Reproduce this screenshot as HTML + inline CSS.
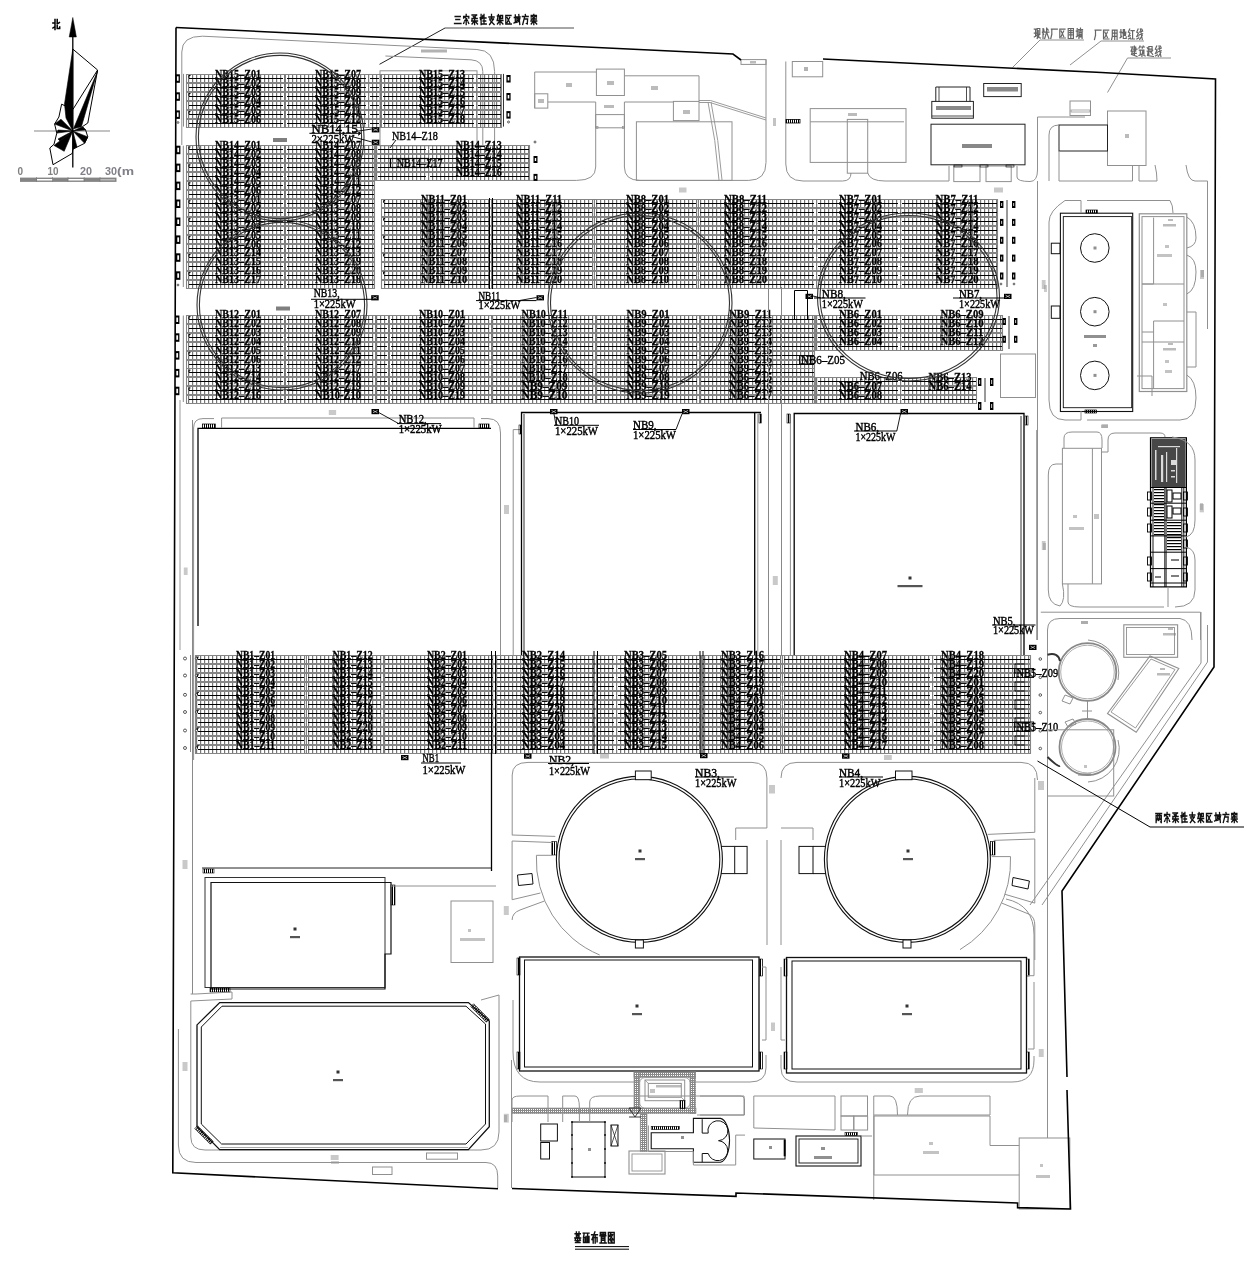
<!DOCTYPE html>
<html><head><meta charset="utf-8"><style>
html,body{margin:0;padding:0;background:#fff;}
svg{display:block;will-change:transform;}
</style></head><body>
<svg width="1254" height="1262" viewBox="0 0 1254 1262">
<defs>
<pattern id="pv" patternUnits="userSpaceOnUse" width="4" height="20" x="0" y="0">
<rect x="0" y="0" width="1.2" height="20" fill="#767676"/>
</pattern>
<pattern id="hatch" patternUnits="userSpaceOnUse" width="2" height="2">
<rect x="0" y="0" width="1" height="2" fill="#000"/>
</pattern>
<pattern id="dense" patternUnits="userSpaceOnUse" width="3" height="3">
<rect x="0" y="0" width="1.6" height="3" fill="#000"/><rect x="0" y="0" width="3" height="0.8" fill="#000"/>
</pattern>
<pattern id="dense2" patternUnits="userSpaceOnUse" width="2.5" height="3">
<rect x="0" y="0" width="2.5" height="1.2" fill="#000"/>
</pattern>
<pattern id="grav" patternUnits="userSpaceOnUse" width="2" height="2">
<rect x="0" y="0" width="1" height="2" fill="#888"/><rect x="0" y="0" width="2" height="1" fill="#888"/>
</pattern>
</defs>
<line x1="72.8" y1="30.0" x2="72.8" y2="167.5" stroke="#000" stroke-width="1.3" />
<polygon points="72.8,17.5 69.2,37.0 76.4,37.0" stroke="#000" stroke-width="0.5" fill="#000" />
<line x1="34.0" y1="131.0" x2="110.0" y2="131.0" stroke="#888" stroke-width="1.2" />
<polyline points="72.8,49.1 97.6,70.0 87.8,123.0 82.4,126.7 85.6,130.0 87.8,136.9 84.6,143.3 72.8,149.2 72.3,153.4 53.0,164.7 49.8,148.0 54.0,144.3 56.8,133.1 54.6,124.0 58.9,117.0 61.6,104.2 66.4,106.4 72.8,109.6 97.6,70.0" stroke="#000" stroke-width="1" fill="none" />
<polygon points="72.8,49.0 64.5,104.0 66.0,118.0 72.8,131.0" stroke="#000" stroke-width="0.6" fill="#000" />
<polygon points="97.6,71.0 73.5,128.8 81.4,126.7" stroke="#000" stroke-width="0.6" fill="#000" />
<polygon points="54.6,124.0 61.0,119.2 72.8,131.0" stroke="#000" stroke-width="0.6" fill="#000" />
<polygon points="56.8,133.1 58.0,130.0 72.8,131.0" stroke="#000" stroke-width="0.6" fill="#000" />
<polygon points="54.0,145.4 64.2,151.3 72.8,131.0" stroke="#000" stroke-width="0.6" fill="#000" />
<polygon points="72.8,149.2 77.0,147.0 72.8,131.0" stroke="#000" stroke-width="0.6" fill="#000" />
<polygon points="84.6,143.3 87.8,136.9 72.8,131.0" stroke="#000" stroke-width="0.6" fill="#000" />
<polygon points="82.4,126.7 85.6,130.0 72.8,131.0" stroke="#000" stroke-width="0.6" fill="#000" />
<polygon points="58.0,139.0 60.0,141.0 72.8,131.0" stroke="#000" stroke-width="0.6" fill="#000" />
<path d="M55.0,19.5L55.0,29.5M52.9,23.0L55.0,23.0M52.9,28.0L55.0,26.5M57.2,19.5L57.2,28.5M57.2,28.5L59.7,28.5M59.7,28.5L59.7,27.0M57.2,24.0L59.4,22.5" stroke="#000" stroke-width="1.5" fill="none" stroke-linecap="square"/>
<rect x="20.0" y="177.6" width="96.5" height="4.3" rx="0" stroke="none" stroke-width="0" fill="#858585" />
<rect x="37.0" y="179.0" width="15.5" height="1.5" rx="0" stroke="none" stroke-width="0" fill="#fff" />
<rect x="68.2" y="179.0" width="15.5" height="1.5" rx="0" stroke="none" stroke-width="0" fill="#fff" />
<rect x="100.0" y="179.0" width="15.0" height="1.5" rx="0" stroke="none" stroke-width="0" fill="#bbb" />
<line x1="36.5" y1="177.0" x2="36.5" y2="182.0" stroke="#777" stroke-width="0.6" />
<line x1="52.5" y1="177.0" x2="52.5" y2="182.0" stroke="#777" stroke-width="0.6" />
<line x1="68.0" y1="177.0" x2="68.0" y2="182.0" stroke="#777" stroke-width="0.6" />
<line x1="84.2" y1="177.0" x2="84.2" y2="182.0" stroke="#777" stroke-width="0.6" />
<line x1="100.0" y1="177.0" x2="100.0" y2="182.0" stroke="#777" stroke-width="0.6" />
<text x="17.5" y="174.5" font-family="Liberation Sans" font-size="10" fill="#808080" font-weight="bold">0</text>
<text x="47.5" y="174.5" font-family="Liberation Sans" font-size="10" fill="#808080" textLength="11.0" lengthAdjust="spacingAndGlyphs" font-weight="bold">10</text>
<text x="80.0" y="174.5" font-family="Liberation Sans" font-size="10" fill="#80808a" textLength="12.0" lengthAdjust="spacingAndGlyphs" font-weight="bold">20</text>
<text x="105.0" y="174.5" font-family="Liberation Sans" font-size="10" fill="#80808a" textLength="12.0" lengthAdjust="spacingAndGlyphs" font-weight="bold">30</text>
<text x="117.0" y="174.5" font-family="Liberation Sans" font-size="10" fill="#80808a" textLength="17.0" lengthAdjust="spacingAndGlyphs" font-weight="bold">(m</text>
<path d="M455.1,16.5L460.3,16.5M455.8,19.5L459.7,19.5M454.5,23.5L461.0,23.5M466.2,14.5L466.2,16.5M463.6,16.5L468.8,16.5M463.6,16.5L463.6,18.0M468.8,16.5L468.8,18.0M464.9,17.5L466.8,19.0M466.8,19.0L464.9,20.5M464.9,20.5L467.5,20.5M466.2,20.5L466.2,24.5M464.2,22.0L463.6,23.5M468.1,22.0L468.8,23.5M472.0,15.0L476.6,15.0M476.6,15.0L474.0,17.5M473.3,16.5L475.3,17.5M472.0,18.5L477.2,18.5M472.0,18.5L472.0,19.5M474.6,17.5L474.6,19.5M471.7,21.0L477.5,21.0M474.6,19.5L474.6,24.5M474.0,21.5L472.0,24.0M475.3,21.5L477.5,24.0M481.1,14.5L481.1,24.5M480.2,17.5L480.5,19.5M481.8,17.0L482.1,18.5M484.0,14.5L484.0,24.0M482.8,15.5L482.4,18.5M482.8,18.0L486.0,18.0M483.1,21.0L485.7,21.0M482.4,24.0L486.3,24.0M491.5,14.5L491.5,18.5M488.9,17.0L494.1,17.0M489.6,19.0L493.5,19.0M493.5,19.0L489.6,24.5M490.2,20.5L494.1,24.5M497.4,16.0L500.0,16.0M499.7,16.0L499.3,19.0M498.4,14.5L497.4,19.5M500.6,15.5L502.6,15.5M500.6,15.5L500.6,18.5M502.6,15.5L502.6,18.5M500.6,18.5L502.6,18.5M497.1,20.5L502.9,20.5M500.0,19.0L500.0,24.5M499.3,21.5L497.4,24.0M500.6,21.5L502.9,24.0M505.8,15.5L511.0,15.5M505.8,15.5L505.8,24.0M505.8,24.0L511.3,24.0M507.1,17.5L509.7,22.5M509.7,17.5L507.1,22.5M514.3,17.5L516.2,17.5M515.3,15.0L515.3,22.5M514.0,23.0L516.2,21.5M516.6,17.0L520.1,17.0M516.9,18.5L518.5,18.5M516.9,18.5L516.9,20.5M518.5,18.5L518.5,20.5M516.9,20.5L518.5,20.5M516.6,22.5L518.8,21.5M518.8,14.5L519.8,24.5M519.8,18.5L519.1,21.5M525.3,14.5L525.7,16.0M522.4,16.5L528.2,16.5M524.7,16.5L522.7,24.5M524.4,19.0L527.6,19.0M527.6,19.0L527.3,24.0M527.3,24.0L526.3,23.5M533.8,14.5L533.8,15.5M531.2,15.5L536.4,15.5M531.2,15.5L531.2,17.0M536.4,15.5L536.4,17.0M532.5,16.5L534.4,18.5M535.1,16.5L531.8,19.5M531.2,19.0L536.4,19.0M530.9,21.0L536.7,21.0M533.8,19.5L533.8,24.5M533.1,21.5L531.2,24.0M534.4,21.5L536.7,24.0" stroke="#111" stroke-width="1.3" fill="none" stroke-linecap="square"/>
<line x1="445.0" y1="28.0" x2="574.0" y2="28.0" stroke="#888" stroke-width="1.4" />
<line x1="445.0" y1="28.0" x2="379.5" y2="64.3" stroke="#222" stroke-width="1.0" />
<path d="M181.8,145 V52 Q181.8,36 202.5,36.2 L476.9,49.5 Q494.6,50 494.6,71.6 V145" stroke="#909090" stroke-width="1" fill="none" />
<path d="M385.4,56 L471,59.8 Q482.8,60.5 482.8,71.6 V145" stroke="#909090" stroke-width="1" fill="none" />
<rect x="421.0" y="49.5" width="26.0" height="3.0" rx="0" stroke="none" stroke-width="0" fill="#666" opacity="0.5"/>
<rect x="380.0" y="70.8" width="97.0" height="75.0" rx="0" stroke="#909090" stroke-width="1" fill="none" />
<polyline points="534.7,108.1 534.7,72.0 596.4,72.0" stroke="#909090" stroke-width="1" fill="none" />
<rect x="534.7" y="93.8" width="13.1" height="14.3" rx="0" stroke="#909090" stroke-width="1" fill="none" />
<polyline points="547.8,102.0 595.7,102.0" stroke="#909090" stroke-width="1" fill="none" />
<rect x="596.4" y="69.1" width="28.0" height="26.4" rx="0" stroke="#909090" stroke-width="1" fill="none" />
<polyline points="624.4,75.8 699.0,75.8 699.0,101.4" stroke="#909090" stroke-width="1" fill="none" />
<rect x="673.4" y="101.4" width="25.6" height="19.2" rx="0" stroke="#909090" stroke-width="1" fill="none" />
<rect x="595.7" y="114.6" width="28.7" height="13.2" rx="0" stroke="#909090" stroke-width="1" fill="none" />
<rect x="566.0" y="83.0" width="6.0" height="4.0" rx="0" stroke="none" stroke-width="0" fill="#777" opacity="0.5"/>
<rect x="607.0" y="81.0" width="7.0" height="4.0" rx="0" stroke="none" stroke-width="0" fill="#777" opacity="0.5"/>
<rect x="651.0" y="86.0" width="7.0" height="4.0" rx="0" stroke="none" stroke-width="0" fill="#777" opacity="0.5"/>
<rect x="683.0" y="110.0" width="7.0" height="4.0" rx="0" stroke="none" stroke-width="0" fill="#777" opacity="0.5"/>
<rect x="538.0" y="99.0" width="6.0" height="4.0" rx="0" stroke="none" stroke-width="0" fill="#777" opacity="0.5"/>
<rect x="604.0" y="105.0" width="10.0" height="3.0" rx="0" stroke="none" stroke-width="0" fill="#777" opacity="0.5"/>
<path d="M595.7,102 V167 Q595.7,180.4 576.6,180.4 H505" stroke="#909090" stroke-width="1" fill="none" />
<path d="M624.4,102 H673.4 M624.4,102 V167 Q624.4,180.4 640,180.4 H748.8 Q766,180.4 766,162.4 V59.6" stroke="#909090" stroke-width="1" fill="none" />
<rect x="596.0" y="126.5" width="2.0" height="2.0" rx="0" stroke="#888" stroke-width="0.6" fill="none" />
<rect x="622.5" y="126.5" width="2.0" height="2.0" rx="0" stroke="#888" stroke-width="0.6" fill="none" />
<rect x="636.4" y="121.8" width="95.6" height="58.6" rx="0" stroke="#909090" stroke-width="1" fill="none" />
<path d="M699,100.5 H710.5 L766,118 M699,102.5 H710 L766,120" stroke="#909090" stroke-width="0.9" fill="none" />
<path d="M708,102 Q716,140 719,180 M711,102 Q719,140 722,180" stroke="#909090" stroke-width="0.9" fill="none" />
<rect x="741.0" y="59.6" width="25.0" height="4.8" rx="0" stroke="#909090" stroke-width="1" fill="none" />
<rect x="750.0" y="61.0" width="6.0" height="2.5" rx="0" stroke="none" stroke-width="0" fill="#777" opacity="0.5"/>
<rect x="773.0" y="118.0" width="3.0" height="8.0" rx="0" stroke="none" stroke-width="0" fill="#888" opacity="0.5"/>
<path d="M785.8,61.5 V164 Q785.8,181 803,181 H842.5 Q851,181 851,173" stroke="#909090" stroke-width="1" fill="none" />
<rect x="792.3" y="61.5" width="30.4" height="15.3" rx="0" stroke="#909090" stroke-width="1" fill="none" />
<rect x="804.0" y="67.0" width="4.0" height="4.0" rx="0" stroke="none" stroke-width="0" fill="#666" opacity="0.5"/>
<rect x="786.0" y="119.4" width="14.0" height="3.6" rx="0" stroke="#000" stroke-width="0.8" fill="url(#hatch)" />
<rect x="810.2" y="108.6" width="95.8" height="53.8" rx="0" stroke="#909090" stroke-width="1" fill="none" />
<line x1="810.2" y1="121.8" x2="904.0" y2="121.8" stroke="#909090" stroke-width="1" />
<rect x="847.3" y="119.4" width="20.4" height="53.8" rx="0" stroke="#909090" stroke-width="1" fill="none" />
<rect x="848.0" y="113.0" width="9.0" height="3.0" rx="0" stroke="none" stroke-width="0" fill="#777" opacity="0.5"/>
<path d="M867.7,173 Q870,181 885,181 H949 V166" stroke="#909090" stroke-width="1" fill="none" />
<rect x="953.8" y="166.0" width="26.2" height="15.6" rx="0" stroke="#909090" stroke-width="1" fill="none" />
<rect x="986.0" y="166.0" width="25.2" height="15.6" rx="0" stroke="#909090" stroke-width="1" fill="none" />
<path d="M1017,166 V177 Q1017,181.5 1030,181.5 Q1037.5,181.5 1037.5,170 V117 H1085" stroke="#909090" stroke-width="1" fill="none" />
<rect x="931.0" y="124.2" width="94.0" height="40.6" rx="0" stroke="#222" stroke-width="1" fill="none" />
<rect x="962.0" y="144.0" width="30.0" height="4.0" rx="0" stroke="none" stroke-width="0" fill="#111" opacity="0.5"/>
<rect x="931.8" y="101.4" width="41.6" height="16.8" rx="0" stroke="#222" stroke-width="1" fill="none" />
<line x1="931.8" y1="116.0" x2="973.4" y2="116.0" stroke="#222" stroke-width="0.8" />
<polyline points="935.8,101.4 935.8,87.0 970.0,87.0 970.0,101.4" stroke="#222" stroke-width="1" fill="none" />
<line x1="939.0" y1="87.0" x2="939.0" y2="101.4" stroke="#222" stroke-width="0.8" />
<line x1="966.5" y1="87.0" x2="966.5" y2="101.4" stroke="#222" stroke-width="0.8" />
<rect x="936.0" y="106.0" width="35.0" height="4.0" rx="0" stroke="none" stroke-width="0" fill="#111" opacity="0.5"/>
<rect x="983.7" y="83.5" width="37.5" height="13.1" rx="0" stroke="#222" stroke-width="1" fill="none" />
<rect x="987.0" y="87.0" width="31.0" height="4.5" rx="0" stroke="none" stroke-width="0" fill="#111" opacity="0.5"/>
<rect x="954.0" y="165.0" width="8.0" height="2.0" rx="0" stroke="#000" stroke-width="0.6" fill="none" />
<rect x="980.0" y="165.0" width="8.0" height="2.0" rx="0" stroke="#000" stroke-width="0.6" fill="none" />
<rect x="1006.0" y="165.0" width="8.0" height="2.0" rx="0" stroke="#000" stroke-width="0.6" fill="none" />
<path d="M1034.3,29.1L1036.6,29.1M1034.3,33.2L1036.6,33.2M1035.6,29.1L1035.6,36.4M1034.3,36.9L1036.6,35.4M1037.2,28.5L1039.8,28.5M1037.2,28.5L1037.2,34.3M1039.8,28.5L1039.8,34.3M1037.2,34.3L1039.8,34.3M1038.2,30.6L1038.2,34.3M1038.2,34.3L1037.2,38.5M1038.8,34.3L1038.8,37.5M1038.8,37.5L1040.5,38.0M1043.0,28.5L1043.0,38.5M1042.4,32.2L1043.7,34.3M1043.7,29.1L1044.0,31.1M1044.3,32.2L1048.9,32.2M1046.6,28.0L1046.6,32.2M1046.6,32.2L1044.7,38.5M1046.6,32.2L1048.9,38.5M1047.6,29.1L1048.2,30.1M1051.4,29.1L1057.3,29.1M1051.8,29.1L1051.8,34.3M1051.8,34.3L1050.8,38.5M1059.8,29.1L1065.0,29.1M1059.8,29.1L1059.8,38.0M1059.8,38.0L1065.3,38.0M1061.1,31.1L1063.7,36.4M1063.7,31.1L1061.1,36.4M1068.2,28.5L1073.4,28.5M1068.2,28.5L1068.2,38.5M1073.4,28.5L1073.4,38.5M1068.2,38.5L1073.4,38.5M1069.5,30.6L1072.1,30.6M1069.5,32.7L1072.1,32.7M1069.5,34.8L1072.1,34.8M1070.8,29.6L1070.8,37.5M1076.3,31.1L1077.9,31.1M1077.2,28.5L1077.2,36.4M1076.3,36.9L1077.9,35.4M1078.6,29.6L1082.5,29.6M1080.5,28.0L1080.5,31.1M1078.6,31.1L1082.5,31.1M1078.9,32.7L1082.1,32.7M1078.9,32.7L1078.9,38.5M1082.1,32.7L1082.1,38.5M1079.9,34.3L1081.2,34.3M1079.9,34.3L1079.9,36.9M1081.2,34.3L1081.2,36.9M1079.9,36.9L1081.2,36.9" stroke="#666" stroke-width="1.2" fill="none" stroke-linecap="square"/>
<line x1="1040.0" y1="40.0" x2="1084.0" y2="40.0" stroke="#909090" stroke-width="1" />
<line x1="1040.0" y1="40.0" x2="1012.5" y2="67.5" stroke="#909090" stroke-width="1" />
<path d="M1095.1,30.1L1101.0,30.1M1095.5,30.1L1095.5,35.3M1095.5,35.3L1094.5,39.5M1103.5,30.1L1108.7,30.1M1103.5,30.1L1103.5,39.0M1103.5,39.0L1109.0,39.0M1104.8,32.1L1107.4,37.4M1107.4,32.1L1104.8,37.4M1112.3,30.1L1112.3,36.4M1112.3,36.4L1111.6,39.5M1112.3,30.1L1117.1,30.1M1117.1,30.1L1117.1,39.5M1112.3,33.2L1117.1,33.2M1112.3,36.4L1117.1,36.4M1114.7,30.1L1114.7,39.5M1120.0,32.1L1121.6,32.1M1120.9,29.5L1120.9,37.4M1120.0,37.9L1121.6,36.4M1122.3,32.7L1125.8,32.1M1125.8,32.1L1125.5,35.3M1123.3,29.5L1123.3,38.5M1124.5,29.5L1124.5,35.3M1123.3,38.5L1126.2,38.5M1126.2,38.5L1126.2,36.9M1129.7,29.0L1128.4,32.1M1128.4,32.1L1130.0,33.2M1130.0,33.2L1128.4,36.4M1128.4,36.4L1130.4,35.8M1128.4,39.0L1130.4,37.9M1131.0,30.6L1134.2,30.6M1132.6,30.6L1132.6,38.5M1130.7,39.0L1134.6,39.0M1138.1,29.0L1136.8,32.1M1136.8,32.1L1138.4,33.2M1138.4,33.2L1136.8,36.4M1136.8,36.4L1138.8,35.8M1136.8,39.0L1138.8,37.9M1139.4,32.1L1142.6,31.1M1139.4,34.8L1142.6,33.7M1140.4,29.0L1142.3,39.5M1142.3,35.3L1139.7,39.5M1141.7,29.0L1142.3,30.1" stroke="#666" stroke-width="1.2" fill="none" stroke-linecap="square"/>
<line x1="1101.0" y1="41.0" x2="1144.0" y2="41.0" stroke="#909090" stroke-width="1" />
<line x1="1101.0" y1="41.0" x2="1070.0" y2="65.0" stroke="#909090" stroke-width="1" />
<path d="M1133.1,47.0L1135.7,47.0M1135.7,47.0L1135.7,51.2M1133.1,49.1L1137.0,49.1M1133.1,51.2L1135.7,51.2M1134.4,46.0L1134.4,54.9M1133.1,53.4L1136.3,53.4M1130.8,47.0L1132.4,47.0M1132.4,47.0L1131.1,51.2M1131.1,51.2L1132.4,51.2M1132.4,51.2L1131.5,54.4M1131.5,54.4L1137.0,56.5M1140.0,46.0L1139.0,48.1M1139.7,47.0L1141.3,47.0M1143.2,46.0L1142.3,48.1M1142.9,47.0L1144.5,47.0M1139.3,50.2L1141.3,50.2M1140.3,50.2L1140.3,54.4M1139.0,55.5L1141.3,54.4M1141.9,50.2L1143.9,50.2M1143.9,50.2L1143.9,55.5M1143.9,55.5L1145.2,56.0M1142.9,50.2L1141.9,56.5M1142.6,52.3L1143.5,53.4M1148.8,46.5L1152.1,46.5M1148.8,46.5L1148.8,55.5M1152.1,46.5L1152.1,51.2M1148.8,49.1L1152.1,49.1M1148.8,51.2L1152.1,51.2M1150.1,51.2L1152.7,54.4M1152.7,50.2L1150.8,52.3M1147.2,47.6L1148.2,49.1M1147.2,51.2L1148.2,51.2M1148.2,51.2L1147.5,55.5M1147.5,55.5L1153.4,56.5M1156.7,46.0L1155.4,49.1M1155.4,49.1L1157.0,50.2M1157.0,50.2L1155.4,53.4M1155.4,53.4L1157.4,52.8M1155.4,56.0L1157.4,54.9M1158.0,49.1L1161.2,48.1M1158.0,51.8L1161.2,50.7M1159.0,46.0L1160.9,56.5M1160.9,52.3L1158.3,56.5M1160.3,46.0L1160.9,47.0" stroke="#666" stroke-width="1.2" fill="none" stroke-linecap="square"/>
<line x1="1127.5" y1="58.0" x2="1171.0" y2="58.0" stroke="#909090" stroke-width="1" />
<line x1="1127.5" y1="58.0" x2="1107.5" y2="92.5" stroke="#909090" stroke-width="1" />
<rect x="1070.0" y="101.0" width="20.5" height="14.5" rx="0" stroke="#909090" stroke-width="1" fill="none" />
<rect x="1071.0" y="110.0" width="19.0" height="2.0" rx="0" stroke="#777" stroke-width="0.6" fill="none" />
<rect x="1107.5" y="111.0" width="38.5" height="54.5" rx="0" stroke="#909090" stroke-width="1" fill="none" />
<rect x="1125.0" y="134.0" width="4.0" height="4.0" rx="0" stroke="none" stroke-width="0" fill="#777" opacity="0.5"/>
<rect x="1059.0" y="125.0" width="48.5" height="26.0" rx="0" stroke="#222" stroke-width="1" fill="none" />
<path d="M1049,181 V135 Q1049,125 1059,125" stroke="#909090" stroke-width="1" fill="none" />
<path d="M1059,151 V181 H1132.5 V165.5 M1139,165.5 V181 H1157 Q1157,173 1155,165 M1186,165 Q1188,181 1195,181 H1207.5 V329" stroke="#909090" stroke-width="1" fill="none" />
<path d="M1037.5,117 V170" stroke="#909090" stroke-width="1" fill="none" />
<rect x="186" y="74" width="316" height="9" fill="url(#pv)"/><rect x="186" y="83" width="316" height="9" fill="url(#pv)"/><rect x="186" y="92" width="316" height="9" fill="url(#pv)"/><rect x="186" y="101" width="316" height="9" fill="url(#pv)"/><rect x="186" y="110" width="316" height="9" fill="url(#pv)"/><rect x="186" y="119" width="316" height="9" fill="url(#pv)"/>
<path d="M186,74.5H502M186,82.5H502M186.5,74V83M501.5,74V83M186,83.5H502M186,91.5H502M186.5,83V92M501.5,83V92M186,92.5H502M186,100.5H502M186.5,92V101M501.5,92V101M186,101.5H502M186,109.5H502M186.5,101V110M501.5,101V110M186,110.5H502M186,118.5H502M186.5,110V119M501.5,110V119M186,119.5H502M186,127.5H502M186.5,119V128M501.5,119V128" stroke="#858585" stroke-width="1.1" fill="none" />
<path d="M189,78.5H283M287,78.5H366M370,78.5H379M383,78.5H474M478,78.5H501M189,87.5H283M287,87.5H366M370,87.5H379M383,87.5H474M478,87.5H501M189,96.5H283M287,96.5H366M370,96.5H379M383,96.5H474M478,96.5H501M189,105.5H283M287,105.5H366M370,105.5H379M383,105.5H474M478,105.5H501M189,114.5H283M287,114.5H366M370,114.5H379M383,114.5H474M478,114.5H501M189,123.5H283M287,123.5H366M370,123.5H379M383,123.5H474M478,123.5H501" stroke="#000" stroke-width="1.0" fill="none" />
<path d="M285.5,74V83M285.5,83V92M285.5,92V101M285.5,101V110M285.5,110V119M285.5,119V128" stroke="#808080" stroke-width="1.0" fill="none" />
<path d="M368.5,74V83M368.5,83V92M368.5,92V101M368.5,101V110M368.5,110V119M368.5,119V128" stroke="#808080" stroke-width="1.0" fill="none" />
<path d="M381.5,74V83M381.5,83V92M381.5,92V101M381.5,101V110M381.5,110V119M381.5,119V128" stroke="#808080" stroke-width="1.0" fill="none" />
<path d="M476.5,74V83M476.5,83V92M476.5,92V101M476.5,101V110M476.5,110V119M476.5,119V128" stroke="#808080" stroke-width="1.0" fill="none" />
<text x="215.0" y="77.7" font-family="Liberation Serif" font-size="13.5" fill="#000" textLength="46.0" lengthAdjust="spacingAndGlyphs" stroke="#000" stroke-width="0.3" font-weight="bold">NB15–Z01</text>
<text x="215.0" y="86.7" font-family="Liberation Serif" font-size="13.5" fill="#000" textLength="46.0" lengthAdjust="spacingAndGlyphs" stroke="#000" stroke-width="0.3" font-weight="bold">NB15–Z02</text>
<text x="215.0" y="95.7" font-family="Liberation Serif" font-size="13.5" fill="#000" textLength="46.0" lengthAdjust="spacingAndGlyphs" stroke="#000" stroke-width="0.3" font-weight="bold">NB15–Z03</text>
<text x="215.0" y="104.8" font-family="Liberation Serif" font-size="13.5" fill="#000" textLength="46.0" lengthAdjust="spacingAndGlyphs" stroke="#000" stroke-width="0.3" font-weight="bold">NB15–Z04</text>
<text x="215.0" y="113.8" font-family="Liberation Serif" font-size="13.5" fill="#000" textLength="46.0" lengthAdjust="spacingAndGlyphs" stroke="#000" stroke-width="0.3" font-weight="bold">NB15–Z05</text>
<text x="215.0" y="122.8" font-family="Liberation Serif" font-size="13.5" fill="#000" textLength="46.0" lengthAdjust="spacingAndGlyphs" stroke="#000" stroke-width="0.3" font-weight="bold">NB15–Z06</text>
<text x="315.0" y="77.7" font-family="Liberation Serif" font-size="13.5" fill="#000" textLength="46.0" lengthAdjust="spacingAndGlyphs" stroke="#000" stroke-width="0.3" font-weight="bold">NB15–Z07</text>
<text x="315.0" y="86.7" font-family="Liberation Serif" font-size="13.5" fill="#000" textLength="46.0" lengthAdjust="spacingAndGlyphs" stroke="#000" stroke-width="0.3" font-weight="bold">NB15–Z08</text>
<text x="315.0" y="95.7" font-family="Liberation Serif" font-size="13.5" fill="#000" textLength="46.0" lengthAdjust="spacingAndGlyphs" stroke="#000" stroke-width="0.3" font-weight="bold">NB15–Z09</text>
<text x="315.0" y="104.8" font-family="Liberation Serif" font-size="13.5" fill="#000" textLength="46.0" lengthAdjust="spacingAndGlyphs" stroke="#000" stroke-width="0.3" font-weight="bold">NB15–Z10</text>
<text x="315.0" y="113.8" font-family="Liberation Serif" font-size="13.5" fill="#000" textLength="46.0" lengthAdjust="spacingAndGlyphs" stroke="#000" stroke-width="0.3" font-weight="bold">NB15–Z11</text>
<text x="315.0" y="122.8" font-family="Liberation Serif" font-size="13.5" fill="#000" textLength="46.0" lengthAdjust="spacingAndGlyphs" stroke="#000" stroke-width="0.3" font-weight="bold">NB15–Z12</text>
<text x="419.0" y="77.7" font-family="Liberation Serif" font-size="13.5" fill="#000" textLength="46.0" lengthAdjust="spacingAndGlyphs" stroke="#000" stroke-width="0.3" font-weight="bold">NB15–Z13</text>
<text x="419.0" y="86.7" font-family="Liberation Serif" font-size="13.5" fill="#000" textLength="46.0" lengthAdjust="spacingAndGlyphs" stroke="#000" stroke-width="0.3" font-weight="bold">NB15–Z14</text>
<text x="419.0" y="95.7" font-family="Liberation Serif" font-size="13.5" fill="#000" textLength="46.0" lengthAdjust="spacingAndGlyphs" stroke="#000" stroke-width="0.3" font-weight="bold">NB15–Z15</text>
<text x="419.0" y="104.8" font-family="Liberation Serif" font-size="13.5" fill="#000" textLength="46.0" lengthAdjust="spacingAndGlyphs" stroke="#000" stroke-width="0.3" font-weight="bold">NB15–Z16</text>
<text x="419.0" y="113.8" font-family="Liberation Serif" font-size="13.5" fill="#000" textLength="46.0" lengthAdjust="spacingAndGlyphs" stroke="#000" stroke-width="0.3" font-weight="bold">NB15–Z17</text>
<text x="419.0" y="122.8" font-family="Liberation Serif" font-size="13.5" fill="#000" textLength="46.0" lengthAdjust="spacingAndGlyphs" stroke="#000" stroke-width="0.3" font-weight="bold">NB15–Z18</text>
<rect x="186" y="145" width="189" height="9" fill="url(#pv)"/><rect x="186" y="154" width="189" height="9" fill="url(#pv)"/><rect x="186" y="163" width="189" height="9" fill="url(#pv)"/><rect x="186" y="172" width="189" height="9" fill="url(#pv)"/><rect x="186" y="181" width="189" height="9" fill="url(#pv)"/><rect x="186" y="190" width="189" height="9" fill="url(#pv)"/><rect x="186" y="199" width="189" height="9" fill="url(#pv)"/><rect x="186" y="208" width="189" height="9" fill="url(#pv)"/><rect x="186" y="217" width="189" height="9" fill="url(#pv)"/><rect x="186" y="226" width="189" height="9" fill="url(#pv)"/><rect x="186" y="235" width="189" height="9" fill="url(#pv)"/><rect x="186" y="244" width="189" height="9" fill="url(#pv)"/><rect x="186" y="253" width="189" height="9" fill="url(#pv)"/><rect x="186" y="262" width="189" height="9" fill="url(#pv)"/><rect x="186" y="271" width="189" height="9" fill="url(#pv)"/><rect x="186" y="280" width="189" height="9" fill="url(#pv)"/>
<path d="M186,145.5H375M186,153.5H375M186.5,145V154M374.5,145V154M186,154.5H375M186,162.5H375M186.5,154V163M374.5,154V163M186,163.5H375M186,171.5H375M186.5,163V172M374.5,163V172M186,172.5H375M186,180.5H375M186.5,172V181M374.5,172V181M186,181.5H375M186,189.5H375M186.5,181V190M374.5,181V190M186,190.5H375M186,198.5H375M186.5,190V199M374.5,190V199M186,199.5H375M186,207.5H375M186.5,199V208M374.5,199V208M186,208.5H375M186,216.5H375M186.5,208V217M374.5,208V217M186,217.5H375M186,225.5H375M186.5,217V226M374.5,217V226M186,226.5H375M186,234.5H375M186.5,226V235M374.5,226V235M186,235.5H375M186,243.5H375M186.5,235V244M374.5,235V244M186,244.5H375M186,252.5H375M186.5,244V253M374.5,244V253M186,253.5H375M186,261.5H375M186.5,253V262M374.5,253V262M186,262.5H375M186,270.5H375M186.5,262V271M374.5,262V271M186,271.5H375M186,279.5H375M186.5,271V280M374.5,271V280M186,280.5H375M186,288.5H375M186.5,280V289M374.5,280V289" stroke="#858585" stroke-width="1.1" fill="none" />
<path d="M189,149.5H283M287,149.5H374M189,158.5H283M287,158.5H374M189,167.5H283M287,167.5H374M189,176.5H283M287,176.5H374M189,185.5H283M287,185.5H374M189,194.5H283M287,194.5H374M189,203.5H283M287,203.5H374M189,212.5H283M287,212.5H374M189,221.5H283M287,221.5H374M189,230.5H283M287,230.5H374M189,239.5H283M287,239.5H374M189,248.5H283M287,248.5H374M189,257.5H283M287,257.5H374M189,266.5H283M287,266.5H374M189,275.5H283M287,275.5H374M189,284.5H283M287,284.5H374" stroke="#000" stroke-width="1.0" fill="none" />
<path d="M285.5,145V154M285.5,154V163M285.5,163V172M285.5,172V181M285.5,181V190M285.5,190V199M285.5,199V208M285.5,208V217M285.5,217V226M285.5,226V235M285.5,235V244M285.5,244V253M285.5,253V262M285.5,262V271M285.5,271V280M285.5,280V289" stroke="#808080" stroke-width="1.0" fill="none" />
<text x="215.0" y="148.8" font-family="Liberation Serif" font-size="13.5" fill="#000" textLength="46.0" lengthAdjust="spacingAndGlyphs" stroke="#000" stroke-width="0.3" font-weight="bold">NB14–Z01</text>
<text x="215.0" y="157.8" font-family="Liberation Serif" font-size="13.5" fill="#000" textLength="46.0" lengthAdjust="spacingAndGlyphs" stroke="#000" stroke-width="0.3" font-weight="bold">NB14–Z02</text>
<text x="215.0" y="166.7" font-family="Liberation Serif" font-size="13.5" fill="#000" textLength="46.0" lengthAdjust="spacingAndGlyphs" stroke="#000" stroke-width="0.3" font-weight="bold">NB14–Z03</text>
<text x="215.0" y="175.7" font-family="Liberation Serif" font-size="13.5" fill="#000" textLength="46.0" lengthAdjust="spacingAndGlyphs" stroke="#000" stroke-width="0.3" font-weight="bold">NB14–Z04</text>
<text x="215.0" y="184.7" font-family="Liberation Serif" font-size="13.5" fill="#000" textLength="46.0" lengthAdjust="spacingAndGlyphs" stroke="#000" stroke-width="0.3" font-weight="bold">NB14–Z05</text>
<text x="215.0" y="193.7" font-family="Liberation Serif" font-size="13.5" fill="#000" textLength="46.0" lengthAdjust="spacingAndGlyphs" stroke="#000" stroke-width="0.3" font-weight="bold">NB14–Z06</text>
<text x="215.0" y="202.6" font-family="Liberation Serif" font-size="13.5" fill="#000" textLength="46.0" lengthAdjust="spacingAndGlyphs" stroke="#000" stroke-width="0.3" font-weight="bold">NB13–Z01</text>
<text x="215.0" y="211.6" font-family="Liberation Serif" font-size="13.5" fill="#000" textLength="46.0" lengthAdjust="spacingAndGlyphs" stroke="#000" stroke-width="0.3" font-weight="bold">NB13–Z02</text>
<text x="215.0" y="220.6" font-family="Liberation Serif" font-size="13.5" fill="#000" textLength="46.0" lengthAdjust="spacingAndGlyphs" stroke="#000" stroke-width="0.3" font-weight="bold">NB13–Z03</text>
<text x="215.0" y="229.5" font-family="Liberation Serif" font-size="13.5" fill="#000" textLength="46.0" lengthAdjust="spacingAndGlyphs" stroke="#000" stroke-width="0.3" font-weight="bold">NB13–Z04</text>
<text x="215.0" y="238.5" font-family="Liberation Serif" font-size="13.5" fill="#000" textLength="46.0" lengthAdjust="spacingAndGlyphs" stroke="#000" stroke-width="0.3" font-weight="bold">NB13–Z05</text>
<text x="215.0" y="247.5" font-family="Liberation Serif" font-size="13.5" fill="#000" textLength="46.0" lengthAdjust="spacingAndGlyphs" stroke="#000" stroke-width="0.3" font-weight="bold">NB13–Z06</text>
<text x="215.0" y="256.4" font-family="Liberation Serif" font-size="13.5" fill="#000" textLength="46.0" lengthAdjust="spacingAndGlyphs" stroke="#000" stroke-width="0.3" font-weight="bold">NB13–Z14</text>
<text x="215.0" y="265.4" font-family="Liberation Serif" font-size="13.5" fill="#000" textLength="46.0" lengthAdjust="spacingAndGlyphs" stroke="#000" stroke-width="0.3" font-weight="bold">NB13–Z15</text>
<text x="215.0" y="274.4" font-family="Liberation Serif" font-size="13.5" fill="#000" textLength="46.0" lengthAdjust="spacingAndGlyphs" stroke="#000" stroke-width="0.3" font-weight="bold">NB13–Z16</text>
<text x="215.0" y="283.4" font-family="Liberation Serif" font-size="13.5" fill="#000" textLength="46.0" lengthAdjust="spacingAndGlyphs" stroke="#000" stroke-width="0.3" font-weight="bold">NB13–Z17</text>
<text x="315.0" y="148.8" font-family="Liberation Serif" font-size="13.5" fill="#000" textLength="46.0" lengthAdjust="spacingAndGlyphs" stroke="#000" stroke-width="0.3" font-weight="bold">NB14–Z07</text>
<text x="315.0" y="157.8" font-family="Liberation Serif" font-size="13.5" fill="#000" textLength="46.0" lengthAdjust="spacingAndGlyphs" stroke="#000" stroke-width="0.3" font-weight="bold">NB14–Z08</text>
<text x="315.0" y="166.7" font-family="Liberation Serif" font-size="13.5" fill="#000" textLength="46.0" lengthAdjust="spacingAndGlyphs" stroke="#000" stroke-width="0.3" font-weight="bold">NB14–Z09</text>
<text x="315.0" y="175.7" font-family="Liberation Serif" font-size="13.5" fill="#000" textLength="46.0" lengthAdjust="spacingAndGlyphs" stroke="#000" stroke-width="0.3" font-weight="bold">NB14–Z10</text>
<text x="315.0" y="184.7" font-family="Liberation Serif" font-size="13.5" fill="#000" textLength="46.0" lengthAdjust="spacingAndGlyphs" stroke="#000" stroke-width="0.3" font-weight="bold">NB14–Z11</text>
<text x="315.0" y="193.7" font-family="Liberation Serif" font-size="13.5" fill="#000" textLength="46.0" lengthAdjust="spacingAndGlyphs" stroke="#000" stroke-width="0.3" font-weight="bold">NB14–Z12</text>
<text x="315.0" y="202.6" font-family="Liberation Serif" font-size="13.5" fill="#000" textLength="46.0" lengthAdjust="spacingAndGlyphs" stroke="#000" stroke-width="0.3" font-weight="bold">NB13–Z07</text>
<text x="315.0" y="211.6" font-family="Liberation Serif" font-size="13.5" fill="#000" textLength="46.0" lengthAdjust="spacingAndGlyphs" stroke="#000" stroke-width="0.3" font-weight="bold">NB13–Z08</text>
<text x="315.0" y="220.6" font-family="Liberation Serif" font-size="13.5" fill="#000" textLength="46.0" lengthAdjust="spacingAndGlyphs" stroke="#000" stroke-width="0.3" font-weight="bold">NB13–Z09</text>
<text x="315.0" y="229.5" font-family="Liberation Serif" font-size="13.5" fill="#000" textLength="46.0" lengthAdjust="spacingAndGlyphs" stroke="#000" stroke-width="0.3" font-weight="bold">NB13–Z10</text>
<text x="315.0" y="238.5" font-family="Liberation Serif" font-size="13.5" fill="#000" textLength="46.0" lengthAdjust="spacingAndGlyphs" stroke="#000" stroke-width="0.3" font-weight="bold">NB13–Z11</text>
<text x="315.0" y="247.5" font-family="Liberation Serif" font-size="13.5" fill="#000" textLength="46.0" lengthAdjust="spacingAndGlyphs" stroke="#000" stroke-width="0.3" font-weight="bold">NB13–Z12</text>
<text x="315.0" y="256.4" font-family="Liberation Serif" font-size="13.5" fill="#000" textLength="46.0" lengthAdjust="spacingAndGlyphs" stroke="#000" stroke-width="0.3" font-weight="bold">NB13–Z13</text>
<text x="315.0" y="265.4" font-family="Liberation Serif" font-size="13.5" fill="#000" textLength="46.0" lengthAdjust="spacingAndGlyphs" stroke="#000" stroke-width="0.3" font-weight="bold">NB13–Z19</text>
<text x="315.0" y="274.4" font-family="Liberation Serif" font-size="13.5" fill="#000" textLength="46.0" lengthAdjust="spacingAndGlyphs" stroke="#000" stroke-width="0.3" font-weight="bold">NB13–Z20</text>
<text x="315.0" y="283.4" font-family="Liberation Serif" font-size="13.5" fill="#000" textLength="46.0" lengthAdjust="spacingAndGlyphs" stroke="#000" stroke-width="0.3" font-weight="bold">NB13–Z18</text>
<rect x="375" y="145" width="155" height="9" fill="url(#pv)"/><rect x="375" y="154" width="155" height="9" fill="url(#pv)"/><rect x="375" y="163" width="155" height="9" fill="url(#pv)"/><rect x="375" y="172" width="155" height="9" fill="url(#pv)"/>
<path d="M375,145.5H530M375,153.5H530M375.5,145V154M529.5,145V154M375,154.5H530M375,162.5H530M375.5,154V163M529.5,154V163M375,163.5H530M375,171.5H530M375.5,163V172M529.5,163V172M375,172.5H530M375,180.5H530M375.5,172V181M529.5,172V181" stroke="#858585" stroke-width="1.1" fill="none" />
<path d="M378,149.5H426M430,149.5H529M378,158.5H426M430,158.5H529M378,167.5H426M430,167.5H529M378,176.5H426M430,176.5H529" stroke="#000" stroke-width="1.0" fill="none" />
<path d="M428.5,145V154M428.5,154V163M428.5,163V172M428.5,172V181" stroke="#808080" stroke-width="1.0" fill="none" />
<text x="455.7" y="148.8" font-family="Liberation Serif" font-size="13.5" fill="#000" textLength="46.0" lengthAdjust="spacingAndGlyphs" stroke="#000" stroke-width="0.3" font-weight="bold">NB14–Z13</text>
<text x="455.7" y="157.8" font-family="Liberation Serif" font-size="13.5" fill="#000" textLength="46.0" lengthAdjust="spacingAndGlyphs" stroke="#000" stroke-width="0.3" font-weight="bold">NB14–Z14</text>
<text x="455.7" y="166.7" font-family="Liberation Serif" font-size="13.5" fill="#000" textLength="46.0" lengthAdjust="spacingAndGlyphs" stroke="#000" stroke-width="0.3" font-weight="bold">NB14–Z15</text>
<text x="455.7" y="175.7" font-family="Liberation Serif" font-size="13.5" fill="#000" textLength="46.0" lengthAdjust="spacingAndGlyphs" stroke="#000" stroke-width="0.3" font-weight="bold">NB14–Z16</text>
<rect x="381" y="199" width="617" height="9" fill="url(#pv)"/><rect x="381" y="208" width="617" height="9" fill="url(#pv)"/><rect x="381" y="217" width="617" height="9" fill="url(#pv)"/><rect x="381" y="226" width="617" height="9" fill="url(#pv)"/><rect x="381" y="235" width="617" height="9" fill="url(#pv)"/><rect x="381" y="244" width="617" height="9" fill="url(#pv)"/><rect x="381" y="253" width="617" height="9" fill="url(#pv)"/><rect x="381" y="262" width="617" height="9" fill="url(#pv)"/><rect x="381" y="271" width="617" height="9" fill="url(#pv)"/><rect x="381" y="280" width="617" height="9" fill="url(#pv)"/>
<path d="M381,199.5H998M381,207.5H998M381.5,199V208M997.5,199V208M381,208.5H998M381,216.5H998M381.5,208V217M997.5,208V217M381,217.5H998M381,225.5H998M381.5,217V226M997.5,217V226M381,226.5H998M381,234.5H998M381.5,226V235M997.5,226V235M381,235.5H998M381,243.5H998M381.5,235V244M997.5,235V244M381,244.5H998M381,252.5H998M381.5,244V253M997.5,244V253M381,253.5H998M381,261.5H998M381.5,253V262M997.5,253V262M381,262.5H998M381,270.5H998M381.5,262V271M997.5,262V271M381,271.5H998M381,279.5H998M381.5,271V280M997.5,271V280M381,280.5H998M381,288.5H998M381.5,280V289M997.5,280V289" stroke="#858585" stroke-width="1.1" fill="none" />
<path d="M384,203.5H489M493,203.5H592M596,203.5H696M700,203.5H814M818,203.5H898M902,203.5H997M384,212.5H489M493,212.5H592M596,212.5H696M700,212.5H814M818,212.5H898M902,212.5H997M384,221.5H489M493,221.5H592M596,221.5H696M700,221.5H814M818,221.5H898M902,221.5H997M384,230.5H489M493,230.5H592M596,230.5H696M700,230.5H814M818,230.5H898M902,230.5H997M384,239.5H489M493,239.5H592M596,239.5H696M700,239.5H814M818,239.5H898M902,239.5H997M384,248.5H489M493,248.5H592M596,248.5H696M700,248.5H814M818,248.5H898M902,248.5H997M384,257.5H489M493,257.5H592M596,257.5H696M700,257.5H814M818,257.5H898M902,257.5H997M384,266.5H489M493,266.5H592M596,266.5H696M700,266.5H814M818,266.5H898M902,266.5H997M384,275.5H489M493,275.5H592M596,275.5H696M700,275.5H814M818,275.5H898M902,275.5H997M384,284.5H489M493,284.5H592M596,284.5H696M700,284.5H814M818,284.5H898M902,284.5H997" stroke="#000" stroke-width="1.0" fill="none" />
<path d="M491.5,199V208M491.5,208V217M491.5,217V226M491.5,226V235M491.5,235V244M491.5,244V253M491.5,253V262M491.5,262V271M491.5,271V280M491.5,280V289" stroke="#808080" stroke-width="1.0" fill="none" />
<path d="M594.5,199V208M594.5,208V217M594.5,217V226M594.5,226V235M594.5,235V244M594.5,244V253M594.5,253V262M594.5,262V271M594.5,271V280M594.5,280V289" stroke="#808080" stroke-width="1.0" fill="none" />
<path d="M698.5,199V208M698.5,208V217M698.5,217V226M698.5,226V235M698.5,235V244M698.5,244V253M698.5,253V262M698.5,262V271M698.5,271V280M698.5,280V289" stroke="#808080" stroke-width="1.0" fill="none" />
<path d="M816.5,199V208M816.5,208V217M816.5,217V226M816.5,226V235M816.5,235V244M816.5,244V253M816.5,253V262M816.5,262V271M816.5,271V280M816.5,280V289" stroke="#808080" stroke-width="1.0" fill="none" />
<path d="M900.5,199V208M900.5,208V217M900.5,217V226M900.5,226V235M900.5,235V244M900.5,244V253M900.5,253V262M900.5,262V271M900.5,271V280M900.5,280V289" stroke="#808080" stroke-width="1.0" fill="none" />
<line x1="489.5" y1="198.0" x2="489.5" y2="289.0" stroke="#000" stroke-width="1.0" />
<line x1="492.5" y1="198.0" x2="492.5" y2="289.0" stroke="#000" stroke-width="1.0" />
<text x="421.0" y="202.7" font-family="Liberation Serif" font-size="13.5" fill="#000" textLength="46.0" lengthAdjust="spacingAndGlyphs" stroke="#000" stroke-width="0.3" font-weight="bold">NB11–Z01</text>
<text x="421.0" y="211.6" font-family="Liberation Serif" font-size="13.5" fill="#000" textLength="46.0" lengthAdjust="spacingAndGlyphs" stroke="#000" stroke-width="0.3" font-weight="bold">NB11–Z02</text>
<text x="421.0" y="220.6" font-family="Liberation Serif" font-size="13.5" fill="#000" textLength="46.0" lengthAdjust="spacingAndGlyphs" stroke="#000" stroke-width="0.3" font-weight="bold">NB11–Z03</text>
<text x="421.0" y="229.5" font-family="Liberation Serif" font-size="13.5" fill="#000" textLength="46.0" lengthAdjust="spacingAndGlyphs" stroke="#000" stroke-width="0.3" font-weight="bold">NB11–Z04</text>
<text x="421.0" y="238.5" font-family="Liberation Serif" font-size="13.5" fill="#000" textLength="46.0" lengthAdjust="spacingAndGlyphs" stroke="#000" stroke-width="0.3" font-weight="bold">NB11–Z05</text>
<text x="421.0" y="247.4" font-family="Liberation Serif" font-size="13.5" fill="#000" textLength="46.0" lengthAdjust="spacingAndGlyphs" stroke="#000" stroke-width="0.3" font-weight="bold">NB11–Z06</text>
<text x="421.0" y="256.3" font-family="Liberation Serif" font-size="13.5" fill="#000" textLength="46.0" lengthAdjust="spacingAndGlyphs" stroke="#000" stroke-width="0.3" font-weight="bold">NB11–Z07</text>
<text x="421.0" y="265.3" font-family="Liberation Serif" font-size="13.5" fill="#000" textLength="46.0" lengthAdjust="spacingAndGlyphs" stroke="#000" stroke-width="0.3" font-weight="bold">NB11–Z08</text>
<text x="421.0" y="274.2" font-family="Liberation Serif" font-size="13.5" fill="#000" textLength="46.0" lengthAdjust="spacingAndGlyphs" stroke="#000" stroke-width="0.3" font-weight="bold">NB11–Z09</text>
<text x="421.0" y="283.2" font-family="Liberation Serif" font-size="13.5" fill="#000" textLength="46.0" lengthAdjust="spacingAndGlyphs" stroke="#000" stroke-width="0.3" font-weight="bold">NB11–Z10</text>
<text x="516.0" y="202.7" font-family="Liberation Serif" font-size="13.5" fill="#000" textLength="46.0" lengthAdjust="spacingAndGlyphs" stroke="#000" stroke-width="0.3" font-weight="bold">NB11–Z11</text>
<text x="516.0" y="211.6" font-family="Liberation Serif" font-size="13.5" fill="#000" textLength="46.0" lengthAdjust="spacingAndGlyphs" stroke="#000" stroke-width="0.3" font-weight="bold">NB11–Z12</text>
<text x="516.0" y="220.6" font-family="Liberation Serif" font-size="13.5" fill="#000" textLength="46.0" lengthAdjust="spacingAndGlyphs" stroke="#000" stroke-width="0.3" font-weight="bold">NB11–Z13</text>
<text x="516.0" y="229.5" font-family="Liberation Serif" font-size="13.5" fill="#000" textLength="46.0" lengthAdjust="spacingAndGlyphs" stroke="#000" stroke-width="0.3" font-weight="bold">NB11–Z14</text>
<text x="516.0" y="238.5" font-family="Liberation Serif" font-size="13.5" fill="#000" textLength="46.0" lengthAdjust="spacingAndGlyphs" stroke="#000" stroke-width="0.3" font-weight="bold">NB11–Z15</text>
<text x="516.0" y="247.4" font-family="Liberation Serif" font-size="13.5" fill="#000" textLength="46.0" lengthAdjust="spacingAndGlyphs" stroke="#000" stroke-width="0.3" font-weight="bold">NB11–Z16</text>
<text x="516.0" y="256.3" font-family="Liberation Serif" font-size="13.5" fill="#000" textLength="46.0" lengthAdjust="spacingAndGlyphs" stroke="#000" stroke-width="0.3" font-weight="bold">NB11–Z17</text>
<text x="516.0" y="265.3" font-family="Liberation Serif" font-size="13.5" fill="#000" textLength="46.0" lengthAdjust="spacingAndGlyphs" stroke="#000" stroke-width="0.3" font-weight="bold">NB11–Z18</text>
<text x="516.0" y="274.2" font-family="Liberation Serif" font-size="13.5" fill="#000" textLength="46.0" lengthAdjust="spacingAndGlyphs" stroke="#000" stroke-width="0.3" font-weight="bold">NB11–Z19</text>
<text x="516.0" y="283.2" font-family="Liberation Serif" font-size="13.5" fill="#000" textLength="46.0" lengthAdjust="spacingAndGlyphs" stroke="#000" stroke-width="0.3" font-weight="bold">NB11–Z20</text>
<text x="626.0" y="202.7" font-family="Liberation Serif" font-size="13.5" fill="#000" textLength="43.0" lengthAdjust="spacingAndGlyphs" stroke="#000" stroke-width="0.3" font-weight="bold">NB8–Z01</text>
<text x="626.0" y="211.6" font-family="Liberation Serif" font-size="13.5" fill="#000" textLength="43.0" lengthAdjust="spacingAndGlyphs" stroke="#000" stroke-width="0.3" font-weight="bold">NB8–Z02</text>
<text x="626.0" y="220.6" font-family="Liberation Serif" font-size="13.5" fill="#000" textLength="43.0" lengthAdjust="spacingAndGlyphs" stroke="#000" stroke-width="0.3" font-weight="bold">NB8–Z03</text>
<text x="626.0" y="229.5" font-family="Liberation Serif" font-size="13.5" fill="#000" textLength="43.0" lengthAdjust="spacingAndGlyphs" stroke="#000" stroke-width="0.3" font-weight="bold">NB8–Z04</text>
<text x="626.0" y="238.5" font-family="Liberation Serif" font-size="13.5" fill="#000" textLength="43.0" lengthAdjust="spacingAndGlyphs" stroke="#000" stroke-width="0.3" font-weight="bold">NB8–Z05</text>
<text x="626.0" y="247.4" font-family="Liberation Serif" font-size="13.5" fill="#000" textLength="43.0" lengthAdjust="spacingAndGlyphs" stroke="#000" stroke-width="0.3" font-weight="bold">NB8–Z06</text>
<text x="626.0" y="256.3" font-family="Liberation Serif" font-size="13.5" fill="#000" textLength="43.0" lengthAdjust="spacingAndGlyphs" stroke="#000" stroke-width="0.3" font-weight="bold">NB8–Z07</text>
<text x="626.0" y="265.3" font-family="Liberation Serif" font-size="13.5" fill="#000" textLength="43.0" lengthAdjust="spacingAndGlyphs" stroke="#000" stroke-width="0.3" font-weight="bold">NB8–Z08</text>
<text x="626.0" y="274.2" font-family="Liberation Serif" font-size="13.5" fill="#000" textLength="43.0" lengthAdjust="spacingAndGlyphs" stroke="#000" stroke-width="0.3" font-weight="bold">NB8–Z09</text>
<text x="626.0" y="283.2" font-family="Liberation Serif" font-size="13.5" fill="#000" textLength="43.0" lengthAdjust="spacingAndGlyphs" stroke="#000" stroke-width="0.3" font-weight="bold">NB8–Z10</text>
<text x="724.0" y="202.7" font-family="Liberation Serif" font-size="13.5" fill="#000" textLength="43.0" lengthAdjust="spacingAndGlyphs" stroke="#000" stroke-width="0.3" font-weight="bold">NB8–Z11</text>
<text x="724.0" y="211.6" font-family="Liberation Serif" font-size="13.5" fill="#000" textLength="43.0" lengthAdjust="spacingAndGlyphs" stroke="#000" stroke-width="0.3" font-weight="bold">NB8–Z12</text>
<text x="724.0" y="220.6" font-family="Liberation Serif" font-size="13.5" fill="#000" textLength="43.0" lengthAdjust="spacingAndGlyphs" stroke="#000" stroke-width="0.3" font-weight="bold">NB8–Z13</text>
<text x="724.0" y="229.5" font-family="Liberation Serif" font-size="13.5" fill="#000" textLength="43.0" lengthAdjust="spacingAndGlyphs" stroke="#000" stroke-width="0.3" font-weight="bold">NB8–Z14</text>
<text x="724.0" y="238.5" font-family="Liberation Serif" font-size="13.5" fill="#000" textLength="43.0" lengthAdjust="spacingAndGlyphs" stroke="#000" stroke-width="0.3" font-weight="bold">NB8–Z15</text>
<text x="724.0" y="247.4" font-family="Liberation Serif" font-size="13.5" fill="#000" textLength="43.0" lengthAdjust="spacingAndGlyphs" stroke="#000" stroke-width="0.3" font-weight="bold">NB8–Z16</text>
<text x="724.0" y="256.3" font-family="Liberation Serif" font-size="13.5" fill="#000" textLength="43.0" lengthAdjust="spacingAndGlyphs" stroke="#000" stroke-width="0.3" font-weight="bold">NB8–Z17</text>
<text x="724.0" y="265.3" font-family="Liberation Serif" font-size="13.5" fill="#000" textLength="43.0" lengthAdjust="spacingAndGlyphs" stroke="#000" stroke-width="0.3" font-weight="bold">NB8–Z18</text>
<text x="724.0" y="274.2" font-family="Liberation Serif" font-size="13.5" fill="#000" textLength="43.0" lengthAdjust="spacingAndGlyphs" stroke="#000" stroke-width="0.3" font-weight="bold">NB8–Z19</text>
<text x="724.0" y="283.2" font-family="Liberation Serif" font-size="13.5" fill="#000" textLength="43.0" lengthAdjust="spacingAndGlyphs" stroke="#000" stroke-width="0.3" font-weight="bold">NB8–Z20</text>
<text x="839.0" y="202.7" font-family="Liberation Serif" font-size="13.5" fill="#000" textLength="43.0" lengthAdjust="spacingAndGlyphs" stroke="#000" stroke-width="0.3" font-weight="bold">NB7–Z01</text>
<text x="839.0" y="211.6" font-family="Liberation Serif" font-size="13.5" fill="#000" textLength="43.0" lengthAdjust="spacingAndGlyphs" stroke="#000" stroke-width="0.3" font-weight="bold">NB7–Z02</text>
<text x="839.0" y="220.6" font-family="Liberation Serif" font-size="13.5" fill="#000" textLength="43.0" lengthAdjust="spacingAndGlyphs" stroke="#000" stroke-width="0.3" font-weight="bold">NB7–Z03</text>
<text x="839.0" y="229.5" font-family="Liberation Serif" font-size="13.5" fill="#000" textLength="43.0" lengthAdjust="spacingAndGlyphs" stroke="#000" stroke-width="0.3" font-weight="bold">NB7–Z04</text>
<text x="839.0" y="238.5" font-family="Liberation Serif" font-size="13.5" fill="#000" textLength="43.0" lengthAdjust="spacingAndGlyphs" stroke="#000" stroke-width="0.3" font-weight="bold">NB7–Z05</text>
<text x="839.0" y="247.4" font-family="Liberation Serif" font-size="13.5" fill="#000" textLength="43.0" lengthAdjust="spacingAndGlyphs" stroke="#000" stroke-width="0.3" font-weight="bold">NB7–Z06</text>
<text x="839.0" y="256.3" font-family="Liberation Serif" font-size="13.5" fill="#000" textLength="43.0" lengthAdjust="spacingAndGlyphs" stroke="#000" stroke-width="0.3" font-weight="bold">NB7–Z07</text>
<text x="839.0" y="265.3" font-family="Liberation Serif" font-size="13.5" fill="#000" textLength="43.0" lengthAdjust="spacingAndGlyphs" stroke="#000" stroke-width="0.3" font-weight="bold">NB7–Z08</text>
<text x="839.0" y="274.2" font-family="Liberation Serif" font-size="13.5" fill="#000" textLength="43.0" lengthAdjust="spacingAndGlyphs" stroke="#000" stroke-width="0.3" font-weight="bold">NB7–Z09</text>
<text x="839.0" y="283.2" font-family="Liberation Serif" font-size="13.5" fill="#000" textLength="43.0" lengthAdjust="spacingAndGlyphs" stroke="#000" stroke-width="0.3" font-weight="bold">NB7–Z10</text>
<text x="935.5" y="202.7" font-family="Liberation Serif" font-size="13.5" fill="#000" textLength="43.0" lengthAdjust="spacingAndGlyphs" stroke="#000" stroke-width="0.3" font-weight="bold">NB7–Z11</text>
<text x="935.5" y="211.6" font-family="Liberation Serif" font-size="13.5" fill="#000" textLength="43.0" lengthAdjust="spacingAndGlyphs" stroke="#000" stroke-width="0.3" font-weight="bold">NB7–Z12</text>
<text x="935.5" y="220.6" font-family="Liberation Serif" font-size="13.5" fill="#000" textLength="43.0" lengthAdjust="spacingAndGlyphs" stroke="#000" stroke-width="0.3" font-weight="bold">NB7–Z13</text>
<text x="935.5" y="229.5" font-family="Liberation Serif" font-size="13.5" fill="#000" textLength="43.0" lengthAdjust="spacingAndGlyphs" stroke="#000" stroke-width="0.3" font-weight="bold">NB7–Z14</text>
<text x="935.5" y="238.5" font-family="Liberation Serif" font-size="13.5" fill="#000" textLength="43.0" lengthAdjust="spacingAndGlyphs" stroke="#000" stroke-width="0.3" font-weight="bold">NB7–Z15</text>
<text x="935.5" y="247.4" font-family="Liberation Serif" font-size="13.5" fill="#000" textLength="43.0" lengthAdjust="spacingAndGlyphs" stroke="#000" stroke-width="0.3" font-weight="bold">NB7–Z16</text>
<text x="935.5" y="256.3" font-family="Liberation Serif" font-size="13.5" fill="#000" textLength="43.0" lengthAdjust="spacingAndGlyphs" stroke="#000" stroke-width="0.3" font-weight="bold">NB7–Z17</text>
<text x="935.5" y="265.3" font-family="Liberation Serif" font-size="13.5" fill="#000" textLength="43.0" lengthAdjust="spacingAndGlyphs" stroke="#000" stroke-width="0.3" font-weight="bold">NB7–Z18</text>
<text x="935.5" y="274.2" font-family="Liberation Serif" font-size="13.5" fill="#000" textLength="43.0" lengthAdjust="spacingAndGlyphs" stroke="#000" stroke-width="0.3" font-weight="bold">NB7–Z19</text>
<text x="935.5" y="283.2" font-family="Liberation Serif" font-size="13.5" fill="#000" textLength="43.0" lengthAdjust="spacingAndGlyphs" stroke="#000" stroke-width="0.3" font-weight="bold">NB7–Z20</text>
<rect x="186" y="315" width="629" height="9" fill="url(#pv)"/><rect x="186" y="324" width="629" height="9" fill="url(#pv)"/><rect x="186" y="333" width="629" height="9" fill="url(#pv)"/><rect x="186" y="342" width="629" height="9" fill="url(#pv)"/><rect x="186" y="351" width="629" height="9" fill="url(#pv)"/><rect x="186" y="360" width="629" height="9" fill="url(#pv)"/><rect x="186" y="368" width="629" height="9" fill="url(#pv)"/><rect x="186" y="377" width="629" height="9" fill="url(#pv)"/><rect x="186" y="386" width="629" height="9" fill="url(#pv)"/><rect x="186" y="395" width="629" height="9" fill="url(#pv)"/>
<path d="M186,315.5H815M186,323.5H815M186.5,315V324M814.5,315V324M186,324.5H815M186,332.5H815M186.5,324V333M814.5,324V333M186,333.5H815M186,341.5H815M186.5,333V342M814.5,333V342M186,342.5H815M186,350.5H815M186.5,342V351M814.5,342V351M186,351.5H815M186,359.5H815M186.5,351V360M814.5,351V360M186,360.5H815M186,368.5H815M186.5,360V369M814.5,360V369M186,368.5H815M186,376.5H815M186.5,368V377M814.5,368V377M186,377.5H815M186,385.5H815M186.5,377V386M814.5,377V386M186,386.5H815M186,394.5H815M186.5,386V395M814.5,386V395M186,395.5H815M186,403.5H815M186.5,395V404M814.5,395V404" stroke="#858585" stroke-width="1.1" fill="none" />
<path d="M189,319.5H283M287,319.5H373M377,319.5H387M391,319.5H489M493,319.5H593M597,319.5H697M701,319.5H814M189,328.5H283M287,328.5H373M377,328.5H387M391,328.5H489M493,328.5H593M597,328.5H697M701,328.5H814M189,337.5H283M287,337.5H373M377,337.5H387M391,337.5H489M493,337.5H593M597,337.5H697M701,337.5H814M189,346.5H283M287,346.5H373M377,346.5H387M391,346.5H489M493,346.5H593M597,346.5H697M701,346.5H814M189,355.5H283M287,355.5H373M377,355.5H387M391,355.5H489M493,355.5H593M597,355.5H697M701,355.5H814M189,364.5H283M287,364.5H373M377,364.5H387M391,364.5H489M493,364.5H593M597,364.5H697M701,364.5H814M189,372.5H283M287,372.5H373M377,372.5H387M391,372.5H489M493,372.5H593M597,372.5H697M701,372.5H814M189,381.5H283M287,381.5H373M377,381.5H387M391,381.5H489M493,381.5H593M597,381.5H697M701,381.5H814M189,390.5H283M287,390.5H373M377,390.5H387M391,390.5H489M493,390.5H593M597,390.5H697M701,390.5H814M189,399.5H283M287,399.5H373M377,399.5H387M391,399.5H489M493,399.5H593M597,399.5H697M701,399.5H814" stroke="#000" stroke-width="1.0" fill="none" />
<path d="M285.5,315V324M285.5,324V333M285.5,333V342M285.5,342V351M285.5,351V360M285.5,360V369M285.5,368V377M285.5,377V386M285.5,386V395M285.5,395V404" stroke="#808080" stroke-width="1.0" fill="none" />
<path d="M375.5,315V324M375.5,324V333M375.5,333V342M375.5,342V351M375.5,351V360M375.5,360V369M375.5,368V377M375.5,377V386M375.5,386V395M375.5,395V404" stroke="#808080" stroke-width="1.0" fill="none" />
<path d="M389.5,315V324M389.5,324V333M389.5,333V342M389.5,342V351M389.5,351V360M389.5,360V369M389.5,368V377M389.5,377V386M389.5,386V395M389.5,395V404" stroke="#808080" stroke-width="1.0" fill="none" />
<path d="M491.5,315V324M491.5,324V333M491.5,333V342M491.5,342V351M491.5,351V360M491.5,360V369M491.5,368V377M491.5,377V386M491.5,386V395M491.5,395V404" stroke="#808080" stroke-width="1.0" fill="none" />
<path d="M595.5,315V324M595.5,324V333M595.5,333V342M595.5,342V351M595.5,351V360M595.5,360V369M595.5,368V377M595.5,377V386M595.5,386V395M595.5,395V404" stroke="#808080" stroke-width="1.0" fill="none" />
<path d="M699.5,315V324M699.5,324V333M699.5,333V342M699.5,342V351M699.5,351V360M699.5,360V369M699.5,368V377M699.5,377V386M699.5,386V395M699.5,395V404" stroke="#808080" stroke-width="1.0" fill="none" />
<text x="215.0" y="318.4" font-family="Liberation Serif" font-size="13.5" fill="#000" textLength="46.0" lengthAdjust="spacingAndGlyphs" stroke="#000" stroke-width="0.3" font-weight="bold">NB12–Z01</text>
<text x="215.0" y="327.3" font-family="Liberation Serif" font-size="13.5" fill="#000" textLength="46.0" lengthAdjust="spacingAndGlyphs" stroke="#000" stroke-width="0.3" font-weight="bold">NB12–Z02</text>
<text x="215.0" y="336.2" font-family="Liberation Serif" font-size="13.5" fill="#000" textLength="46.0" lengthAdjust="spacingAndGlyphs" stroke="#000" stroke-width="0.3" font-weight="bold">NB12–Z03</text>
<text x="215.0" y="345.1" font-family="Liberation Serif" font-size="13.5" fill="#000" textLength="46.0" lengthAdjust="spacingAndGlyphs" stroke="#000" stroke-width="0.3" font-weight="bold">NB12–Z04</text>
<text x="215.0" y="354.0" font-family="Liberation Serif" font-size="13.5" fill="#000" textLength="46.0" lengthAdjust="spacingAndGlyphs" stroke="#000" stroke-width="0.3" font-weight="bold">NB12–Z05</text>
<text x="215.0" y="362.9" font-family="Liberation Serif" font-size="13.5" fill="#000" textLength="46.0" lengthAdjust="spacingAndGlyphs" stroke="#000" stroke-width="0.3" font-weight="bold">NB12–Z06</text>
<text x="215.0" y="371.8" font-family="Liberation Serif" font-size="13.5" fill="#000" textLength="46.0" lengthAdjust="spacingAndGlyphs" stroke="#000" stroke-width="0.3" font-weight="bold">NB12–Z13</text>
<text x="215.0" y="380.7" font-family="Liberation Serif" font-size="13.5" fill="#000" textLength="46.0" lengthAdjust="spacingAndGlyphs" stroke="#000" stroke-width="0.3" font-weight="bold">NB12–Z14</text>
<text x="215.0" y="389.6" font-family="Liberation Serif" font-size="13.5" fill="#000" textLength="46.0" lengthAdjust="spacingAndGlyphs" stroke="#000" stroke-width="0.3" font-weight="bold">NB12–Z15</text>
<text x="215.0" y="398.5" font-family="Liberation Serif" font-size="13.5" fill="#000" textLength="46.0" lengthAdjust="spacingAndGlyphs" stroke="#000" stroke-width="0.3" font-weight="bold">NB12–Z16</text>
<text x="315.0" y="318.4" font-family="Liberation Serif" font-size="13.5" fill="#000" textLength="46.0" lengthAdjust="spacingAndGlyphs" stroke="#000" stroke-width="0.3" font-weight="bold">NB12–Z07</text>
<text x="315.0" y="327.3" font-family="Liberation Serif" font-size="13.5" fill="#000" textLength="46.0" lengthAdjust="spacingAndGlyphs" stroke="#000" stroke-width="0.3" font-weight="bold">NB12–Z08</text>
<text x="315.0" y="336.2" font-family="Liberation Serif" font-size="13.5" fill="#000" textLength="46.0" lengthAdjust="spacingAndGlyphs" stroke="#000" stroke-width="0.3" font-weight="bold">NB12–Z09</text>
<text x="315.0" y="345.1" font-family="Liberation Serif" font-size="13.5" fill="#000" textLength="46.0" lengthAdjust="spacingAndGlyphs" stroke="#000" stroke-width="0.3" font-weight="bold">NB12–Z10</text>
<text x="315.0" y="354.0" font-family="Liberation Serif" font-size="13.5" fill="#000" textLength="46.0" lengthAdjust="spacingAndGlyphs" stroke="#000" stroke-width="0.3" font-weight="bold">NB12–Z11</text>
<text x="315.0" y="362.9" font-family="Liberation Serif" font-size="13.5" fill="#000" textLength="46.0" lengthAdjust="spacingAndGlyphs" stroke="#000" stroke-width="0.3" font-weight="bold">NB12–Z12</text>
<text x="315.0" y="371.8" font-family="Liberation Serif" font-size="13.5" fill="#000" textLength="46.0" lengthAdjust="spacingAndGlyphs" stroke="#000" stroke-width="0.3" font-weight="bold">NB12–Z17</text>
<text x="315.0" y="380.7" font-family="Liberation Serif" font-size="13.5" fill="#000" textLength="46.0" lengthAdjust="spacingAndGlyphs" stroke="#000" stroke-width="0.3" font-weight="bold">NB12–Z18</text>
<text x="315.0" y="389.6" font-family="Liberation Serif" font-size="13.5" fill="#000" textLength="46.0" lengthAdjust="spacingAndGlyphs" stroke="#000" stroke-width="0.3" font-weight="bold">NB12–Z19</text>
<text x="315.0" y="398.5" font-family="Liberation Serif" font-size="13.5" fill="#000" textLength="46.0" lengthAdjust="spacingAndGlyphs" stroke="#000" stroke-width="0.3" font-weight="bold">NB10-Z10</text>
<text x="419.0" y="318.4" font-family="Liberation Serif" font-size="13.5" fill="#000" textLength="46.0" lengthAdjust="spacingAndGlyphs" stroke="#000" stroke-width="0.3" font-weight="bold">NB10–Z01</text>
<text x="419.0" y="327.3" font-family="Liberation Serif" font-size="13.5" fill="#000" textLength="46.0" lengthAdjust="spacingAndGlyphs" stroke="#000" stroke-width="0.3" font-weight="bold">NB10–Z02</text>
<text x="419.0" y="336.2" font-family="Liberation Serif" font-size="13.5" fill="#000" textLength="46.0" lengthAdjust="spacingAndGlyphs" stroke="#000" stroke-width="0.3" font-weight="bold">NB10–Z03</text>
<text x="419.0" y="345.1" font-family="Liberation Serif" font-size="13.5" fill="#000" textLength="46.0" lengthAdjust="spacingAndGlyphs" stroke="#000" stroke-width="0.3" font-weight="bold">NB10–Z04</text>
<text x="419.0" y="354.0" font-family="Liberation Serif" font-size="13.5" fill="#000" textLength="46.0" lengthAdjust="spacingAndGlyphs" stroke="#000" stroke-width="0.3" font-weight="bold">NB10–Z05</text>
<text x="419.0" y="362.9" font-family="Liberation Serif" font-size="13.5" fill="#000" textLength="46.0" lengthAdjust="spacingAndGlyphs" stroke="#000" stroke-width="0.3" font-weight="bold">NB10–Z06</text>
<text x="419.0" y="371.8" font-family="Liberation Serif" font-size="13.5" fill="#000" textLength="46.0" lengthAdjust="spacingAndGlyphs" stroke="#000" stroke-width="0.3" font-weight="bold">NB10–Z07</text>
<text x="419.0" y="380.7" font-family="Liberation Serif" font-size="13.5" fill="#000" textLength="46.0" lengthAdjust="spacingAndGlyphs" stroke="#000" stroke-width="0.3" font-weight="bold">NB10–Z08</text>
<text x="419.0" y="389.6" font-family="Liberation Serif" font-size="13.5" fill="#000" textLength="46.0" lengthAdjust="spacingAndGlyphs" stroke="#000" stroke-width="0.3" font-weight="bold">NB10–Z09</text>
<text x="419.0" y="398.5" font-family="Liberation Serif" font-size="13.5" fill="#000" textLength="46.0" lengthAdjust="spacingAndGlyphs" stroke="#000" stroke-width="0.3" font-weight="bold">NB10–Z19</text>
<text x="521.5" y="318.4" font-family="Liberation Serif" font-size="13.5" fill="#000" textLength="46.0" lengthAdjust="spacingAndGlyphs" stroke="#000" stroke-width="0.3" font-weight="bold">NB10–Z11</text>
<text x="521.5" y="327.3" font-family="Liberation Serif" font-size="13.5" fill="#000" textLength="46.0" lengthAdjust="spacingAndGlyphs" stroke="#000" stroke-width="0.3" font-weight="bold">NB10–Z12</text>
<text x="521.5" y="336.2" font-family="Liberation Serif" font-size="13.5" fill="#000" textLength="46.0" lengthAdjust="spacingAndGlyphs" stroke="#000" stroke-width="0.3" font-weight="bold">NB10–Z13</text>
<text x="521.5" y="345.1" font-family="Liberation Serif" font-size="13.5" fill="#000" textLength="46.0" lengthAdjust="spacingAndGlyphs" stroke="#000" stroke-width="0.3" font-weight="bold">NB10–Z14</text>
<text x="521.5" y="354.0" font-family="Liberation Serif" font-size="13.5" fill="#000" textLength="46.0" lengthAdjust="spacingAndGlyphs" stroke="#000" stroke-width="0.3" font-weight="bold">NB10–Z15</text>
<text x="521.5" y="362.9" font-family="Liberation Serif" font-size="13.5" fill="#000" textLength="46.0" lengthAdjust="spacingAndGlyphs" stroke="#000" stroke-width="0.3" font-weight="bold">NB10–Z16</text>
<text x="521.5" y="371.8" font-family="Liberation Serif" font-size="13.5" fill="#000" textLength="46.0" lengthAdjust="spacingAndGlyphs" stroke="#000" stroke-width="0.3" font-weight="bold">NB10–Z17</text>
<text x="521.5" y="380.7" font-family="Liberation Serif" font-size="13.5" fill="#000" textLength="46.0" lengthAdjust="spacingAndGlyphs" stroke="#000" stroke-width="0.3" font-weight="bold">NB10–Z18</text>
<text x="521.5" y="389.6" font-family="Liberation Serif" font-size="13.5" fill="#000" textLength="46.0" lengthAdjust="spacingAndGlyphs" stroke="#000" stroke-width="0.3" font-weight="bold">NB9–Z09</text>
<text x="521.5" y="398.5" font-family="Liberation Serif" font-size="13.5" fill="#000" textLength="46.0" lengthAdjust="spacingAndGlyphs" stroke="#000" stroke-width="0.3" font-weight="bold">NB9–Z10</text>
<text x="626.5" y="318.4" font-family="Liberation Serif" font-size="13.5" fill="#000" textLength="43.0" lengthAdjust="spacingAndGlyphs" stroke="#000" stroke-width="0.3" font-weight="bold">NB9–Z01</text>
<text x="626.5" y="327.3" font-family="Liberation Serif" font-size="13.5" fill="#000" textLength="43.0" lengthAdjust="spacingAndGlyphs" stroke="#000" stroke-width="0.3" font-weight="bold">NB9–Z02</text>
<text x="626.5" y="336.2" font-family="Liberation Serif" font-size="13.5" fill="#000" textLength="43.0" lengthAdjust="spacingAndGlyphs" stroke="#000" stroke-width="0.3" font-weight="bold">NB9–Z03</text>
<text x="626.5" y="345.1" font-family="Liberation Serif" font-size="13.5" fill="#000" textLength="43.0" lengthAdjust="spacingAndGlyphs" stroke="#000" stroke-width="0.3" font-weight="bold">NB9–Z04</text>
<text x="626.5" y="354.0" font-family="Liberation Serif" font-size="13.5" fill="#000" textLength="43.0" lengthAdjust="spacingAndGlyphs" stroke="#000" stroke-width="0.3" font-weight="bold">NB9–Z05</text>
<text x="626.5" y="362.9" font-family="Liberation Serif" font-size="13.5" fill="#000" textLength="43.0" lengthAdjust="spacingAndGlyphs" stroke="#000" stroke-width="0.3" font-weight="bold">NB9–Z06</text>
<text x="626.5" y="371.8" font-family="Liberation Serif" font-size="13.5" fill="#000" textLength="43.0" lengthAdjust="spacingAndGlyphs" stroke="#000" stroke-width="0.3" font-weight="bold">NB9–Z07</text>
<text x="626.5" y="380.7" font-family="Liberation Serif" font-size="13.5" fill="#000" textLength="43.0" lengthAdjust="spacingAndGlyphs" stroke="#000" stroke-width="0.3" font-weight="bold">NB9–Z08</text>
<text x="626.5" y="389.6" font-family="Liberation Serif" font-size="13.5" fill="#000" textLength="43.0" lengthAdjust="spacingAndGlyphs" stroke="#000" stroke-width="0.3" font-weight="bold">NB9–Z10</text>
<text x="626.5" y="398.5" font-family="Liberation Serif" font-size="13.5" fill="#000" textLength="43.0" lengthAdjust="spacingAndGlyphs" stroke="#000" stroke-width="0.3" font-weight="bold">NB9–Z19</text>
<text x="729.0" y="318.4" font-family="Liberation Serif" font-size="13.5" fill="#000" textLength="43.0" lengthAdjust="spacingAndGlyphs" stroke="#000" stroke-width="0.3" font-weight="bold">NB9–Z11</text>
<text x="729.0" y="327.3" font-family="Liberation Serif" font-size="13.5" fill="#000" textLength="43.0" lengthAdjust="spacingAndGlyphs" stroke="#000" stroke-width="0.3" font-weight="bold">NB9–Z12</text>
<text x="729.0" y="336.2" font-family="Liberation Serif" font-size="13.5" fill="#000" textLength="43.0" lengthAdjust="spacingAndGlyphs" stroke="#000" stroke-width="0.3" font-weight="bold">NB9–Z13</text>
<text x="729.0" y="345.1" font-family="Liberation Serif" font-size="13.5" fill="#000" textLength="43.0" lengthAdjust="spacingAndGlyphs" stroke="#000" stroke-width="0.3" font-weight="bold">NB9–Z14</text>
<text x="729.0" y="354.0" font-family="Liberation Serif" font-size="13.5" fill="#000" textLength="43.0" lengthAdjust="spacingAndGlyphs" stroke="#000" stroke-width="0.3" font-weight="bold">NB9–Z15</text>
<text x="729.0" y="362.9" font-family="Liberation Serif" font-size="13.5" fill="#000" textLength="43.0" lengthAdjust="spacingAndGlyphs" stroke="#000" stroke-width="0.3" font-weight="bold">NB9–Z16</text>
<text x="729.0" y="371.8" font-family="Liberation Serif" font-size="13.5" fill="#000" textLength="43.0" lengthAdjust="spacingAndGlyphs" stroke="#000" stroke-width="0.3" font-weight="bold">NB9–Z17</text>
<text x="729.0" y="380.7" font-family="Liberation Serif" font-size="13.5" fill="#000" textLength="43.0" lengthAdjust="spacingAndGlyphs" stroke="#000" stroke-width="0.3" font-weight="bold">NB6–Z15</text>
<text x="729.0" y="389.6" font-family="Liberation Serif" font-size="13.5" fill="#000" textLength="43.0" lengthAdjust="spacingAndGlyphs" stroke="#000" stroke-width="0.3" font-weight="bold">NB6–Z16</text>
<text x="729.0" y="398.5" font-family="Liberation Serif" font-size="13.5" fill="#000" textLength="43.0" lengthAdjust="spacingAndGlyphs" stroke="#000" stroke-width="0.3" font-weight="bold">NB6–Z17</text>
<rect x="815" y="315" width="188" height="9" fill="url(#pv)"/><rect x="815" y="324" width="188" height="9" fill="url(#pv)"/><rect x="815" y="333" width="188" height="9" fill="url(#pv)"/><rect x="815" y="342" width="188" height="9" fill="url(#pv)"/>
<path d="M815,315.5H1003M815,323.5H1003M815.5,315V324M1002.5,315V324M815,324.5H1003M815,332.5H1003M815.5,324V333M1002.5,324V333M815,333.5H1003M815,341.5H1003M815.5,333V342M1002.5,333V342M815,342.5H1003M815,350.5H1003M815.5,342V351M1002.5,342V351" stroke="#858585" stroke-width="1.1" fill="none" />
<path d="M818,319.5H898M902,319.5H1002M818,328.5H898M902,328.5H1002M818,337.5H898M902,337.5H1002M818,346.5H898M902,346.5H1002" stroke="#000" stroke-width="1.0" fill="none" />
<path d="M900.5,315V324M900.5,324V333M900.5,333V342M900.5,342V351" stroke="#808080" stroke-width="1.0" fill="none" />
<text x="839.0" y="318.4" font-family="Liberation Serif" font-size="13.5" fill="#000" textLength="43.0" lengthAdjust="spacingAndGlyphs" stroke="#000" stroke-width="0.3" font-weight="bold">NB6–Z01</text>
<text x="839.0" y="327.3" font-family="Liberation Serif" font-size="13.5" fill="#000" textLength="43.0" lengthAdjust="spacingAndGlyphs" stroke="#000" stroke-width="0.3" font-weight="bold">NB6–Z02</text>
<text x="839.0" y="336.2" font-family="Liberation Serif" font-size="13.5" fill="#000" textLength="43.0" lengthAdjust="spacingAndGlyphs" stroke="#000" stroke-width="0.3" font-weight="bold">NB6–Z03</text>
<text x="839.0" y="345.1" font-family="Liberation Serif" font-size="13.5" fill="#000" textLength="43.0" lengthAdjust="spacingAndGlyphs" stroke="#000" stroke-width="0.3" font-weight="bold">NB6–Z04</text>
<text x="940.5" y="318.4" font-family="Liberation Serif" font-size="13.5" fill="#000" textLength="43.0" lengthAdjust="spacingAndGlyphs" stroke="#000" stroke-width="0.3" font-weight="bold">NB6–Z09</text>
<text x="940.5" y="327.3" font-family="Liberation Serif" font-size="13.5" fill="#000" textLength="43.0" lengthAdjust="spacingAndGlyphs" stroke="#000" stroke-width="0.3" font-weight="bold">NB6–Z10</text>
<text x="940.5" y="336.2" font-family="Liberation Serif" font-size="13.5" fill="#000" textLength="43.0" lengthAdjust="spacingAndGlyphs" stroke="#000" stroke-width="0.3" font-weight="bold">NB6–Z11</text>
<text x="940.5" y="345.1" font-family="Liberation Serif" font-size="13.5" fill="#000" textLength="43.0" lengthAdjust="spacingAndGlyphs" stroke="#000" stroke-width="0.3" font-weight="bold">NB6–Z12</text>
<rect x="815" y="377" width="162" height="9" fill="url(#pv)"/><rect x="815" y="386" width="162" height="9" fill="url(#pv)"/><rect x="815" y="395" width="162" height="9" fill="url(#pv)"/>
<path d="M815,377.5H977M815,385.5H977M815.5,377V386M976.5,377V386M815,386.5H977M815,394.5H977M815.5,386V395M976.5,386V395M815,395.5H977M815,403.5H977M815.5,395V404M976.5,395V404" stroke="#858585" stroke-width="1.1" fill="none" />
<path d="M818,381.5H898M902,381.5H976M818,390.5H898M902,390.5H976M818,399.5H898M902,399.5H976" stroke="#000" stroke-width="1.0" fill="none" />
<path d="M900.5,377V386M900.5,386V395M900.5,395V404" stroke="#808080" stroke-width="1.0" fill="none" />
<text x="839.0" y="389.6" font-family="Liberation Serif" font-size="13.5" fill="#000" textLength="43.0" lengthAdjust="spacingAndGlyphs" stroke="#000" stroke-width="0.3" font-weight="bold">NB6–Z07</text>
<text x="839.0" y="398.5" font-family="Liberation Serif" font-size="13.5" fill="#000" textLength="43.0" lengthAdjust="spacingAndGlyphs" stroke="#000" stroke-width="0.3" font-weight="bold">NB6–Z08</text>
<text x="928.6" y="380.7" font-family="Liberation Serif" font-size="13.5" fill="#000" textLength="43.0" lengthAdjust="spacingAndGlyphs" stroke="#000" stroke-width="0.3" font-weight="bold">NB6–Z13</text>
<text x="928.6" y="389.6" font-family="Liberation Serif" font-size="13.5" fill="#000" textLength="43.0" lengthAdjust="spacingAndGlyphs" stroke="#000" stroke-width="0.3" font-weight="bold">NB6–Z14</text>
<text x="859.7" y="380.0" font-family="Liberation Serif" font-size="13.5" fill="#000" textLength="43.0" lengthAdjust="spacingAndGlyphs" stroke="#000" stroke-width="0.45">NB6–Z06</text>
<text x="801.0" y="363.5" font-family="Liberation Serif" font-size="13.5" fill="#000" textLength="44.0" lengthAdjust="spacingAndGlyphs" stroke="#000" stroke-width="0.45">NB6–Z05</text>
<rect x="195" y="655" width="836" height="9" fill="url(#pv)"/><rect x="195" y="664" width="836" height="9" fill="url(#pv)"/><rect x="195" y="673" width="836" height="9" fill="url(#pv)"/><rect x="195" y="682" width="836" height="9" fill="url(#pv)"/><rect x="195" y="691" width="836" height="9" fill="url(#pv)"/><rect x="195" y="700" width="836" height="9" fill="url(#pv)"/><rect x="195" y="709" width="836" height="9" fill="url(#pv)"/><rect x="195" y="718" width="836" height="9" fill="url(#pv)"/><rect x="195" y="727" width="836" height="9" fill="url(#pv)"/><rect x="195" y="736" width="836" height="9" fill="url(#pv)"/><rect x="195" y="745" width="836" height="9" fill="url(#pv)"/>
<path d="M195,655.5H1031M195,663.5H1031M195.5,655V664M1030.5,655V664M195,664.5H1031M195,672.5H1031M195.5,664V673M1030.5,664V673M195,673.5H1031M195,681.5H1031M195.5,673V682M1030.5,673V682M195,682.5H1031M195,690.5H1031M195.5,682V691M1030.5,682V691M195,691.5H1031M195,699.5H1031M195.5,691V700M1030.5,691V700M195,700.5H1031M195,708.5H1031M195.5,700V709M1030.5,700V709M195,709.5H1031M195,717.5H1031M195.5,709V718M1030.5,709V718M195,718.5H1031M195,726.5H1031M195.5,718V727M1030.5,718V727M195,727.5H1031M195,735.5H1031M195.5,727V736M1030.5,727V736M195,736.5H1031M195,744.5H1031M195.5,736V745M1030.5,736V745M195,745.5H1031M195,753.5H1031M195.5,745V754M1030.5,745V754" stroke="#858585" stroke-width="1.1" fill="none" />
<path d="M198,659.5H304M308,659.5H381M385,659.5H493M497,659.5H594M598,659.5H614M618,659.5H699M703,659.5H780M784,659.5H930M934,659.5H1030M198,668.5H304M308,668.5H381M385,668.5H493M497,668.5H594M598,668.5H614M618,668.5H699M703,668.5H780M784,668.5H930M934,668.5H1030M198,677.5H304M308,677.5H381M385,677.5H493M497,677.5H594M598,677.5H614M618,677.5H699M703,677.5H780M784,677.5H930M934,677.5H1030M198,686.5H304M308,686.5H381M385,686.5H493M497,686.5H594M598,686.5H614M618,686.5H699M703,686.5H780M784,686.5H930M934,686.5H1030M198,695.5H304M308,695.5H381M385,695.5H493M497,695.5H594M598,695.5H614M618,695.5H699M703,695.5H780M784,695.5H930M934,695.5H1030M198,704.5H304M308,704.5H381M385,704.5H493M497,704.5H594M598,704.5H614M618,704.5H699M703,704.5H780M784,704.5H930M934,704.5H1030M198,713.5H304M308,713.5H381M385,713.5H493M497,713.5H594M598,713.5H614M618,713.5H699M703,713.5H780M784,713.5H930M934,713.5H1030M198,722.5H304M308,722.5H381M385,722.5H493M497,722.5H594M598,722.5H614M618,722.5H699M703,722.5H780M784,722.5H930M934,722.5H1030M198,731.5H304M308,731.5H381M385,731.5H493M497,731.5H594M598,731.5H614M618,731.5H699M703,731.5H780M784,731.5H930M934,731.5H1030M198,740.5H304M308,740.5H381M385,740.5H493M497,740.5H594M598,740.5H614M618,740.5H699M703,740.5H780M784,740.5H930M934,740.5H1030M198,749.5H304M308,749.5H381M385,749.5H493M497,749.5H594M598,749.5H614M618,749.5H699M703,749.5H780M784,749.5H930M934,749.5H1030" stroke="#000" stroke-width="1.0" fill="none" />
<path d="M306.5,655V664M306.5,664V673M306.5,673V682M306.5,682V691M306.5,691V700M306.5,700V709M306.5,709V718M306.5,718V727M306.5,727V736M306.5,736V745M306.5,745V754" stroke="#808080" stroke-width="1.0" fill="none" />
<path d="M383.5,655V664M383.5,664V673M383.5,673V682M383.5,682V691M383.5,691V700M383.5,700V709M383.5,709V718M383.5,718V727M383.5,727V736M383.5,736V745M383.5,745V754" stroke="#808080" stroke-width="1.0" fill="none" />
<path d="M495.5,655V664M495.5,664V673M495.5,673V682M495.5,682V691M495.5,691V700M495.5,700V709M495.5,709V718M495.5,718V727M495.5,727V736M495.5,736V745M495.5,745V754" stroke="#808080" stroke-width="1.0" fill="none" />
<path d="M596.5,655V664M596.5,664V673M596.5,673V682M596.5,682V691M596.5,691V700M596.5,700V709M596.5,709V718M596.5,718V727M596.5,727V736M596.5,736V745M596.5,745V754" stroke="#808080" stroke-width="1.0" fill="none" />
<path d="M616.5,655V664M616.5,664V673M616.5,673V682M616.5,682V691M616.5,691V700M616.5,700V709M616.5,709V718M616.5,718V727M616.5,727V736M616.5,736V745M616.5,745V754" stroke="#808080" stroke-width="1.0" fill="none" />
<path d="M701.5,655V664M701.5,664V673M701.5,673V682M701.5,682V691M701.5,691V700M701.5,700V709M701.5,709V718M701.5,718V727M701.5,727V736M701.5,736V745M701.5,745V754" stroke="#808080" stroke-width="1.0" fill="none" />
<path d="M782.5,655V664M782.5,664V673M782.5,673V682M782.5,682V691M782.5,691V700M782.5,700V709M782.5,709V718M782.5,718V727M782.5,727V736M782.5,736V745M782.5,745V754" stroke="#808080" stroke-width="1.0" fill="none" />
<path d="M932.5,655V664M932.5,664V673M932.5,673V682M932.5,682V691M932.5,691V700M932.5,700V709M932.5,709V718M932.5,718V727M932.5,727V736M932.5,736V745M932.5,745V754" stroke="#808080" stroke-width="1.0" fill="none" />
<line x1="491.5" y1="651.0" x2="491.5" y2="754.0" stroke="#000" stroke-width="1.0" />
<line x1="495.5" y1="651.0" x2="495.5" y2="754.0" stroke="#000" stroke-width="1.0" />
<line x1="594.0" y1="651.0" x2="594.0" y2="754.0" stroke="#000" stroke-width="1.0" />
<line x1="597.5" y1="651.0" x2="597.5" y2="754.0" stroke="#000" stroke-width="1.0" />
<line x1="700.0" y1="651.0" x2="700.0" y2="754.0" stroke="#000" stroke-width="1.0" />
<line x1="703.0" y1="651.0" x2="703.0" y2="754.0" stroke="#000" stroke-width="1.0" />
<text x="236.0" y="658.6" font-family="Liberation Serif" font-size="13.5" fill="#000" textLength="39.0" lengthAdjust="spacingAndGlyphs" stroke="#000" stroke-width="0.3" font-weight="bold">NB1–Z01</text>
<text x="236.0" y="667.6" font-family="Liberation Serif" font-size="13.5" fill="#000" textLength="39.0" lengthAdjust="spacingAndGlyphs" stroke="#000" stroke-width="0.3" font-weight="bold">NB1–Z02</text>
<text x="236.0" y="676.6" font-family="Liberation Serif" font-size="13.5" fill="#000" textLength="39.0" lengthAdjust="spacingAndGlyphs" stroke="#000" stroke-width="0.3" font-weight="bold">NB1–Z03</text>
<text x="236.0" y="685.6" font-family="Liberation Serif" font-size="13.5" fill="#000" textLength="39.0" lengthAdjust="spacingAndGlyphs" stroke="#000" stroke-width="0.3" font-weight="bold">NB1–Z04</text>
<text x="236.0" y="694.6" font-family="Liberation Serif" font-size="13.5" fill="#000" textLength="39.0" lengthAdjust="spacingAndGlyphs" stroke="#000" stroke-width="0.3" font-weight="bold">NB1–Z05</text>
<text x="236.0" y="703.6" font-family="Liberation Serif" font-size="13.5" fill="#000" textLength="39.0" lengthAdjust="spacingAndGlyphs" stroke="#000" stroke-width="0.3" font-weight="bold">NB1–Z06</text>
<text x="236.0" y="712.6" font-family="Liberation Serif" font-size="13.5" fill="#000" textLength="39.0" lengthAdjust="spacingAndGlyphs" stroke="#000" stroke-width="0.3" font-weight="bold">NB1–Z07</text>
<text x="236.0" y="721.6" font-family="Liberation Serif" font-size="13.5" fill="#000" textLength="39.0" lengthAdjust="spacingAndGlyphs" stroke="#000" stroke-width="0.3" font-weight="bold">NB1–Z08</text>
<text x="236.0" y="730.6" font-family="Liberation Serif" font-size="13.5" fill="#000" textLength="39.0" lengthAdjust="spacingAndGlyphs" stroke="#000" stroke-width="0.3" font-weight="bold">NB1–Z09</text>
<text x="236.0" y="739.6" font-family="Liberation Serif" font-size="13.5" fill="#000" textLength="39.0" lengthAdjust="spacingAndGlyphs" stroke="#000" stroke-width="0.3" font-weight="bold">NB1–Z10</text>
<text x="236.0" y="748.6" font-family="Liberation Serif" font-size="13.5" fill="#000" textLength="39.0" lengthAdjust="spacingAndGlyphs" stroke="#000" stroke-width="0.3" font-weight="bold">NB1–Z11</text>
<text x="332.6" y="658.6" font-family="Liberation Serif" font-size="13.5" fill="#000" textLength="40.0" lengthAdjust="spacingAndGlyphs" stroke="#000" stroke-width="0.3" font-weight="bold">NB1–Z12</text>
<text x="332.6" y="667.6" font-family="Liberation Serif" font-size="13.5" fill="#000" textLength="40.0" lengthAdjust="spacingAndGlyphs" stroke="#000" stroke-width="0.3" font-weight="bold">NB1–Z13</text>
<text x="332.6" y="676.6" font-family="Liberation Serif" font-size="13.5" fill="#000" textLength="40.0" lengthAdjust="spacingAndGlyphs" stroke="#000" stroke-width="0.3" font-weight="bold">NB1–Z14</text>
<text x="332.6" y="685.6" font-family="Liberation Serif" font-size="13.5" fill="#000" textLength="40.0" lengthAdjust="spacingAndGlyphs" stroke="#000" stroke-width="0.3" font-weight="bold">NB1–Z15</text>
<text x="332.6" y="694.6" font-family="Liberation Serif" font-size="13.5" fill="#000" textLength="40.0" lengthAdjust="spacingAndGlyphs" stroke="#000" stroke-width="0.3" font-weight="bold">NB1–Z16</text>
<text x="332.6" y="703.6" font-family="Liberation Serif" font-size="13.5" fill="#000" textLength="40.0" lengthAdjust="spacingAndGlyphs" stroke="#000" stroke-width="0.3" font-weight="bold">NB1–Z17</text>
<text x="332.6" y="712.6" font-family="Liberation Serif" font-size="13.5" fill="#000" textLength="40.0" lengthAdjust="spacingAndGlyphs" stroke="#000" stroke-width="0.3" font-weight="bold">NB1–Z18</text>
<text x="332.6" y="721.6" font-family="Liberation Serif" font-size="13.5" fill="#000" textLength="40.0" lengthAdjust="spacingAndGlyphs" stroke="#000" stroke-width="0.3" font-weight="bold">NB1–Z19</text>
<text x="332.6" y="730.6" font-family="Liberation Serif" font-size="13.5" fill="#000" textLength="40.0" lengthAdjust="spacingAndGlyphs" stroke="#000" stroke-width="0.3" font-weight="bold">NB1–Z20</text>
<text x="332.6" y="739.6" font-family="Liberation Serif" font-size="13.5" fill="#000" textLength="40.0" lengthAdjust="spacingAndGlyphs" stroke="#000" stroke-width="0.3" font-weight="bold">NB2–Z12</text>
<text x="332.6" y="748.6" font-family="Liberation Serif" font-size="13.5" fill="#000" textLength="40.0" lengthAdjust="spacingAndGlyphs" stroke="#000" stroke-width="0.3" font-weight="bold">NB2–Z13</text>
<text x="427.0" y="658.6" font-family="Liberation Serif" font-size="13.5" fill="#000" textLength="40.0" lengthAdjust="spacingAndGlyphs" stroke="#000" stroke-width="0.3" font-weight="bold">NB2–Z01</text>
<text x="427.0" y="667.6" font-family="Liberation Serif" font-size="13.5" fill="#000" textLength="40.0" lengthAdjust="spacingAndGlyphs" stroke="#000" stroke-width="0.3" font-weight="bold">NB2–Z02</text>
<text x="427.0" y="676.6" font-family="Liberation Serif" font-size="13.5" fill="#000" textLength="40.0" lengthAdjust="spacingAndGlyphs" stroke="#000" stroke-width="0.3" font-weight="bold">NB2–Z03</text>
<text x="427.0" y="685.6" font-family="Liberation Serif" font-size="13.5" fill="#000" textLength="40.0" lengthAdjust="spacingAndGlyphs" stroke="#000" stroke-width="0.3" font-weight="bold">NB2–Z04</text>
<text x="427.0" y="694.6" font-family="Liberation Serif" font-size="13.5" fill="#000" textLength="40.0" lengthAdjust="spacingAndGlyphs" stroke="#000" stroke-width="0.3" font-weight="bold">NB2–Z05</text>
<text x="427.0" y="703.6" font-family="Liberation Serif" font-size="13.5" fill="#000" textLength="40.0" lengthAdjust="spacingAndGlyphs" stroke="#000" stroke-width="0.3" font-weight="bold">NB2–Z06</text>
<text x="427.0" y="712.6" font-family="Liberation Serif" font-size="13.5" fill="#000" textLength="40.0" lengthAdjust="spacingAndGlyphs" stroke="#000" stroke-width="0.3" font-weight="bold">NB2–Z07</text>
<text x="427.0" y="721.6" font-family="Liberation Serif" font-size="13.5" fill="#000" textLength="40.0" lengthAdjust="spacingAndGlyphs" stroke="#000" stroke-width="0.3" font-weight="bold">NB2–Z08</text>
<text x="427.0" y="730.6" font-family="Liberation Serif" font-size="13.5" fill="#000" textLength="40.0" lengthAdjust="spacingAndGlyphs" stroke="#000" stroke-width="0.3" font-weight="bold">NB2–Z09</text>
<text x="427.0" y="739.6" font-family="Liberation Serif" font-size="13.5" fill="#000" textLength="40.0" lengthAdjust="spacingAndGlyphs" stroke="#000" stroke-width="0.3" font-weight="bold">NB2–Z10</text>
<text x="427.0" y="748.6" font-family="Liberation Serif" font-size="13.5" fill="#000" textLength="40.0" lengthAdjust="spacingAndGlyphs" stroke="#000" stroke-width="0.3" font-weight="bold">NB2–Z11</text>
<text x="522.0" y="658.6" font-family="Liberation Serif" font-size="13.5" fill="#000" textLength="43.0" lengthAdjust="spacingAndGlyphs" stroke="#000" stroke-width="0.3" font-weight="bold">NB2–Z14</text>
<text x="522.0" y="667.6" font-family="Liberation Serif" font-size="13.5" fill="#000" textLength="43.0" lengthAdjust="spacingAndGlyphs" stroke="#000" stroke-width="0.3" font-weight="bold">NB2–Z15</text>
<text x="522.0" y="676.6" font-family="Liberation Serif" font-size="13.5" fill="#000" textLength="43.0" lengthAdjust="spacingAndGlyphs" stroke="#000" stroke-width="0.3" font-weight="bold">NB2–Z16</text>
<text x="522.0" y="685.6" font-family="Liberation Serif" font-size="13.5" fill="#000" textLength="43.0" lengthAdjust="spacingAndGlyphs" stroke="#000" stroke-width="0.3" font-weight="bold">NB2–Z17</text>
<text x="522.0" y="694.6" font-family="Liberation Serif" font-size="13.5" fill="#000" textLength="43.0" lengthAdjust="spacingAndGlyphs" stroke="#000" stroke-width="0.3" font-weight="bold">NB2–Z18</text>
<text x="522.0" y="703.6" font-family="Liberation Serif" font-size="13.5" fill="#000" textLength="43.0" lengthAdjust="spacingAndGlyphs" stroke="#000" stroke-width="0.3" font-weight="bold">NB2–Z19</text>
<text x="522.0" y="712.6" font-family="Liberation Serif" font-size="13.5" fill="#000" textLength="43.0" lengthAdjust="spacingAndGlyphs" stroke="#000" stroke-width="0.3" font-weight="bold">NB2–Z20</text>
<text x="522.0" y="721.6" font-family="Liberation Serif" font-size="13.5" fill="#000" textLength="43.0" lengthAdjust="spacingAndGlyphs" stroke="#000" stroke-width="0.3" font-weight="bold">NB3–Z01</text>
<text x="522.0" y="730.6" font-family="Liberation Serif" font-size="13.5" fill="#000" textLength="43.0" lengthAdjust="spacingAndGlyphs" stroke="#000" stroke-width="0.3" font-weight="bold">NB3–Z02</text>
<text x="522.0" y="739.6" font-family="Liberation Serif" font-size="13.5" fill="#000" textLength="43.0" lengthAdjust="spacingAndGlyphs" stroke="#000" stroke-width="0.3" font-weight="bold">NB3–Z03</text>
<text x="522.0" y="748.6" font-family="Liberation Serif" font-size="13.5" fill="#000" textLength="43.0" lengthAdjust="spacingAndGlyphs" stroke="#000" stroke-width="0.3" font-weight="bold">NB3–Z04</text>
<text x="624.0" y="658.6" font-family="Liberation Serif" font-size="13.5" fill="#000" textLength="43.0" lengthAdjust="spacingAndGlyphs" stroke="#000" stroke-width="0.3" font-weight="bold">NB3–Z05</text>
<text x="624.0" y="667.6" font-family="Liberation Serif" font-size="13.5" fill="#000" textLength="43.0" lengthAdjust="spacingAndGlyphs" stroke="#000" stroke-width="0.3" font-weight="bold">NB3–Z06</text>
<text x="624.0" y="676.6" font-family="Liberation Serif" font-size="13.5" fill="#000" textLength="43.0" lengthAdjust="spacingAndGlyphs" stroke="#000" stroke-width="0.3" font-weight="bold">NB3–Z07</text>
<text x="624.0" y="685.6" font-family="Liberation Serif" font-size="13.5" fill="#000" textLength="43.0" lengthAdjust="spacingAndGlyphs" stroke="#000" stroke-width="0.3" font-weight="bold">NB3–Z08</text>
<text x="624.0" y="694.6" font-family="Liberation Serif" font-size="13.5" fill="#000" textLength="43.0" lengthAdjust="spacingAndGlyphs" stroke="#000" stroke-width="0.3" font-weight="bold">NB3–Z09</text>
<text x="624.0" y="703.6" font-family="Liberation Serif" font-size="13.5" fill="#000" textLength="43.0" lengthAdjust="spacingAndGlyphs" stroke="#000" stroke-width="0.3" font-weight="bold">NB3–Z10</text>
<text x="624.0" y="712.6" font-family="Liberation Serif" font-size="13.5" fill="#000" textLength="43.0" lengthAdjust="spacingAndGlyphs" stroke="#000" stroke-width="0.3" font-weight="bold">NB3–Z11</text>
<text x="624.0" y="721.6" font-family="Liberation Serif" font-size="13.5" fill="#000" textLength="43.0" lengthAdjust="spacingAndGlyphs" stroke="#000" stroke-width="0.3" font-weight="bold">NB3–Z12</text>
<text x="624.0" y="730.6" font-family="Liberation Serif" font-size="13.5" fill="#000" textLength="43.0" lengthAdjust="spacingAndGlyphs" stroke="#000" stroke-width="0.3" font-weight="bold">NB3–Z13</text>
<text x="624.0" y="739.6" font-family="Liberation Serif" font-size="13.5" fill="#000" textLength="43.0" lengthAdjust="spacingAndGlyphs" stroke="#000" stroke-width="0.3" font-weight="bold">NB3–Z14</text>
<text x="624.0" y="748.6" font-family="Liberation Serif" font-size="13.5" fill="#000" textLength="43.0" lengthAdjust="spacingAndGlyphs" stroke="#000" stroke-width="0.3" font-weight="bold">NB3–Z15</text>
<text x="721.0" y="658.6" font-family="Liberation Serif" font-size="13.5" fill="#000" textLength="43.0" lengthAdjust="spacingAndGlyphs" stroke="#000" stroke-width="0.3" font-weight="bold">NB3–Z16</text>
<text x="721.0" y="667.6" font-family="Liberation Serif" font-size="13.5" fill="#000" textLength="43.0" lengthAdjust="spacingAndGlyphs" stroke="#000" stroke-width="0.3" font-weight="bold">NB3–Z17</text>
<text x="721.0" y="676.6" font-family="Liberation Serif" font-size="13.5" fill="#000" textLength="43.0" lengthAdjust="spacingAndGlyphs" stroke="#000" stroke-width="0.3" font-weight="bold">NB3–Z18</text>
<text x="721.0" y="685.6" font-family="Liberation Serif" font-size="13.5" fill="#000" textLength="43.0" lengthAdjust="spacingAndGlyphs" stroke="#000" stroke-width="0.3" font-weight="bold">NB3–Z19</text>
<text x="721.0" y="694.6" font-family="Liberation Serif" font-size="13.5" fill="#000" textLength="43.0" lengthAdjust="spacingAndGlyphs" stroke="#000" stroke-width="0.3" font-weight="bold">NB3–Z20</text>
<text x="721.0" y="703.6" font-family="Liberation Serif" font-size="13.5" fill="#000" textLength="43.0" lengthAdjust="spacingAndGlyphs" stroke="#000" stroke-width="0.3" font-weight="bold">NB4–Z01</text>
<text x="721.0" y="712.6" font-family="Liberation Serif" font-size="13.5" fill="#000" textLength="43.0" lengthAdjust="spacingAndGlyphs" stroke="#000" stroke-width="0.3" font-weight="bold">NB4–Z02</text>
<text x="721.0" y="721.6" font-family="Liberation Serif" font-size="13.5" fill="#000" textLength="43.0" lengthAdjust="spacingAndGlyphs" stroke="#000" stroke-width="0.3" font-weight="bold">NB4–Z03</text>
<text x="721.0" y="730.6" font-family="Liberation Serif" font-size="13.5" fill="#000" textLength="43.0" lengthAdjust="spacingAndGlyphs" stroke="#000" stroke-width="0.3" font-weight="bold">NB4–Z04</text>
<text x="721.0" y="739.6" font-family="Liberation Serif" font-size="13.5" fill="#000" textLength="43.0" lengthAdjust="spacingAndGlyphs" stroke="#000" stroke-width="0.3" font-weight="bold">NB4–Z05</text>
<text x="721.0" y="748.6" font-family="Liberation Serif" font-size="13.5" fill="#000" textLength="43.0" lengthAdjust="spacingAndGlyphs" stroke="#000" stroke-width="0.3" font-weight="bold">NB4–Z06</text>
<text x="844.0" y="658.6" font-family="Liberation Serif" font-size="13.5" fill="#000" textLength="43.0" lengthAdjust="spacingAndGlyphs" stroke="#000" stroke-width="0.3" font-weight="bold">NB4–Z07</text>
<text x="844.0" y="667.6" font-family="Liberation Serif" font-size="13.5" fill="#000" textLength="43.0" lengthAdjust="spacingAndGlyphs" stroke="#000" stroke-width="0.3" font-weight="bold">NB4–Z08</text>
<text x="844.0" y="676.6" font-family="Liberation Serif" font-size="13.5" fill="#000" textLength="43.0" lengthAdjust="spacingAndGlyphs" stroke="#000" stroke-width="0.3" font-weight="bold">NB4–Z09</text>
<text x="844.0" y="685.6" font-family="Liberation Serif" font-size="13.5" fill="#000" textLength="43.0" lengthAdjust="spacingAndGlyphs" stroke="#000" stroke-width="0.3" font-weight="bold">NB4–Z10</text>
<text x="844.0" y="694.6" font-family="Liberation Serif" font-size="13.5" fill="#000" textLength="43.0" lengthAdjust="spacingAndGlyphs" stroke="#000" stroke-width="0.3" font-weight="bold">NB4–Z11</text>
<text x="844.0" y="703.6" font-family="Liberation Serif" font-size="13.5" fill="#000" textLength="43.0" lengthAdjust="spacingAndGlyphs" stroke="#000" stroke-width="0.3" font-weight="bold">NB4–Z12</text>
<text x="844.0" y="712.6" font-family="Liberation Serif" font-size="13.5" fill="#000" textLength="43.0" lengthAdjust="spacingAndGlyphs" stroke="#000" stroke-width="0.3" font-weight="bold">NB4–Z13</text>
<text x="844.0" y="721.6" font-family="Liberation Serif" font-size="13.5" fill="#000" textLength="43.0" lengthAdjust="spacingAndGlyphs" stroke="#000" stroke-width="0.3" font-weight="bold">NB4–Z14</text>
<text x="844.0" y="730.6" font-family="Liberation Serif" font-size="13.5" fill="#000" textLength="43.0" lengthAdjust="spacingAndGlyphs" stroke="#000" stroke-width="0.3" font-weight="bold">NB4–Z15</text>
<text x="844.0" y="739.6" font-family="Liberation Serif" font-size="13.5" fill="#000" textLength="43.0" lengthAdjust="spacingAndGlyphs" stroke="#000" stroke-width="0.3" font-weight="bold">NB4–Z16</text>
<text x="844.0" y="748.6" font-family="Liberation Serif" font-size="13.5" fill="#000" textLength="43.0" lengthAdjust="spacingAndGlyphs" stroke="#000" stroke-width="0.3" font-weight="bold">NB4–Z17</text>
<text x="941.0" y="658.6" font-family="Liberation Serif" font-size="13.5" fill="#000" textLength="43.0" lengthAdjust="spacingAndGlyphs" stroke="#000" stroke-width="0.3" font-weight="bold">NB4–Z18</text>
<text x="941.0" y="667.6" font-family="Liberation Serif" font-size="13.5" fill="#000" textLength="43.0" lengthAdjust="spacingAndGlyphs" stroke="#000" stroke-width="0.3" font-weight="bold">NB4–Z19</text>
<text x="941.0" y="676.6" font-family="Liberation Serif" font-size="13.5" fill="#000" textLength="43.0" lengthAdjust="spacingAndGlyphs" stroke="#000" stroke-width="0.3" font-weight="bold">NB4–Z20</text>
<text x="941.0" y="685.6" font-family="Liberation Serif" font-size="13.5" fill="#000" textLength="43.0" lengthAdjust="spacingAndGlyphs" stroke="#000" stroke-width="0.3" font-weight="bold">NB5–Z01</text>
<text x="941.0" y="694.6" font-family="Liberation Serif" font-size="13.5" fill="#000" textLength="43.0" lengthAdjust="spacingAndGlyphs" stroke="#000" stroke-width="0.3" font-weight="bold">NB5–Z02</text>
<text x="941.0" y="703.6" font-family="Liberation Serif" font-size="13.5" fill="#000" textLength="43.0" lengthAdjust="spacingAndGlyphs" stroke="#000" stroke-width="0.3" font-weight="bold">NB5–Z03</text>
<text x="941.0" y="712.6" font-family="Liberation Serif" font-size="13.5" fill="#000" textLength="43.0" lengthAdjust="spacingAndGlyphs" stroke="#000" stroke-width="0.3" font-weight="bold">NB5–Z04</text>
<text x="941.0" y="721.6" font-family="Liberation Serif" font-size="13.5" fill="#000" textLength="43.0" lengthAdjust="spacingAndGlyphs" stroke="#000" stroke-width="0.3" font-weight="bold">NB5–Z05</text>
<text x="941.0" y="730.6" font-family="Liberation Serif" font-size="13.5" fill="#000" textLength="43.0" lengthAdjust="spacingAndGlyphs" stroke="#000" stroke-width="0.3" font-weight="bold">NB5–Z06</text>
<text x="941.0" y="739.6" font-family="Liberation Serif" font-size="13.5" fill="#000" textLength="43.0" lengthAdjust="spacingAndGlyphs" stroke="#000" stroke-width="0.3" font-weight="bold">NB5–Z07</text>
<text x="941.0" y="748.6" font-family="Liberation Serif" font-size="13.5" fill="#000" textLength="43.0" lengthAdjust="spacingAndGlyphs" stroke="#000" stroke-width="0.3" font-weight="bold">NB5–Z08</text>
<text x="1016.6" y="677.0" font-family="Liberation Serif" font-size="13.5" fill="#000" textLength="41.5" lengthAdjust="spacingAndGlyphs" stroke="#000" stroke-width="0.45">NB5–Z09</text>
<text x="1016.6" y="730.5" font-family="Liberation Serif" font-size="13.5" fill="#000" textLength="41.5" lengthAdjust="spacingAndGlyphs" stroke="#000" stroke-width="0.45">NB5–Z10</text>
<rect x="175.5" y="74.3" width="4.4" height="8.5" rx="0" stroke="none" stroke-width="0" fill="#000" rx="0.8"/>
<rect x="176.8" y="76.3" width="1.8" height="4.5" rx="0" stroke="none" stroke-width="0" fill="#fff" />
<rect x="175.5" y="92.3" width="4.4" height="8.5" rx="0" stroke="none" stroke-width="0" fill="#000" rx="0.8"/>
<rect x="176.8" y="94.3" width="1.8" height="4.5" rx="0" stroke="none" stroke-width="0" fill="#fff" />
<rect x="175.5" y="110.4" width="4.4" height="8.5" rx="0" stroke="none" stroke-width="0" fill="#000" rx="0.8"/>
<rect x="176.8" y="112.4" width="1.8" height="4.5" rx="0" stroke="none" stroke-width="0" fill="#fff" />
<circle cx="178.0" cy="122.5" r="0.9" stroke="#333" stroke-width="0.8" fill="#fff" />
<rect x="176.0" y="145.7" width="4.4" height="8.5" rx="0" stroke="none" stroke-width="0" fill="#000" rx="0.8"/>
<rect x="177.3" y="147.7" width="1.8" height="4.5" rx="0" stroke="none" stroke-width="0" fill="#fff" />
<rect x="176.0" y="163.6" width="4.4" height="8.5" rx="0" stroke="none" stroke-width="0" fill="#000" rx="0.8"/>
<rect x="177.3" y="165.6" width="1.8" height="4.5" rx="0" stroke="none" stroke-width="0" fill="#fff" />
<rect x="176.0" y="181.6" width="4.4" height="8.5" rx="0" stroke="none" stroke-width="0" fill="#000" rx="0.8"/>
<rect x="177.3" y="183.6" width="1.8" height="4.5" rx="0" stroke="none" stroke-width="0" fill="#fff" />
<rect x="176.0" y="199.5" width="4.4" height="8.5" rx="0" stroke="none" stroke-width="0" fill="#000" rx="0.8"/>
<rect x="177.3" y="201.5" width="1.8" height="4.5" rx="0" stroke="none" stroke-width="0" fill="#fff" />
<rect x="176.0" y="217.5" width="4.4" height="8.5" rx="0" stroke="none" stroke-width="0" fill="#000" rx="0.8"/>
<rect x="177.3" y="219.5" width="1.8" height="4.5" rx="0" stroke="none" stroke-width="0" fill="#fff" />
<rect x="176.0" y="235.4" width="4.4" height="8.5" rx="0" stroke="none" stroke-width="0" fill="#000" rx="0.8"/>
<rect x="177.3" y="237.4" width="1.8" height="4.5" rx="0" stroke="none" stroke-width="0" fill="#fff" />
<rect x="176.0" y="253.3" width="4.4" height="8.5" rx="0" stroke="none" stroke-width="0" fill="#000" rx="0.8"/>
<rect x="177.3" y="255.3" width="1.8" height="4.5" rx="0" stroke="none" stroke-width="0" fill="#fff" />
<rect x="176.0" y="271.3" width="4.4" height="8.5" rx="0" stroke="none" stroke-width="0" fill="#000" rx="0.8"/>
<rect x="177.3" y="273.3" width="1.8" height="4.5" rx="0" stroke="none" stroke-width="0" fill="#fff" />
<circle cx="178.0" cy="285.0" r="0.9" stroke="#333" stroke-width="0.8" fill="#fff" />
<rect x="175.0" y="315.5" width="4.4" height="8.5" rx="0" stroke="none" stroke-width="0" fill="#000" rx="0.8"/>
<rect x="176.3" y="317.5" width="1.8" height="4.5" rx="0" stroke="none" stroke-width="0" fill="#fff" />
<rect x="175.0" y="333.3" width="4.4" height="8.5" rx="0" stroke="none" stroke-width="0" fill="#000" rx="0.8"/>
<rect x="176.3" y="335.3" width="1.8" height="4.5" rx="0" stroke="none" stroke-width="0" fill="#fff" />
<rect x="175.0" y="351.1" width="4.4" height="8.5" rx="0" stroke="none" stroke-width="0" fill="#000" rx="0.8"/>
<rect x="176.3" y="353.1" width="1.8" height="4.5" rx="0" stroke="none" stroke-width="0" fill="#fff" />
<rect x="175.0" y="368.9" width="4.4" height="8.5" rx="0" stroke="none" stroke-width="0" fill="#000" rx="0.8"/>
<rect x="176.3" y="370.9" width="1.8" height="4.5" rx="0" stroke="none" stroke-width="0" fill="#fff" />
<rect x="175.0" y="386.7" width="4.4" height="8.5" rx="0" stroke="none" stroke-width="0" fill="#000" rx="0.8"/>
<rect x="176.3" y="388.7" width="1.8" height="4.5" rx="0" stroke="none" stroke-width="0" fill="#fff" />
<line x1="183.5" y1="73.9" x2="183.5" y2="126.6" stroke="#8a8a8a" stroke-width="1" />
<line x1="183.3" y1="145.7" x2="183.3" y2="287.0" stroke="#8a8a8a" stroke-width="1" />
<line x1="183.3" y1="315.5" x2="183.3" y2="402.0" stroke="#8a8a8a" stroke-width="1" />
<rect x="506.4" y="75.0" width="4.2" height="7.5" rx="0" stroke="none" stroke-width="0" fill="#000" rx="0.8"/>
<rect x="507.7" y="77.0" width="1.6" height="3.5" rx="0" stroke="none" stroke-width="0" fill="#fff" />
<rect x="506.4" y="93.0" width="4.2" height="7.5" rx="0" stroke="none" stroke-width="0" fill="#000" rx="0.8"/>
<rect x="507.7" y="95.0" width="1.6" height="3.5" rx="0" stroke="none" stroke-width="0" fill="#fff" />
<rect x="506.4" y="111.1" width="4.2" height="7.5" rx="0" stroke="none" stroke-width="0" fill="#000" rx="0.8"/>
<rect x="507.7" y="113.1" width="1.6" height="3.5" rx="0" stroke="none" stroke-width="0" fill="#fff" />
<circle cx="508.5" cy="122.0" r="1.0" stroke="#333" stroke-width="0.8" fill="#fff" />
<line x1="503.5" y1="73.9" x2="503.5" y2="126.6" stroke="#000" stroke-width="0.8" />
<rect x="533.5" y="156.0" width="4.0" height="7.0" rx="0" stroke="none" stroke-width="0" fill="#000" rx="0.8"/>
<rect x="534.8" y="158.0" width="1.4" height="3.0" rx="0" stroke="none" stroke-width="0" fill="#fff" />
<rect x="533.5" y="173.9" width="4.0" height="7.0" rx="0" stroke="none" stroke-width="0" fill="#000" rx="0.8"/>
<rect x="534.8" y="175.9" width="1.4" height="3.0" rx="0" stroke="none" stroke-width="0" fill="#fff" />
<circle cx="535.0" cy="142.0" r="1.0" stroke="#333" stroke-width="0.8" fill="#fff" />
<rect x="1000.0" y="201.0" width="3.4" height="7.0" rx="0" stroke="none" stroke-width="0" fill="#000" rx="0.8"/>
<rect x="1001.3" y="203.0" width="0.8" height="3.0" rx="0" stroke="none" stroke-width="0" fill="#fff" />
<rect x="1012.0" y="201.0" width="3.4" height="7.0" rx="0" stroke="none" stroke-width="0" fill="#000" rx="0.8"/>
<rect x="1013.3" y="203.0" width="0.8" height="3.0" rx="0" stroke="none" stroke-width="0" fill="#fff" />
<rect x="1000.0" y="218.9" width="3.4" height="7.0" rx="0" stroke="none" stroke-width="0" fill="#000" rx="0.8"/>
<rect x="1001.3" y="220.9" width="0.8" height="3.0" rx="0" stroke="none" stroke-width="0" fill="#fff" />
<rect x="1012.0" y="218.9" width="3.4" height="7.0" rx="0" stroke="none" stroke-width="0" fill="#000" rx="0.8"/>
<rect x="1013.3" y="220.9" width="0.8" height="3.0" rx="0" stroke="none" stroke-width="0" fill="#fff" />
<rect x="1000.0" y="236.8" width="3.4" height="7.0" rx="0" stroke="none" stroke-width="0" fill="#000" rx="0.8"/>
<rect x="1001.3" y="238.8" width="0.8" height="3.0" rx="0" stroke="none" stroke-width="0" fill="#fff" />
<rect x="1012.0" y="236.8" width="3.4" height="7.0" rx="0" stroke="none" stroke-width="0" fill="#000" rx="0.8"/>
<rect x="1013.3" y="238.8" width="0.8" height="3.0" rx="0" stroke="none" stroke-width="0" fill="#fff" />
<rect x="1000.0" y="254.6" width="3.4" height="7.0" rx="0" stroke="none" stroke-width="0" fill="#000" rx="0.8"/>
<rect x="1001.3" y="256.6" width="0.8" height="3.0" rx="0" stroke="none" stroke-width="0" fill="#fff" />
<rect x="1012.0" y="254.6" width="3.4" height="7.0" rx="0" stroke="none" stroke-width="0" fill="#000" rx="0.8"/>
<rect x="1013.3" y="256.6" width="0.8" height="3.0" rx="0" stroke="none" stroke-width="0" fill="#fff" />
<rect x="1000.0" y="272.5" width="3.4" height="7.0" rx="0" stroke="none" stroke-width="0" fill="#000" rx="0.8"/>
<rect x="1001.3" y="274.5" width="0.8" height="3.0" rx="0" stroke="none" stroke-width="0" fill="#fff" />
<rect x="1012.0" y="272.5" width="3.4" height="7.0" rx="0" stroke="none" stroke-width="0" fill="#000" rx="0.8"/>
<rect x="1013.3" y="274.5" width="0.8" height="3.0" rx="0" stroke="none" stroke-width="0" fill="#fff" />
<circle cx="1001.0" cy="284.0" r="0.9" stroke="#333" stroke-width="0.8" fill="#fff" />
<circle cx="1014.0" cy="284.0" r="0.9" stroke="#333" stroke-width="0.8" fill="#fff" />
<line x1="1007.0" y1="200.0" x2="1007.0" y2="287.0" stroke="#000" stroke-width="0.8" />
<rect x="1002.5" y="318.0" width="3.4" height="7.0" rx="0" stroke="none" stroke-width="0" fill="#000" rx="0.8"/>
<rect x="1003.8" y="320.0" width="0.8" height="3.0" rx="0" stroke="none" stroke-width="0" fill="#fff" />
<rect x="1014.0" y="318.0" width="3.4" height="7.0" rx="0" stroke="none" stroke-width="0" fill="#000" rx="0.8"/>
<rect x="1015.3" y="320.0" width="0.8" height="3.0" rx="0" stroke="none" stroke-width="0" fill="#fff" />
<rect x="1002.5" y="335.8" width="3.4" height="7.0" rx="0" stroke="none" stroke-width="0" fill="#000" rx="0.8"/>
<rect x="1003.8" y="337.8" width="0.8" height="3.0" rx="0" stroke="none" stroke-width="0" fill="#fff" />
<rect x="1014.0" y="335.8" width="3.4" height="7.0" rx="0" stroke="none" stroke-width="0" fill="#000" rx="0.8"/>
<rect x="1015.3" y="337.8" width="0.8" height="3.0" rx="0" stroke="none" stroke-width="0" fill="#fff" />
<line x1="1009.0" y1="316.0" x2="1009.0" y2="349.0" stroke="#000" stroke-width="0.8" />
<rect x="978.0" y="378.0" width="3.4" height="8.0" rx="0" stroke="none" stroke-width="0" fill="#000" rx="0.8"/>
<rect x="979.3" y="380.0" width="0.8" height="4.0" rx="0" stroke="none" stroke-width="0" fill="#fff" />
<rect x="990.0" y="378.0" width="3.4" height="8.0" rx="0" stroke="none" stroke-width="0" fill="#000" rx="0.8"/>
<rect x="991.3" y="380.0" width="0.8" height="4.0" rx="0" stroke="none" stroke-width="0" fill="#fff" />
<rect x="978.0" y="402.0" width="3.4" height="8.0" rx="0" stroke="none" stroke-width="0" fill="#000" rx="0.8"/>
<rect x="979.3" y="404.0" width="0.8" height="4.0" rx="0" stroke="none" stroke-width="0" fill="#fff" />
<rect x="990.0" y="402.0" width="3.4" height="8.0" rx="0" stroke="none" stroke-width="0" fill="#000" rx="0.8"/>
<rect x="991.3" y="404.0" width="0.8" height="4.0" rx="0" stroke="none" stroke-width="0" fill="#fff" />
<line x1="985.0" y1="378.0" x2="985.0" y2="402.0" stroke="#000" stroke-width="0.8" />
<circle cx="185.0" cy="658.5" r="1.5" stroke="#333" stroke-width="0.8" fill="#fff" />
<circle cx="196.5" cy="658.5" r="1.2" stroke="#333" stroke-width="0.8" fill="#fff" />
<circle cx="185.0" cy="675.5" r="1.5" stroke="#333" stroke-width="0.8" fill="#fff" />
<circle cx="196.5" cy="675.5" r="1.2" stroke="#333" stroke-width="0.8" fill="#fff" />
<circle cx="185.0" cy="694.8" r="1.5" stroke="#333" stroke-width="0.8" fill="#fff" />
<circle cx="196.5" cy="694.8" r="1.2" stroke="#333" stroke-width="0.8" fill="#fff" />
<circle cx="185.0" cy="712.0" r="1.5" stroke="#333" stroke-width="0.8" fill="#fff" />
<circle cx="196.5" cy="712.0" r="1.2" stroke="#333" stroke-width="0.8" fill="#fff" />
<circle cx="185.0" cy="730.5" r="1.5" stroke="#333" stroke-width="0.8" fill="#fff" />
<circle cx="196.5" cy="730.5" r="1.2" stroke="#333" stroke-width="0.8" fill="#fff" />
<circle cx="185.0" cy="748.0" r="1.5" stroke="#333" stroke-width="0.8" fill="#fff" />
<circle cx="196.5" cy="748.0" r="1.2" stroke="#333" stroke-width="0.8" fill="#fff" />
<line x1="190.5" y1="655.0" x2="190.5" y2="752.0" stroke="#8a8a8a" stroke-width="1" />
<circle cx="1040.3" cy="659.0" r="1.3" stroke="#333" stroke-width="0.8" fill="#fff" />
<circle cx="1040.3" cy="677.3" r="1.3" stroke="#333" stroke-width="0.8" fill="#fff" />
<circle cx="1040.3" cy="695.0" r="1.3" stroke="#333" stroke-width="0.8" fill="#fff" />
<circle cx="1040.3" cy="712.6" r="1.3" stroke="#333" stroke-width="0.8" fill="#fff" />
<circle cx="1040.3" cy="730.8" r="1.3" stroke="#333" stroke-width="0.8" fill="#fff" />
<circle cx="1040.3" cy="748.5" r="1.3" stroke="#333" stroke-width="0.8" fill="#fff" />
<path d="M1025,664.0 H1015 V673.0 H1025 M1025,682.0 H1015 V691.0 H1025 M1025,700.0 H1015 V709.0 H1025 M1025,718.0 H1015 V727.0 H1025 M1025,736.0 H1015 V745.0 H1025 " stroke="#000" stroke-width="0.9" fill="none" />
<path d="M189.0,75.50V77.80M189.0,75.50h1.5M189.0,93.54V95.84M189.0,93.54h1.5M189.0,111.58V113.88M189.0,111.58h1.5" stroke="#000" stroke-width="1.0" fill="none" />
<path d="M189.0,146.90V149.20M189.0,146.90h1.5M189.0,164.84V167.14M189.0,164.84h1.5M189.0,182.78V185.08M189.0,182.78h1.5M189.0,200.72V203.02M189.0,200.72h1.5M189.0,218.66V220.96M189.0,218.66h1.5M189.0,236.60V238.90M189.0,236.60h1.5M189.0,254.54V256.84M189.0,254.54h1.5M189.0,272.48V274.78M189.0,272.48h1.5" stroke="#000" stroke-width="1.0" fill="none" />
<path d="M189.0,316.70V319.00M189.0,316.70h1.5M189.0,334.50V336.80M189.0,334.50h1.5M189.0,352.30V354.60M189.0,352.30h1.5M189.0,370.10V372.40M189.0,370.10h1.5M189.0,387.90V390.20M189.0,387.90h1.5" stroke="#000" stroke-width="1.0" fill="none" />
<path d="M383.6,200.50V202.80M383.6,200.50h1.5M383.6,218.38V220.68M383.6,218.38h1.5M383.6,236.26V238.56M383.6,236.26h1.5M383.6,254.14V256.44M383.6,254.14h1.5M383.6,272.02V274.32M383.6,272.02h1.5" stroke="#000" stroke-width="1.0" fill="none" />
<path d="M197.3,657.00V659.30M197.3,657.00h1.5M197.3,674.76V677.06M197.3,674.76h1.5M197.3,692.52V694.82M197.3,692.52h1.5M197.3,710.28V712.58M197.3,710.28h1.5M197.3,728.04V730.34M197.3,728.04h1.5M197.3,745.80V748.10M197.3,745.80h1.5" stroke="#000" stroke-width="1.0" fill="none" />
<circle cx="280.0" cy="137.0" r="84.0" stroke="#333" stroke-width="1.1" fill="none" />
<circle cx="280.0" cy="137.0" r="81.6" stroke="#333" stroke-width="1.1" fill="none" />
<circle cx="282.0" cy="305.0" r="85.0" stroke="#333" stroke-width="1.1" fill="none" />
<circle cx="282.0" cy="305.0" r="82.6" stroke="#333" stroke-width="1.1" fill="none" />
<ellipse cx="640" cy="303" rx="92" ry="90" stroke="#333" stroke-width="1.1" fill="none"/>
<ellipse cx="640" cy="303" rx="89.5" ry="87.5" stroke="#333" stroke-width="1.1" fill="none"/>
<ellipse cx="908.5" cy="297" rx="91" ry="84" stroke="#333" stroke-width="1.1" fill="none"/>
<ellipse cx="908.5" cy="297" rx="88.5" ry="81.5" stroke="#333" stroke-width="1.1" fill="none"/>
<rect x="273.0" y="138.0" width="14.0" height="4.0" rx="0" stroke="none" stroke-width="0" fill="#000" opacity="0.5"/>
<rect x="276.0" y="306.5" width="14.0" height="4.0" rx="0" stroke="none" stroke-width="0" fill="#000" opacity="0.5"/>
<rect x="1060.4" y="213.2" width="72.3" height="198.3" rx="0" stroke="#111" stroke-width="1.1" fill="none" />
<rect x="1063.3" y="216.6" width="68.4" height="191.1" rx="0" stroke="#111" stroke-width="0.9" fill="none" />
<circle cx="1094.8" cy="248.0" r="14.3" stroke="#111" stroke-width="1.0" fill="none" />
<rect x="1093.5" y="246.5" width="3.0" height="3.0" rx="0" stroke="none" stroke-width="0" fill="#222" opacity="0.5"/>
<circle cx="1094.8" cy="311.7" r="14.3" stroke="#111" stroke-width="1.0" fill="none" />
<rect x="1093.5" y="310.2" width="3.0" height="3.0" rx="0" stroke="none" stroke-width="0" fill="#222" opacity="0.5"/>
<circle cx="1094.8" cy="375.4" r="14.3" stroke="#111" stroke-width="1.0" fill="none" />
<rect x="1093.5" y="373.9" width="3.0" height="3.0" rx="0" stroke="none" stroke-width="0" fill="#222" opacity="0.5"/>
<rect x="1084.0" y="335.0" width="22.0" height="3.0" rx="0" stroke="none" stroke-width="0" fill="#222" opacity="0.5"/>
<rect x="1093.0" y="344.0" width="4.0" height="3.0" rx="0" stroke="none" stroke-width="0" fill="#333" opacity="0.5"/>
<rect x="1051.3" y="243.2" width="8.7" height="10.5" rx="0" stroke="#111" stroke-width="1" fill="none" />
<rect x="1051.3" y="306.0" width="8.7" height="12.3" rx="0" stroke="#111" stroke-width="1" fill="none" />
<rect x="1086.0" y="210.0" width="11.5" height="3.0" rx="0" stroke="#000" stroke-width="0.7" fill="url(#hatch)" />
<rect x="1085.0" y="410.0" width="11.5" height="3.0" rx="0" stroke="#000" stroke-width="0.7" fill="url(#hatch)" />
<path d="M1049,400 V222 Q1049,211 1065,200.5 H1081 V213 M1087,200.5 H1170 Q1173,205 1173,213" stroke="#909090" stroke-width="1" fill="none" />
<path d="M1049,400 Q1049,420 1065,420 H1081 V411 M1087,420 H1140" stroke="#909090" stroke-width="1" fill="none" />
<rect x="1139.3" y="213.8" width="47.5" height="177.7" rx="0" stroke="#909090" stroke-width="1.2" fill="none" />
<rect x="1142.0" y="216.6" width="42.0" height="172.0" rx="0" stroke="#909090" stroke-width="1" fill="none" />
<path d="M1153.6,217.6 V284 H1142 M1142,284 H1184 M1153.6,321 H1184 M1153.6,321 V389 M1142,332 H1153.6 M1142,342 H1184" stroke="#909090" stroke-width="1" fill="none" />
<path d="M1186.8,217 Q1196,222 1196,238 Q1196,246 1186.8,248 M1186.8,255 Q1196,258 1196,272 Q1196,290 1186.8,294 M1186.8,312 H1196 V367 H1186.8 M1186.8,375 Q1196,380 1196,398 Q1196,420 1180,420 H1140 M1137,376 H1152 V396" stroke="#909090" stroke-width="1" fill="none" />
<rect x="1168.0" y="219.0" width="5.0" height="2.0" rx="0" stroke="none" stroke-width="0" fill="#777" opacity="0.5"/>
<rect x="1163.0" y="224.0" width="13.0" height="2.5" rx="0" stroke="none" stroke-width="0" fill="#777" opacity="0.5"/>
<rect x="1165.0" y="245.0" width="4.0" height="3.0" rx="0" stroke="none" stroke-width="0" fill="#888" opacity="0.5"/>
<rect x="1157.0" y="254.0" width="15.0" height="3.0" rx="0" stroke="none" stroke-width="0" fill="#888" opacity="0.5"/>
<rect x="1163.0" y="303.0" width="4.0" height="3.0" rx="0" stroke="none" stroke-width="0" fill="#888" opacity="0.5"/>
<rect x="1168.0" y="343.0" width="5.0" height="2.0" rx="0" stroke="none" stroke-width="0" fill="#777" opacity="0.5"/>
<rect x="1163.0" y="348.0" width="13.0" height="2.5" rx="0" stroke="none" stroke-width="0" fill="#777" opacity="0.5"/>
<rect x="1165.0" y="360.0" width="4.0" height="3.0" rx="0" stroke="none" stroke-width="0" fill="#888" opacity="0.5"/>
<rect x="1165.0" y="370.0" width="7.0" height="3.0" rx="0" stroke="none" stroke-width="0" fill="#888" opacity="0.5"/>
<rect x="1201.0" y="270.0" width="3.0" height="7.0" rx="0" stroke="none" stroke-width="0" fill="#999" opacity="0.5"/>
<rect x="1044.0" y="285.0" width="3.0" height="7.0" rx="0" stroke="none" stroke-width="0" fill="#999" opacity="0.5"/>
<rect x="1150.5" y="437.8" width="35.9" height="149.1" rx="0" stroke="#000" stroke-width="1.2" fill="none" />
<rect x="1151.5" y="439" width="34" height="48" fill="#000" opacity="0.72"/>
<rect x="1161.0" y="455.0" width="2.2" height="27.0" rx="0" stroke="none" stroke-width="0" fill="#fff" opacity="0.8"/>
<rect x="1171.0" y="460.0" width="5.0" height="5.0" rx="0" stroke="none" stroke-width="0" fill="#fff" opacity="0.8"/>
<rect x="1171.0" y="470.0" width="4.0" height="1.5" rx="0" stroke="none" stroke-width="0" fill="#fff" opacity="0.8"/>
<rect x="1171.0" y="476.0" width="4.0" height="1.5" rx="0" stroke="none" stroke-width="0" fill="#fff" opacity="0.8"/>
<rect x="1155.0" y="450.0" width="1.5" height="30.0" rx="0" stroke="none" stroke-width="0" fill="#fff" opacity="0.8"/>
<rect x="1166.0" y="452.0" width="1.2" height="30.0" rx="0" stroke="none" stroke-width="0" fill="#fff" opacity="0.8"/>
<rect x="1158.0" y="446.0" width="22.0" height="1.2" rx="0" stroke="none" stroke-width="0" fill="#fff" opacity="0.8"/>
<rect x="1176.0" y="448.0" width="1.2" height="35.0" rx="0" stroke="none" stroke-width="0" fill="#fff" opacity="0.8"/>
<path d="M1150.5,487.5 H1186.4 M1150.5,503.2 H1186.4 M1150.5,520.2 H1186.4 M1150.5,535.9 H1186.4 M1150.5,552.2 H1186.4 M1150.5,568.6 H1186.4 M1150.5,583 H1186.4" stroke="#000" stroke-width="1.0" fill="none" />
<path d="M1153,487 V587 M1164.8,487 V587 M1166.1,487 V587 M1181.8,487 V587 M1183.8,487 V587" stroke="#000" stroke-width="0.9" fill="none" />
<rect x="1154" y="489" width="10" height="47" fill="url(#dense2)"/>
<rect x="1167" y="522" width="14" height="30" fill="url(#dense2)"/>
<rect x="1167.0" y="490.0" width="5.0" height="12.0" rx="0" stroke="#000" stroke-width="1" fill="none" />
<rect x="1167.0" y="506.0" width="5.0" height="12.0" rx="0" stroke="#000" stroke-width="1" fill="none" />
<rect x="1173.0" y="493.0" width="8.0" height="6.0" rx="0" stroke="#000" stroke-width="1" fill="none" />
<rect x="1173.0" y="508.0" width="8.0" height="6.0" rx="0" stroke="#000" stroke-width="1" fill="none" />
<rect x="1147.5" y="492.0" width="4.0" height="8.0" rx="0" stroke="#000" stroke-width="0.9" fill="none" />
<rect x="1183.5" y="492.0" width="4.0" height="8.0" rx="0" stroke="#000" stroke-width="0.9" fill="none" />
<rect x="1147.5" y="508.0" width="4.0" height="8.0" rx="0" stroke="#000" stroke-width="0.9" fill="none" />
<rect x="1183.5" y="508.0" width="4.0" height="8.0" rx="0" stroke="#000" stroke-width="0.9" fill="none" />
<rect x="1147.5" y="524.0" width="4.0" height="8.0" rx="0" stroke="#000" stroke-width="0.9" fill="none" />
<rect x="1183.5" y="524.0" width="4.0" height="8.0" rx="0" stroke="#000" stroke-width="0.9" fill="none" />
<rect x="1147.5" y="557.0" width="4.0" height="8.0" rx="0" stroke="#000" stroke-width="0.9" fill="none" />
<rect x="1183.5" y="557.0" width="4.0" height="8.0" rx="0" stroke="#000" stroke-width="0.9" fill="none" />
<rect x="1147.5" y="573.0" width="4.0" height="8.0" rx="0" stroke="#000" stroke-width="0.9" fill="none" />
<rect x="1183.5" y="573.0" width="4.0" height="8.0" rx="0" stroke="#000" stroke-width="0.9" fill="none" />
<rect x="1183.5" y="540.0" width="4.0" height="8.0" rx="0" stroke="#000" stroke-width="0.9" fill="none" />
<rect x="1171.0" y="559.0" width="8.0" height="2.0" rx="0" stroke="none" stroke-width="0" fill="#000" opacity="0.5"/>
<rect x="1171.0" y="575.0" width="8.0" height="2.0" rx="0" stroke="none" stroke-width="0" fill="#000" opacity="0.5"/>
<rect x="1155.0" y="576.0" width="6.0" height="2.0" rx="0" stroke="none" stroke-width="0" fill="#000" opacity="0.5"/>
<rect x="1062.4" y="448.3" width="39.1" height="135.6" rx="0" stroke="#909090" stroke-width="1" fill="none" />
<line x1="1092.4" y1="448.3" x2="1092.4" y2="583.9" stroke="#909090" stroke-width="1" />
<rect x="1073.0" y="515.0" width="4.0" height="3.0" rx="0" stroke="none" stroke-width="0" fill="#888" opacity="0.5"/>
<rect x="1069.0" y="527.0" width="15.0" height="3.0" rx="0" stroke="none" stroke-width="0" fill="#888" opacity="0.5"/>
<rect x="1094.0" y="514.0" width="5.0" height="5.0" rx="0" stroke="none" stroke-width="0" fill="#888" opacity="0.5"/>
<path d="M1064,448 V438 Q1064,432 1072,432 H1097 Q1102,432 1102,440 V448 M1102,452 H1108 V440 Q1108,433 1115,433 H1160 Q1165,433 1165,437" stroke="#909090" stroke-width="1" fill="none" />
<path d="M1062.4,464 H1056 Q1048.3,464 1048.3,475 V590 Q1048.3,604 1060,606 Q1066,600 1062.4,583.9" stroke="#909090" stroke-width="1" fill="none" />
<path d="M1068,583.9 V602 Q1068,607 1080,607 H1164 M1168,587 V607 M1172,437 Q1195,440 1195,460 V520 Q1195,535 1186,537 M1186,547 Q1195,549 1195,560 V590 Q1195,607 1175,607" stroke="#909090" stroke-width="1" fill="none" />
<path d="M1040.8,612.2 H1200.5 V640" stroke="#909090" stroke-width="1" fill="none" />
<line x1="1036.7" y1="430.0" x2="1036.7" y2="640.0" stroke="#909090" stroke-width="1" />
<rect x="1200.0" y="503.0" width="3.0" height="7.0" rx="0" stroke="none" stroke-width="0" fill="#999" opacity="0.5"/>
<rect x="1043.0" y="543.0" width="3.0" height="7.0" rx="0" stroke="none" stroke-width="0" fill="#999" opacity="0.5"/>
<rect x="1101.0" y="425.0" width="7.0" height="3.0" rx="0" stroke="none" stroke-width="0" fill="#999" opacity="0.5"/>
<rect x="1000.5" y="354.0" width="35.0" height="43.5" rx="0" stroke="#909090" stroke-width="1" fill="none" />
<line x1="1037.5" y1="181.0" x2="1037.5" y2="420.0" stroke="#909090" stroke-width="1" />
<path d="M198,626 V428.3 H491" stroke="#000" stroke-width="1.3" fill="none" />
<line x1="491.5" y1="752.0" x2="491.5" y2="871.0" stroke="#000" stroke-width="1.3" />
<path d="M193.6,760 V428 Q193.6,418.6 203,418.6 H214 M221.6,418 V428 M221.6,418 H474 V428 M481,418.6 H488 Q500.5,418.6 500.5,433 V655" stroke="#909090" stroke-width="1" fill="none" />
<path d="M513.2,655 V429.6 H520" stroke="#909090" stroke-width="1" fill="none" />
<rect x="202.5" y="424.0" width="13.0" height="4.0" rx="0" stroke="#000" stroke-width="0.7" fill="url(#hatch)" />
<rect x="479.0" y="424.0" width="10.0" height="4.0" rx="0" stroke="#000" stroke-width="0.7" fill="url(#hatch)" />
<line x1="192.5" y1="420.0" x2="192.5" y2="994.0" stroke="#8a8a8a" stroke-width="1" />
<line x1="180.0" y1="400.0" x2="180.0" y2="650.0" stroke="#909090" stroke-width="0.9" />
<path d="M521.5,655 V412.5 H761" stroke="#000" stroke-width="1.3" fill="none" />
<line x1="524.0" y1="414.0" x2="524.0" y2="655.0" stroke="#000" stroke-width="0.8" />
<line x1="754.7" y1="412.8" x2="754.7" y2="655.0" stroke="#000" stroke-width="1.3" />
<line x1="757.8" y1="414.0" x2="757.8" y2="655.0" stroke="#909090" stroke-width="0.9" />
<rect x="759.0" y="414.0" width="2.5" height="9.0" rx="0" stroke="#000" stroke-width="0.6" fill="url(#hatch)" />
<rect x="519.0" y="425.0" width="2.5" height="9.0" rx="0" stroke="#000" stroke-width="0.6" fill="url(#hatch)" />
<line x1="768.5" y1="287.0" x2="768.5" y2="655.0" stroke="#888" stroke-width="1" />
<line x1="781.5" y1="287.0" x2="781.5" y2="655.0" stroke="#888" stroke-width="1" />
<path d="M794.2,655 V413.5 H1024 V655" stroke="#000" stroke-width="1.3" fill="none" />
<line x1="790.4" y1="414.0" x2="790.4" y2="655.0" stroke="#909090" stroke-width="1" />
<line x1="1021.0" y1="416.0" x2="1021.0" y2="655.0" stroke="#000" stroke-width="0.8" />
<rect x="787.0" y="414.0" width="3.0" height="9.0" rx="0" stroke="#000" stroke-width="0.6" fill="url(#hatch)" />
<rect x="1025.0" y="416.0" width="3.0" height="9.0" rx="0" stroke="#000" stroke-width="0.6" fill="url(#hatch)" />
<line x1="1037.5" y1="420.0" x2="1037.5" y2="640.0" stroke="#909090" stroke-width="1" />
<rect x="908.5" y="576.5" width="3.0" height="3.0" rx="0" stroke="none" stroke-width="0" fill="#333" />
<rect x="897.5" y="585.0" width="25.0" height="2.2" rx="0" stroke="none" stroke-width="0" fill="#555" />
<rect x="371.2" y="295.2" width="7.5" height="5.2" rx="0" stroke="none" stroke-width="0" fill="#000" />
<path d="M372.7,296.6 L377.2,299.0 M372.7,299.0 L377.2,296.6" stroke="#fff" stroke-width="0.6" fill="none" />
<text x="313.7" y="297.3" font-family="Liberation Serif" font-size="12.5" fill="#000" textLength="26.0" lengthAdjust="spacingAndGlyphs" stroke="#000" stroke-width="0.45">NB13,</text>
<text x="313.7" y="308.0" font-family="Liberation Serif" font-size="12.5" fill="#000" textLength="42.0" lengthAdjust="spacingAndGlyphs" stroke="#000" stroke-width="0.45">1×225kW</text>
<line x1="311.0" y1="299.3" x2="378.0" y2="299.3" stroke="#000" stroke-width="1.0" />
<rect x="371.5" y="409.0" width="7.5" height="5.2" rx="0" stroke="none" stroke-width="0" fill="#000" />
<path d="M373.0,410.4 L377.5,412.8 M373.0,412.8 L377.5,410.4" stroke="#fff" stroke-width="0.6" fill="none" />
<text x="398.7" y="423.0" font-family="Liberation Serif" font-size="12.5" fill="#000" textLength="28.0" lengthAdjust="spacingAndGlyphs" stroke="#000" stroke-width="0.45">NB12,</text>
<text x="398.7" y="433.4" font-family="Liberation Serif" font-size="12.5" fill="#000" textLength="43.0" lengthAdjust="spacingAndGlyphs" stroke="#000" stroke-width="0.45">1×225kW</text>
<line x1="397.0" y1="423.6" x2="441.0" y2="423.6" stroke="#000" stroke-width="1.0" />
<polyline points="379.0,412.7 398.7,423.6" stroke="#000" stroke-width="0.9" fill="none" />
<rect x="550.0" y="409.0" width="7.5" height="5.2" rx="0" stroke="none" stroke-width="0" fill="#000" />
<path d="M551.5,410.4 L556.0,412.8 M551.5,412.8 L556.0,410.4" stroke="#fff" stroke-width="0.6" fill="none" />
<text x="555.0" y="425.0" font-family="Liberation Serif" font-size="12.5" fill="#000" textLength="24.0" lengthAdjust="spacingAndGlyphs" stroke="#000" stroke-width="0.45">NB10</text>
<text x="555.0" y="434.5" font-family="Liberation Serif" font-size="12.5" fill="#000" textLength="43.0" lengthAdjust="spacingAndGlyphs" stroke="#000" stroke-width="0.45">1×225kW</text>
<line x1="554.0" y1="425.3" x2="599.0" y2="425.3" stroke="#000" stroke-width="1.0" />
<polyline points="554.0,414.0 556.0,425.0" stroke="#000" stroke-width="0.9" fill="none" />
<rect x="682.0" y="409.0" width="7.5" height="5.2" rx="0" stroke="none" stroke-width="0" fill="#000" />
<path d="M683.5,410.4 L688.0,412.8 M683.5,412.8 L688.0,410.4" stroke="#fff" stroke-width="0.6" fill="none" />
<text x="633.0" y="429.0" font-family="Liberation Serif" font-size="12.5" fill="#000" textLength="23.5" lengthAdjust="spacingAndGlyphs" stroke="#000" stroke-width="0.45">NB9,</text>
<text x="633.0" y="439.0" font-family="Liberation Serif" font-size="12.5" fill="#000" textLength="43.0" lengthAdjust="spacingAndGlyphs" stroke="#000" stroke-width="0.45">1×225kW</text>
<line x1="633.0" y1="429.5" x2="676.0" y2="429.5" stroke="#000" stroke-width="1.0" />
<polyline points="676.0,429.5 682.0,414.0" stroke="#000" stroke-width="0.9" fill="none" />
<rect x="900.5" y="409.0" width="7.5" height="5.2" rx="0" stroke="none" stroke-width="0" fill="#000" />
<path d="M902.0,410.4 L906.5,412.8 M902.0,412.8 L906.5,410.4" stroke="#fff" stroke-width="0.6" fill="none" />
<text x="855.5" y="430.7" font-family="Liberation Serif" font-size="12.5" fill="#000" textLength="23.5" lengthAdjust="spacingAndGlyphs" stroke="#000" stroke-width="0.45">NB6,</text>
<text x="855.5" y="441.0" font-family="Liberation Serif" font-size="12.5" fill="#000" textLength="40.0" lengthAdjust="spacingAndGlyphs" stroke="#000" stroke-width="0.45">1×225kW</text>
<line x1="854.0" y1="431.0" x2="897.0" y2="431.0" stroke="#000" stroke-width="1.0" />
<polyline points="896.8,431.0 900.5,414.0" stroke="#000" stroke-width="0.9" fill="none" />
<rect x="536.5" y="295.2" width="7.5" height="5.2" rx="0" stroke="none" stroke-width="0" fill="#000" />
<path d="M538.0,296.6 L542.5,299.0 M538.0,299.0 L542.5,296.6" stroke="#fff" stroke-width="0.6" fill="none" />
<text x="478.4" y="299.5" font-family="Liberation Serif" font-size="12.5" fill="#000" textLength="21.6" lengthAdjust="spacingAndGlyphs" stroke="#000" stroke-width="0.45">NB11</text>
<text x="478.4" y="309.2" font-family="Liberation Serif" font-size="12.5" fill="#000" textLength="42.0" lengthAdjust="spacingAndGlyphs" stroke="#000" stroke-width="0.45">1×225kW</text>
<line x1="476.0" y1="300.6" x2="536.5" y2="300.6" stroke="#000" stroke-width="1.0" />
<polyline points="519.0,300.6 536.5,297.5" stroke="#000" stroke-width="0.9" fill="none" />
<rect x="805.5" y="293.8" width="7.5" height="5.2" rx="0" stroke="none" stroke-width="0" fill="#000" />
<path d="M807.0,295.1 L811.5,297.6 M807.0,297.6 L811.5,295.1" stroke="#fff" stroke-width="0.6" fill="none" />
<text x="821.8" y="298.0" font-family="Liberation Serif" font-size="12.5" fill="#000" textLength="24.0" lengthAdjust="spacingAndGlyphs" stroke="#000" stroke-width="0.45">NB8,</text>
<text x="821.8" y="308.0" font-family="Liberation Serif" font-size="12.5" fill="#000" textLength="41.0" lengthAdjust="spacingAndGlyphs" stroke="#000" stroke-width="0.45">1×225kW</text>
<line x1="814.0" y1="298.0" x2="865.5" y2="298.0" stroke="#000" stroke-width="1.0" />
<polyline points="813.0,296.0 821.0,298.0" stroke="#000" stroke-width="0.9" fill="none" />
<rect x="1004.0" y="293.8" width="7.5" height="5.2" rx="0" stroke="none" stroke-width="0" fill="#000" />
<path d="M1005.5,295.1 L1010.0,297.6 M1005.5,297.6 L1010.0,295.1" stroke="#fff" stroke-width="0.6" fill="none" />
<text x="959.0" y="298.0" font-family="Liberation Serif" font-size="12.5" fill="#000" textLength="23.0" lengthAdjust="spacingAndGlyphs" stroke="#000" stroke-width="0.45">NB7,</text>
<text x="959.0" y="308.0" font-family="Liberation Serif" font-size="12.5" fill="#000" textLength="41.0" lengthAdjust="spacingAndGlyphs" stroke="#000" stroke-width="0.45">1×225kW</text>
<line x1="953.0" y1="298.0" x2="1004.0" y2="298.0" stroke="#000" stroke-width="1.0" />
<text x="311.5" y="132.6" font-family="Liberation Serif" font-size="12.5" fill="#000" textLength="49.5" lengthAdjust="spacingAndGlyphs" stroke="#000" stroke-width="0.45">NB14,15,</text>
<text x="311.5" y="143.4" font-family="Liberation Serif" font-size="12.5" fill="#000" textLength="43.0" lengthAdjust="spacingAndGlyphs" stroke="#000" stroke-width="0.45">2×225kW</text>
<line x1="309.4" y1="133.3" x2="361.0" y2="133.3" stroke="#000" stroke-width="1.0" />
<polyline points="352.0,132.0 371.8,129.0" stroke="#000" stroke-width="0.9" fill="none" />
<rect x="371.8" y="127.2" width="7.5" height="5.2" rx="0" stroke="none" stroke-width="0" fill="#000" />
<path d="M373.3,128.6 L377.8,131.0 M373.3,131.0 L377.8,128.6" stroke="#fff" stroke-width="0.6" fill="none" />
<rect x="371.8" y="139.7" width="7.5" height="5.2" rx="0" stroke="none" stroke-width="0" fill="#000" />
<path d="M373.3,141.1 L377.8,143.5 M373.3,143.5 L377.8,141.1" stroke="#fff" stroke-width="0.6" fill="none" />
<line x1="350.0" y1="136.0" x2="371.8" y2="142.0" stroke="#000" stroke-width="0.9" />
<path d="M794.5,319 V290.5 H807.5 V319" stroke="#000" stroke-width="1.0" fill="none" />
<text x="391.9" y="139.7" font-family="Liberation Serif" font-size="13" fill="#000" textLength="46.0" lengthAdjust="spacingAndGlyphs" stroke="#000" stroke-width="0.4">NB14–Z18</text>
<line x1="396.0" y1="140.0" x2="390.0" y2="148.0" stroke="#000" stroke-width="0.9" />
<rect x="390.5" y="158.5" width="38.0" height="9.0" rx="0" stroke="#000" stroke-width="1.2" fill="none" />
<text x="396.7" y="167.0" font-family="Liberation Serif" font-size="13" fill="#000" textLength="46.0" lengthAdjust="spacingAndGlyphs" stroke="#000" stroke-width="0.35">NB14–Z17</text>
<rect x="799.5" y="355.5" width="11.0" height="8.5" rx="0" stroke="#000" stroke-width="0.9" fill="none" />
<rect x="1014.6" y="668.5" width="19.0" height="9.0" rx="0" stroke="#000" stroke-width="0.9" fill="none" />
<rect x="1014.6" y="722.0" width="19.0" height="9.0" rx="0" stroke="#000" stroke-width="0.9" fill="none" />
<rect x="401.0" y="755.0" width="7.5" height="5.2" rx="0" stroke="none" stroke-width="0" fill="#000" />
<path d="M402.5,756.4 L407.0,758.8 M402.5,758.8 L407.0,756.4" stroke="#fff" stroke-width="0.6" fill="none" />
<text x="422.5" y="762.0" font-family="Liberation Serif" font-size="12.5" fill="#000" textLength="16.5" lengthAdjust="spacingAndGlyphs" stroke="#000" stroke-width="0.45">NB1</text>
<text x="422.5" y="773.5" font-family="Liberation Serif" font-size="12.5" fill="#000" textLength="43.0" lengthAdjust="spacingAndGlyphs" stroke="#000" stroke-width="0.45">1×225kW</text>
<line x1="421.0" y1="763.0" x2="461.0" y2="763.0" stroke="#000" stroke-width="1.0" />
<rect x="524.0" y="753.5" width="7.5" height="5.2" rx="0" stroke="none" stroke-width="0" fill="#000" />
<path d="M525.5,754.9 L530.0,757.3 M525.5,757.3 L530.0,754.9" stroke="#fff" stroke-width="0.6" fill="none" />
<text x="549.0" y="763.5" font-family="Liberation Serif" font-size="12.5" fill="#000" textLength="25.0" lengthAdjust="spacingAndGlyphs" stroke="#000" stroke-width="0.45">NB2,</text>
<text x="549.0" y="775.0" font-family="Liberation Serif" font-size="12.5" fill="#000" textLength="41.0" lengthAdjust="spacingAndGlyphs" stroke="#000" stroke-width="0.45">1×225kW</text>
<line x1="548.0" y1="763.5" x2="589.0" y2="763.5" stroke="#000" stroke-width="1.0" />
<rect x="700.0" y="753.0" width="7.5" height="5.2" rx="0" stroke="none" stroke-width="0" fill="#000" />
<path d="M701.5,754.4 L706.0,756.8 M701.5,756.8 L706.0,754.4" stroke="#fff" stroke-width="0.6" fill="none" />
<text x="695.0" y="777.0" font-family="Liberation Serif" font-size="12.5" fill="#000" textLength="25.0" lengthAdjust="spacingAndGlyphs" stroke="#000" stroke-width="0.45">NB3,</text>
<text x="695.0" y="787.0" font-family="Liberation Serif" font-size="12.5" fill="#000" textLength="41.5" lengthAdjust="spacingAndGlyphs" stroke="#000" stroke-width="0.45">1×225kW</text>
<line x1="695.0" y1="777.0" x2="734.0" y2="777.0" stroke="#000" stroke-width="1.0" />
<rect x="842.0" y="753.5" width="7.5" height="5.2" rx="0" stroke="none" stroke-width="0" fill="#000" />
<path d="M843.5,754.9 L848.0,757.3 M843.5,757.3 L848.0,754.9" stroke="#fff" stroke-width="0.6" fill="none" />
<text x="839.0" y="777.0" font-family="Liberation Serif" font-size="12.5" fill="#000" textLength="24.0" lengthAdjust="spacingAndGlyphs" stroke="#000" stroke-width="0.45">NB4,</text>
<text x="839.0" y="787.0" font-family="Liberation Serif" font-size="12.5" fill="#000" textLength="41.5" lengthAdjust="spacingAndGlyphs" stroke="#000" stroke-width="0.45">1×225kW</text>
<line x1="839.0" y1="777.0" x2="883.0" y2="777.0" stroke="#000" stroke-width="1.0" />
<rect x="1029.0" y="644.8" width="7.5" height="5.2" rx="0" stroke="none" stroke-width="0" fill="#000" />
<path d="M1030.5,646.1 L1035.0,648.6 M1030.5,648.6 L1035.0,646.1" stroke="#fff" stroke-width="0.6" fill="none" />
<text x="993.0" y="625.0" font-family="Liberation Serif" font-size="12.5" fill="#000" textLength="22.5" lengthAdjust="spacingAndGlyphs" stroke="#000" stroke-width="0.45">NB5,</text>
<text x="993.0" y="633.5" font-family="Liberation Serif" font-size="12.5" fill="#000" textLength="41.0" lengthAdjust="spacingAndGlyphs" stroke="#000" stroke-width="0.45">1×225kW</text>
<line x1="992.0" y1="625.0" x2="1035.5" y2="625.0" stroke="#000" stroke-width="1.0" />
<circle cx="639.4" cy="859.4" r="83.0" stroke="#111" stroke-width="1.1" fill="none" />
<circle cx="639.4" cy="859.4" r="80.4" stroke="#111" stroke-width="1.1" fill="none" />
<circle cx="907.4" cy="859.4" r="83.0" stroke="#111" stroke-width="1.1" fill="none" />
<circle cx="907.4" cy="859.4" r="80.4" stroke="#111" stroke-width="1.1" fill="none" />
<rect x="635.4" y="771.0" width="15.8" height="8.7" rx="0" stroke="#111" stroke-width="1" fill="#fff" />
<rect x="635.4" y="940.0" width="8.0" height="8.0" rx="0" stroke="#111" stroke-width="1" fill="#fff" />
<rect x="734.7" y="846.4" width="12.4" height="27.2" rx="0" stroke="#111" stroke-width="1" fill="#fff" />
<path d="M721,846.4 H734.7 M721,873.6 H734.7" stroke="#111" stroke-width="1" fill="none" />
<rect x="551.8" y="841.5" width="4.5" height="13.5" rx="0" stroke="#000" stroke-width="0.6" fill="url(#hatch)" />
<rect x="895.5" y="771.0" width="16.5" height="8.7" rx="0" stroke="#111" stroke-width="1" fill="#fff" />
<rect x="903.0" y="940.0" width="8.0" height="8.0" rx="0" stroke="#111" stroke-width="1" fill="#fff" />
<rect x="799.0" y="846.4" width="14.0" height="27.2" rx="0" stroke="#111" stroke-width="1" fill="#fff" />
<path d="M813,846.4 H826 M813,873.6 H826" stroke="#111" stroke-width="1" fill="none" />
<rect x="990.5" y="841.5" width="4.5" height="13.5" rx="0" stroke="#000" stroke-width="0.6" fill="url(#hatch)" />
<rect x="638.5" y="849.5" width="3.0" height="3.0" rx="0" stroke="none" stroke-width="0" fill="#333" />
<rect x="635.0" y="858.0" width="10.0" height="2.2" rx="0" stroke="none" stroke-width="0" fill="#555" />
<rect x="906.5" y="849.5" width="3.0" height="3.0" rx="0" stroke="none" stroke-width="0" fill="#333" />
<rect x="903.0" y="858.0" width="10.0" height="2.2" rx="0" stroke="none" stroke-width="0" fill="#555" />
<path d="M512.2,835.3 V775 Q512.2,762.4 528,762.4 H752 Q766.9,762.4 766.9,778 V828 H735.7 V840" stroke="#909090" stroke-width="1" fill="none" />
<path d="M512.2,835 L555.3,836.4 M552.6,842.5 L512.1,841 V899.7 L540.4,893 M536.4,855.3 H552.6 M536.4,855.3 A103,103 0 0 0 599.7,955 M512.1,920 Q512.1,913 520,910 L544.5,901" stroke="#909090" stroke-width="1" fill="none" />
<polygon points="517.5,875.0 532.0,873.5 533.0,884.0 518.5,885.5" stroke="#111" stroke-width="1" fill="none" />
<path d="M781,778 Q781,762.4 797,762.4 H1021 Q1037.5,762.4 1037.5,780" stroke="#909090" stroke-width="1" fill="none" />
<path d="M781,828 H813 V840 M767,840 V945 M781,840 V945" stroke="#909090" stroke-width="1" fill="none" />
<path d="M1034.8,778 V832.3 L987.6,834.4 M993.7,840.4 L1034.8,839 V903.1 L1005,894.3 M991.7,856.6 H1010.5 M1010.5,856.6 A103,103 0 0 1 960,949.6 M1001.8,903.1 L1030,914.6 Q1034.8,918 1034.8,925 V960" stroke="#909090" stroke-width="1" fill="none" />
<polygon points="1013.0,877.5 1029.4,881.0 1028.0,889.0 1012.0,885.5" stroke="#111" stroke-width="1" fill="none" />
<rect x="205.0" y="877.5" width="180.0" height="110.0" rx="0" stroke="#333" stroke-width="1" fill="none" />
<path d="M211,989 V882.5 H391 V954 H385 V989 Z" stroke="#111" stroke-width="1.2" fill="none" />
<rect x="391.0" y="885.0" width="4.0" height="20.0" rx="0" stroke="#000" stroke-width="0.6" fill="url(#hatch)" />
<rect x="210.0" y="988.0" width="20.0" height="4.0" rx="0" stroke="#000" stroke-width="0.6" fill="url(#hatch)" />
<rect x="203.0" y="869.0" width="11.0" height="4.0" rx="0" stroke="#000" stroke-width="0.6" fill="url(#hatch)" />
<path d="M202,868 H491" stroke="#222" stroke-width="1" fill="none" />
<path d="M391,886 H496" stroke="#909090" stroke-width="1" fill="none" />
<rect x="451.0" y="901.0" width="42.0" height="61.5" rx="0" stroke="#909090" stroke-width="1" fill="none" />
<rect x="468.0" y="929.0" width="3.0" height="3.0" rx="0" stroke="none" stroke-width="0" fill="#888" opacity="0.5"/>
<rect x="460.0" y="938.0" width="25.0" height="3.0" rx="0" stroke="none" stroke-width="0" fill="#888" opacity="0.5"/>
<rect x="293.5" y="927.5" width="3.0" height="3.0" rx="0" stroke="none" stroke-width="0" fill="#333" />
<rect x="290.0" y="936.0" width="10.0" height="2.2" rx="0" stroke="none" stroke-width="0" fill="#555" />
<path d="M190.6,994 H196 L232,992 V999 L190.8,1001 V1137 Q190.8,1150 205,1150 H481 Q499,1150 499,1132 V995 L481,1000" stroke="#909090" stroke-width="1" fill="none" />
<path d="M178.4,1029 V1145 Q178.4,1162.5 196,1162.5 H486 Q497.7,1162.5 497.7,1176 V1188" stroke="#909090" stroke-width="1" fill="none" />
<polygon points="219.7,1002.6 468.4,1002.6 489.3,1021.0 489.3,1126.8 468.4,1149.7 219.7,1149.7 197.0,1126.8 197.0,1024.9" stroke="#111" stroke-width="1.3" fill="none" />
<polygon points="222.0,1006.2 466.0,1006.2 485.5,1024.0 485.5,1124.0 466.0,1144.0 221.6,1144.0 201.3,1124.0 201.3,1027.0" stroke="#111" stroke-width="1.0" fill="none" />
<line x1="220.0" y1="1147.5" x2="468.0" y2="1147.5" stroke="#909090" stroke-width="0.8" />
<rect x="193.0" y="1133.0" width="22.0" height="4.0" rx="0" stroke="#000" stroke-width="0.6" fill="url(#hatch)" transform="rotate(45 204 1135)"/>
<rect x="469.0" y="1011.0" width="22.0" height="4.0" rx="0" stroke="#000" stroke-width="0.6" fill="url(#hatch)" transform="rotate(45 480 1013)"/>
<rect x="336.5" y="1070.5" width="3.0" height="3.0" rx="0" stroke="none" stroke-width="0" fill="#333" />
<rect x="333.0" y="1079.0" width="10.0" height="2.2" rx="0" stroke="none" stroke-width="0" fill="#555" />
<rect x="426.5" y="1153.0" width="31.0" height="6.2" rx="0" stroke="#909090" stroke-width="1" fill="none" />
<rect x="372.5" y="1167.0" width="19.5" height="7.5" rx="0" stroke="#909090" stroke-width="1" fill="none" />
<rect x="331.0" y="1161.0" width="8.0" height="3.0" rx="0" stroke="none" stroke-width="0" fill="#999" opacity="0.5"/>
<rect x="519.5" y="957.0" width="239.5" height="114.0" rx="0" stroke="#111" stroke-width="1.3" fill="none" />
<rect x="524.5" y="960.0" width="228.0" height="107.0" rx="0" stroke="#111" stroke-width="1.0" fill="none" />
<rect x="786.5" y="957.5" width="240.0" height="115.5" rx="0" stroke="#111" stroke-width="1.3" fill="none" />
<rect x="792.0" y="961.0" width="229.0" height="108.0" rx="0" stroke="#111" stroke-width="1.0" fill="none" />
<rect x="635.5" y="1004.5" width="3.0" height="3.0" rx="0" stroke="none" stroke-width="0" fill="#333" />
<rect x="632.0" y="1013.0" width="10.0" height="2.2" rx="0" stroke="none" stroke-width="0" fill="#555" />
<rect x="905.5" y="1004.5" width="3.0" height="3.0" rx="0" stroke="none" stroke-width="0" fill="#333" />
<rect x="902.0" y="1013.0" width="10.0" height="2.2" rx="0" stroke="none" stroke-width="0" fill="#555" />
<rect x="759.5" y="959.0" width="3.0" height="17.0" rx="0" stroke="#000" stroke-width="0.6" fill="url(#hatch)" />
<rect x="759.5" y="1052.0" width="3.0" height="17.0" rx="0" stroke="#000" stroke-width="0.6" fill="url(#hatch)" />
<rect x="784.0" y="959.0" width="3.0" height="17.0" rx="0" stroke="#000" stroke-width="0.6" fill="url(#hatch)" />
<rect x="784.0" y="1052.0" width="3.0" height="17.0" rx="0" stroke="#000" stroke-width="0.6" fill="url(#hatch)" />
<rect x="1026.5" y="959.0" width="3.0" height="17.0" rx="0" stroke="#000" stroke-width="0.6" fill="url(#hatch)" />
<rect x="1026.5" y="1052.0" width="3.0" height="17.0" rx="0" stroke="#000" stroke-width="0.6" fill="url(#hatch)" />
<rect x="517.0" y="958.0" width="3.0" height="17.0" rx="0" stroke="#000" stroke-width="0.6" fill="url(#hatch)" />
<rect x="517.0" y="1052.0" width="3.0" height="17.0" rx="0" stroke="#000" stroke-width="0.6" fill="url(#hatch)" />
<path d="M513,1000 V1052 Q513,1082 540,1082 H750 Q766,1082 766,1068 V1055 M781,1055 V1068 Q781,1082 797,1082 H1012 Q1034,1082 1034,1060" stroke="#909090" stroke-width="1" fill="none" />
<path d="M762,967 H766 V1040 H762 M781,967 V1040 H785" stroke="#909090" stroke-width="1" fill="none" />
<path d="M1034,935 V975.7 H1028 M1034,982 V1049 H1028 M1034,1056 V1060" stroke="#909090" stroke-width="1" fill="none" />
<path d="M1006,899 Q1034,905 1034,935" stroke="#909090" stroke-width="1" fill="none" />
<path d="M1201,612 V663 L1030,905 M1207.5,625 V662 L1042,905" stroke="#909090" stroke-width="1" fill="none" />
<rect x="1019.2" y="1138.0" width="50.6" height="71.0" rx="0" stroke="#909090" stroke-width="1" fill="none" />
<rect x="1040.0" y="1164.0" width="3.0" height="3.0" rx="0" stroke="none" stroke-width="0" fill="#888" opacity="0.5"/>
<rect x="1036.0" y="1175.0" width="14.0" height="3.0" rx="0" stroke="none" stroke-width="0" fill="#888" opacity="0.5"/>
<path d="M874,1116 H990 V1145.5 H1019.2 M874,1175 H1019.2 M874,1116 V1175" stroke="#909090" stroke-width="1" fill="none" />
<rect x="929.0" y="1142.0" width="4.0" height="3.0" rx="0" stroke="none" stroke-width="0" fill="#888" opacity="0.5"/>
<rect x="923.0" y="1151.0" width="16.0" height="3.0" rx="0" stroke="none" stroke-width="0" fill="#888" opacity="0.5"/>
<path d="M700,1096 H740 Q744.5,1096 744.5,1100 V1115 H700" stroke="#909090" stroke-width="1" fill="none" />
<polygon points="753.8,1096.0 835.0,1096.0 835.0,1130.0 753.8,1128.0" stroke="#909090" stroke-width="1" fill="none" />
<rect x="841.0" y="1096.0" width="26.5" height="20.0" rx="0" stroke="#909090" stroke-width="1" fill="none" />
<rect x="841.0" y="1116.0" width="12.8" height="14.0" rx="0" stroke="#909090" stroke-width="1" fill="none" />
<rect x="853.8" y="1116.0" width="13.8" height="14.0" rx="0" stroke="#909090" stroke-width="1" fill="none" />
<path d="M873.75,1145 V1096 H890 Q897.5,1096 897.5,1115 M907.5,1115 Q907.5,1096 920,1096 H990 V1115 M873.75,1115 H990" stroke="#909090" stroke-width="1" fill="none" />
<path d="M873.75,1145 V1200" stroke="#909090" stroke-width="1" fill="none" />
<rect x="845.0" y="1132.5" width="12.5" height="3.0" rx="0" stroke="#000" stroke-width="0.6" fill="url(#hatch)" />
<rect x="753.8" y="1139.0" width="31.2" height="20.0" rx="0" stroke="#111" stroke-width="1" fill="none" />
<rect x="784.0" y="1140.0" width="1.5" height="16.0" rx="0" stroke="#000" stroke-width="0.6" fill="url(#hatch)" />
<rect x="769.0" y="1146.0" width="3.0" height="3.0" rx="0" stroke="none" stroke-width="0" fill="#222" opacity="0.5"/>
<rect x="796.0" y="1136.0" width="65.0" height="30.0" rx="0" stroke="#111" stroke-width="1.1" fill="none" />
<rect x="799.0" y="1139.0" width="59.0" height="24.0" rx="0" stroke="#111" stroke-width="0.9" fill="none" />
<rect x="821.0" y="1147.0" width="4.0" height="3.0" rx="0" stroke="none" stroke-width="0" fill="#222" opacity="0.5"/>
<rect x="814.0" y="1156.0" width="18.0" height="3.0" rx="0" stroke="none" stroke-width="0" fill="#222" opacity="0.5"/>
<line x1="861.0" y1="1136.0" x2="872.0" y2="1136.0" stroke="#909090" stroke-width="1" />
<line x1="511.5" y1="1060.0" x2="511.5" y2="1188.0" stroke="#909090" stroke-width="1" />
<rect x="512.0" y="1108.0" width="184.0" height="5.6" fill="url(#grav)" stroke="#888" stroke-width="0.6"/>
<rect x="634.0" y="1072.0" width="61.7" height="5.6" fill="url(#grav)" stroke="#888" stroke-width="0.6"/>
<rect x="690.0" y="1072.0" width="5.7" height="41.6" fill="url(#grav)" stroke="#888" stroke-width="0.6"/>
<rect x="634.0" y="1072.0" width="5.7" height="41.6" fill="url(#grav)" stroke="#888" stroke-width="0.6"/>
<rect x="640.2" y="1113.6" width="6.8" height="38.0" fill="url(#grav)" stroke="#888" stroke-width="0.6"/>
<rect x="639.7" y="1077.6" width="50.3" height="30.4" rx="5" fill="#fff" stroke="#888" stroke-width="0.8"/>
<rect x="645.0" y="1080.0" width="39.7" height="20.7" rx="0" stroke="#909090" stroke-width="1" fill="none" />
<rect x="648.3" y="1083.4" width="33.0" height="13.9" rx="0" stroke="#909090" stroke-width="1" fill="none" />
<line x1="645.0" y1="1080.0" x2="648.3" y2="1083.4" stroke="#909090" stroke-width="0.8" />
<line x1="684.7" y1="1100.7" x2="681.3" y2="1097.3" stroke="#909090" stroke-width="0.8" />
<rect x="656.0" y="1085.0" width="25.0" height="2.5" rx="0" stroke="none" stroke-width="0" fill="#777" opacity="0.5"/>
<rect x="650.0" y="1089.0" width="5.0" height="4.0" rx="0" stroke="none" stroke-width="0" fill="#888" opacity="0.5"/>
<rect x="680.0" y="1100.7" width="5.0" height="8.0" rx="0" stroke="#000" stroke-width="0.6" fill="url(#hatch)" />
<path d="M629,1108 L641,1108 L635,1117 Z M629,1117 L641,1117" stroke="#222" stroke-width="0.9" fill="none" />
<rect x="540.7" y="1124.0" width="16.7" height="17.0" rx="0" stroke="#111" stroke-width="1" fill="none" />
<rect x="540.7" y="1142.5" width="8.8" height="16.5" rx="0" stroke="#111" stroke-width="1" fill="none" />
<rect x="572.0" y="1122.0" width="33.0" height="55.0" rx="0" stroke="#111" stroke-width="1" fill="none" />
<rect x="571.2" y="1121.2" width="1.6" height="1.6" rx="0" stroke="none" stroke-width="0" fill="#000" />
<rect x="571.2" y="1134.2" width="1.6" height="1.6" rx="0" stroke="none" stroke-width="0" fill="#000" />
<rect x="571.2" y="1148.2" width="1.6" height="1.6" rx="0" stroke="none" stroke-width="0" fill="#000" />
<rect x="571.2" y="1162.2" width="1.6" height="1.6" rx="0" stroke="none" stroke-width="0" fill="#000" />
<rect x="571.2" y="1176.2" width="1.6" height="1.6" rx="0" stroke="none" stroke-width="0" fill="#000" />
<rect x="604.2" y="1121.2" width="1.6" height="1.6" rx="0" stroke="none" stroke-width="0" fill="#000" />
<rect x="604.2" y="1134.2" width="1.6" height="1.6" rx="0" stroke="none" stroke-width="0" fill="#000" />
<rect x="604.2" y="1148.2" width="1.6" height="1.6" rx="0" stroke="none" stroke-width="0" fill="#000" />
<rect x="604.2" y="1162.2" width="1.6" height="1.6" rx="0" stroke="none" stroke-width="0" fill="#000" />
<rect x="604.2" y="1176.2" width="1.6" height="1.6" rx="0" stroke="none" stroke-width="0" fill="#000" />
<rect x="588.0" y="1148.0" width="3.0" height="3.0" rx="0" stroke="none" stroke-width="0" fill="#222" opacity="0.5"/>
<rect x="611.0" y="1125.0" width="7.0" height="21.0" rx="0" stroke="#111" stroke-width="1" fill="none" />
<path d="M611,1125 L618,1146 M618,1125 L611,1146" stroke="#111" stroke-width="0.7" fill="none" />
<rect x="629.0" y="1151.0" width="36.0" height="23.0" rx="0" stroke="#909090" stroke-width="1.1" fill="none" />
<rect x="632.0" y="1154.0" width="30.0" height="17.0" rx="0" stroke="#909090" stroke-width="0.9" fill="none" />
<path d="M651.2,1132.7 V1148.7 H693.4 V1162.2 H720.5 A10,22 0 0 0 720.5,1118.4 H693.4 V1132.7 Z" stroke="#111" stroke-width="1.1" fill="none" />
<path d="M702.2,1119.2 V1133.1 H708.2 A10,10 0 1 1 718.5,1140.7 A10,10 0 1 1 708.2,1153.5 H702.2 V1162.2" stroke="#111" stroke-width="1.0" fill="none" />
<path d="M648.4,1125.5 V1151.5 H693.4 V1165 H735.7 V1135.1 H745" stroke="#909090" stroke-width="1" fill="none" />
<rect x="651.2" y="1126.3" width="28.3" height="3.2" rx="0" stroke="#000" stroke-width="0.6" fill="url(#hatch)" />
<rect x="681.0" y="1136.0" width="3.0" height="3.0" rx="0" stroke="none" stroke-width="0" fill="#222" opacity="0.5"/>
<path d="M512,1122 V1100 Q512,1096 520,1096 H548 V1122 M562.7,1122 V1096 H575 Q579.4,1096 579.4,1108 V1122 M589.7,1122 V1102 Q589.7,1096 600,1096 H744 V1115 H697" stroke="#909090" stroke-width="1" fill="none" />
<rect x="504.0" y="1115.0" width="3.0" height="7.0" rx="0" stroke="none" stroke-width="0" fill="#999" opacity="0.5"/>
<circle cx="1087.5" cy="672.0" r="28.8" stroke="#888" stroke-width="1.8" fill="none" />
<circle cx="1087.5" cy="672.0" r="26.8" stroke="#999" stroke-width="0.8" fill="none" />
<circle cx="1087.5" cy="747.0" r="28.0" stroke="#888" stroke-width="1.8" fill="none" />
<circle cx="1087.5" cy="747.0" r="26.0" stroke="#999" stroke-width="0.8" fill="none" />
<path d="M1088,640 A33,33 0 0 1 1118,680 M1088,782 A33,33 0 0 0 1118,740" stroke="#909090" stroke-width="1" fill="none" />
<polygon points="1107.5,713.5 1150.0,656.0 1178.8,668.5 1136.2,732.2" stroke="#909090" stroke-width="1.1" fill="none" />
<polygon points="1111.0,712.0 1151.0,659.0 1175.0,669.5 1135.5,728.0" stroke="#909090" stroke-width="0.9" fill="none" />
<rect x="1123.8" y="624.8" width="53.8" height="32.5" rx="0" stroke="#909090" stroke-width="1.1" fill="none" />
<rect x="1126.5" y="627.5" width="48.0" height="27.0" rx="0" stroke="#909090" stroke-width="0.9" fill="none" />
<rect x="1168.0" y="628.0" width="5.0" height="2.0" rx="0" stroke="none" stroke-width="0" fill="#777" opacity="0.5"/>
<rect x="1163.0" y="633.0" width="13.0" height="2.5" rx="0" stroke="none" stroke-width="0" fill="#777" opacity="0.5"/>
<rect x="1160.0" y="668.0" width="5.0" height="2.0" rx="0" stroke="none" stroke-width="0" fill="#777" opacity="0.5"/>
<rect x="1157.0" y="673.0" width="13.0" height="2.5" rx="0" stroke="none" stroke-width="0" fill="#777" opacity="0.5"/>
<path d="M1047.5,740 V630 Q1047.5,618.5 1060,618.5 H1180 Q1192,620 1192,640 M1047.5,740 V1138" stroke="#909090" stroke-width="1" fill="none" />
<path d="M1160,669 L1050,826 Q1047.7,830 1047.7,840 V880 Q1047.7,836 1070,836 H1113" stroke="#909090" stroke-width="0" fill="none" />
<rect x="1047.5" y="729.8" width="66.2" height="66.2" rx="0" stroke="#909090" stroke-width="1" fill="none" />
<path d="M1047.5,654.75 Q1058,652 1060,661 M1047.5,757 Q1058,767 1060,766" stroke="#333" stroke-width="2" fill="none" />
<polygon points="1065.0,695.0 1073.0,698.0 1070.0,704.0 1062.0,701.0" stroke="#909090" stroke-width="1" fill="none" />
<polygon points="1065.0,722.0 1073.0,719.0 1076.0,724.0 1068.0,727.0" stroke="#909090" stroke-width="1" fill="none" />
<line x1="1087.5" y1="700.8" x2="1087.5" y2="719.0" stroke="#909090" stroke-width="1" />
<line x1="1082.0" y1="711.0" x2="1092.0" y2="711.0" stroke="#909090" stroke-width="1" />
<line x1="1037.5" y1="761.0" x2="1150.0" y2="827.0" stroke="#000" stroke-width="1.0" />
<line x1="1150.0" y1="827.0" x2="1244.0" y2="827.0" stroke="#000" stroke-width="1.0" />
<path d="M1155.8,813.5L1161.6,813.5M1156.1,815.5L1156.1,822.5M1161.3,815.5L1161.3,822.5M1156.1,815.5L1161.3,815.5M1161.3,822.5L1160.7,822.0M1157.8,813.5L1157.8,817.5M1157.8,817.5L1156.8,820.5M1159.7,813.5L1159.7,817.5M1159.7,817.5L1158.7,820.5M1157.8,818.0L1158.4,819.5M1159.7,818.0L1160.3,819.5M1167.1,812.5L1167.1,814.5M1164.5,814.5L1169.7,814.5M1164.5,814.5L1164.5,816.0M1169.7,814.5L1169.7,816.0M1165.8,815.5L1167.8,817.0M1167.8,817.0L1165.8,818.5M1165.8,818.5L1168.4,818.5M1167.1,818.5L1167.1,822.5M1165.2,820.0L1164.5,821.5M1169.1,820.0L1169.7,821.5M1172.9,813.0L1177.5,813.0M1177.5,813.0L1174.9,815.5M1174.2,814.5L1176.2,815.5M1172.9,816.5L1178.1,816.5M1172.9,816.5L1172.9,817.5M1175.5,815.5L1175.5,817.5M1172.6,819.0L1178.4,819.0M1175.5,817.5L1175.5,822.5M1174.9,819.5L1172.9,822.0M1176.2,819.5L1178.4,822.0M1182.0,812.5L1182.0,822.5M1181.0,815.5L1181.3,817.5M1182.6,815.0L1183.0,816.5M1184.9,812.5L1184.9,822.0M1183.6,813.5L1183.3,816.5M1183.6,816.0L1186.8,816.0M1183.9,819.0L1186.5,819.0M1183.3,822.0L1187.2,822.0M1192.3,812.5L1192.3,816.5M1189.7,815.0L1194.9,815.0M1190.4,817.0L1194.3,817.0M1194.3,817.0L1190.4,822.5M1191.0,818.5L1194.9,822.5M1198.1,814.0L1200.7,814.0M1200.4,814.0L1200.1,817.0M1199.1,812.5L1198.1,817.5M1201.4,813.5L1203.3,813.5M1201.4,813.5L1201.4,816.5M1203.3,813.5L1203.3,816.5M1201.4,816.5L1203.3,816.5M1197.8,818.5L1203.6,818.5M1200.7,817.0L1200.7,822.5M1200.1,819.5L1198.1,822.0M1201.4,819.5L1203.6,822.0M1206.5,813.5L1211.7,813.5M1206.5,813.5L1206.5,822.0M1206.5,822.0L1212.0,822.0M1207.8,815.5L1210.4,820.5M1210.4,815.5L1207.8,820.5M1214.9,815.5L1216.9,815.5M1215.9,813.0L1215.9,820.5M1214.6,821.0L1216.9,819.5M1217.2,815.0L1220.8,815.0M1217.5,816.5L1219.1,816.5M1217.5,816.5L1217.5,818.5M1219.1,816.5L1219.1,818.5M1217.5,818.5L1219.1,818.5M1217.2,820.5L1219.5,819.5M1219.5,812.5L1220.4,822.5M1220.4,816.5L1219.8,819.5M1225.9,812.5L1226.3,814.0M1223.0,814.5L1228.8,814.5M1225.3,814.5L1223.3,822.5M1225.0,817.0L1228.2,817.0M1228.2,817.0L1227.9,822.0M1227.9,822.0L1226.9,821.5M1234.3,812.5L1234.3,813.5M1231.7,813.5L1236.9,813.5M1231.7,813.5L1231.7,815.0M1236.9,813.5L1236.9,815.0M1233.0,814.5L1235.0,816.5M1235.6,814.5L1232.4,817.5M1231.7,817.0L1236.9,817.0M1231.4,819.0L1237.2,819.0M1234.3,817.5L1234.3,822.5M1233.7,819.5L1231.7,822.0M1235.0,819.5L1237.2,822.0" stroke="#111" stroke-width="1.3" fill="none" stroke-linecap="square"/>
<rect x="1081.0" y="621.0" width="7.0" height="3.0" rx="0" stroke="none" stroke-width="0" fill="#999" opacity="0.5"/>
<rect x="1084.0" y="765.0" width="3.0" height="3.0" rx="0" stroke="none" stroke-width="0" fill="#888" opacity="0.5"/>
<rect x="1078.0" y="773.0" width="13.0" height="3.0" rx="0" stroke="none" stroke-width="0" fill="#888" opacity="0.5"/>
<rect x="183.8" y="567.5" width="3.8" height="7.5" rx="0" stroke="none" stroke-width="0" fill="#888" opacity="0.45"/>
<rect x="504.0" y="505.0" width="5.0" height="9.0" rx="0" stroke="none" stroke-width="0" fill="#888" opacity="0.45"/>
<rect x="772.8" y="576.0" width="5.0" height="9.0" rx="0" stroke="none" stroke-width="0" fill="#888" opacity="0.45"/>
<rect x="1041.8" y="541.0" width="3.8" height="9.0" rx="0" stroke="none" stroke-width="0" fill="#888" opacity="0.45"/>
<rect x="1041.8" y="280.0" width="3.8" height="9.0" rx="0" stroke="none" stroke-width="0" fill="#888" opacity="0.45"/>
<rect x="1199.7" y="504.0" width="4.2" height="8.3" rx="0" stroke="none" stroke-width="0" fill="#888" opacity="0.45"/>
<rect x="1200.0" y="270.0" width="4.0" height="9.0" rx="0" stroke="none" stroke-width="0" fill="#888" opacity="0.45"/>
<rect x="328.8" y="410.0" width="7.3" height="5.0" rx="0" stroke="none" stroke-width="0" fill="#888" opacity="0.45"/>
<rect x="679.0" y="187.5" width="7.5" height="5.0" rx="0" stroke="none" stroke-width="0" fill="#888" opacity="0.45"/>
<rect x="994.0" y="187.5" width="9.0" height="5.0" rx="0" stroke="none" stroke-width="0" fill="#888" opacity="0.45"/>
<rect x="1101.5" y="424.0" width="6.5" height="4.0" rx="0" stroke="none" stroke-width="0" fill="#888" opacity="0.45"/>
<rect x="182.5" y="1062.0" width="5.0" height="9.0" rx="0" stroke="none" stroke-width="0" fill="#888" opacity="0.45"/>
<rect x="182.5" y="860.0" width="5.0" height="9.0" rx="0" stroke="none" stroke-width="0" fill="#888" opacity="0.45"/>
<rect x="503.8" y="1113.8" width="5.0" height="8.8" rx="0" stroke="none" stroke-width="0" fill="#888" opacity="0.45"/>
<rect x="503.8" y="906.0" width="5.0" height="9.0" rx="0" stroke="none" stroke-width="0" fill="#888" opacity="0.45"/>
<rect x="771.0" y="1022.5" width="4.0" height="8.5" rx="0" stroke="none" stroke-width="0" fill="#888" opacity="0.45"/>
<rect x="1038.8" y="1049.0" width="4.9" height="8.0" rx="0" stroke="none" stroke-width="0" fill="#888" opacity="0.45"/>
<rect x="914.7" y="1088.0" width="8.2" height="5.0" rx="0" stroke="none" stroke-width="0" fill="#888" opacity="0.45"/>
<rect x="330.7" y="1155.0" width="7.9" height="5.0" rx="0" stroke="none" stroke-width="0" fill="#888" opacity="0.45"/>
<rect x="600.0" y="753.5" width="9.0" height="5.0" rx="0" stroke="none" stroke-width="0" fill="#888" opacity="0.45"/>
<rect x="884.0" y="755.0" width="7.8" height="5.0" rx="0" stroke="none" stroke-width="0" fill="#888" opacity="0.45"/>
<rect x="1038.0" y="781.0" width="6.0" height="9.0" rx="0" stroke="none" stroke-width="0" fill="#888" opacity="0.45"/>
<rect x="769.0" y="785.0" width="6.0" height="8.5" rx="0" stroke="none" stroke-width="0" fill="#888" opacity="0.45"/>
<rect x="1081.0" y="621.0" width="7.0" height="3.0" rx="0" stroke="none" stroke-width="0" fill="#888" opacity="0.45"/>
<path d="M575.1,1233.7L580.3,1233.7M576.4,1232.0L576.4,1238.0M579.0,1232.0L579.0,1238.0M576.4,1235.3L579.0,1235.3M576.4,1237.0L579.0,1237.0M574.8,1238.0L580.6,1238.0M576.4,1238.0L575.1,1240.2M579.0,1238.0L580.3,1240.2M577.7,1238.6L577.7,1242.5M576.4,1240.8L579.0,1240.8M575.5,1242.5L580.0,1242.5M583.2,1233.1L585.5,1233.1M584.2,1233.1L583.5,1237.5M583.5,1237.5L585.2,1237.5M583.5,1237.5L583.5,1242.5M585.2,1237.5L585.2,1242.5M583.5,1242.5L585.2,1242.5M586.1,1233.1L589.0,1233.1M587.6,1233.1L587.6,1241.9M586.1,1236.4L586.1,1242.5M589.0,1236.4L589.0,1242.5M586.1,1242.5L589.0,1242.5M591.6,1234.8L597.4,1234.8M594.9,1232.0L591.9,1239.7M593.2,1237.5L597.1,1237.5M593.2,1237.5L593.2,1243.0M597.1,1237.5L597.1,1241.9M595.2,1235.8L595.2,1243.0M600.3,1232.5L605.5,1232.5M600.3,1232.5L600.3,1234.8M605.5,1232.5L605.5,1234.8M600.3,1234.8L605.5,1234.8M602.1,1232.5L602.1,1234.8M603.8,1232.5L603.8,1234.8M600.0,1235.8L605.8,1235.8M602.9,1235.3L602.9,1237.0M601.3,1237.0L601.3,1243.0M601.3,1237.0L604.9,1237.0M604.9,1237.0L604.9,1242.5M602.0,1238.6L604.9,1238.6M602.0,1240.2L604.9,1240.2M600.0,1243.0L606.2,1243.0M608.4,1232.5L614.2,1232.5M608.4,1232.5L608.4,1243.0M614.2,1232.5L614.2,1243.0M608.4,1243.0L614.2,1243.0M610.7,1233.7L609.4,1236.4M610.4,1234.8L612.6,1234.8M612.6,1234.8L609.7,1239.7M610.7,1236.4L613.3,1239.7M610.7,1239.2L612.0,1240.2M610.7,1240.8L612.0,1241.9" stroke="#111" stroke-width="1.4" fill="none" stroke-linecap="square"/>
<line x1="575.0" y1="1246.6" x2="629.0" y2="1246.6" stroke="#000" stroke-width="1.0" />
<line x1="575.0" y1="1249.2" x2="629.0" y2="1249.2" stroke="#000" stroke-width="1.0" />
<polyline points="176.0,27.5 733.0,54.0 741.0,60.0" stroke="#000" stroke-width="1.6" fill="none" />
<polyline points="823.0,59.0 1101.5,72.5 1215.5,79.0 1214.0,667.0 1062.0,891.0 1067.0,1077.0" stroke="#000" stroke-width="1.6" fill="none" />
<polyline points="1067.0,1090.0 1070.5,1209.0 1017.6,1207.6 1017.6,1203.0 736.0,1193.0 736.0,1196.4 512.0,1188.5" stroke="#000" stroke-width="1.6" fill="none" />
<polyline points="498.0,1188.8 172.8,1172.8 176.0,27.5" stroke="#000" stroke-width="1.6" fill="none" />
</svg></body></html>
